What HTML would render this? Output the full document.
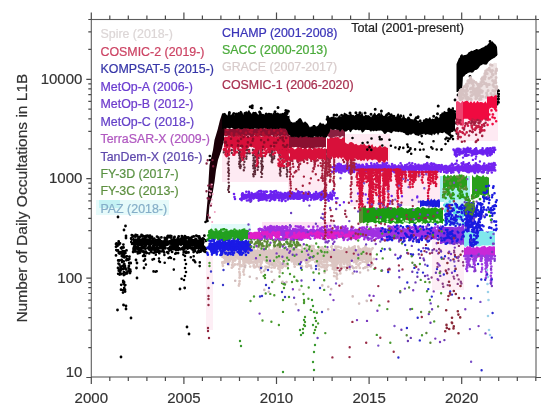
<!DOCTYPE html>
<html><head><meta charset="utf-8"><style>
html,body{margin:0;padding:0;background:#fff;width:550px;height:415px;overflow:hidden}
svg{position:absolute;left:0;top:0;filter:blur(0.35px)}
text{font-family:"Liberation Sans",sans-serif}
.tk{font-size:15px;fill:#333}
.lg{font-size:12.4px;stroke-width:0.22px}
.tk,.yl{stroke:#333;stroke-width:0.2px}
.yl{font-size:15.5px;fill:#333}
</style></head><body>
<svg width="550" height="415" viewBox="0 0 550 415">
<rect x="222" y="146" width="68" height="36" fill="#feeaf3"/>
<rect x="288" y="152" width="40" height="40" fill="#feeaf3"/>
<rect x="328" y="134" width="62" height="30" fill="#feeaf3"/>
<rect x="350" y="170" width="90" height="36" fill="#feeaf3"/>
<rect x="456" y="95" width="42" height="46" fill="#feeaf3"/>
<rect x="211" y="224" width="40" height="8" fill="#e2fafa"/>
<rect x="262" y="222" width="72" height="6" fill="#fde3f3"/>
<rect x="432" y="240" width="32" height="50" fill="#fdeef5"/>
<rect x="96" y="200" width="73" height="15" fill="#e6fafa"/>
<rect x="206" y="255" width="7" height="75" fill="#fdeef5"/>
<rect x="99" y="200" width="21" height="8" fill="#c4f2f4"/>
<path d="M224.0 248.9 225.6 247.9 227.2 250.8 228.8 247.3 230.4 250.0 232.0 249.0 233.6 247.1 235.2 249.7 236.8 246.9 238.4 249.2 240.0 247.0 241.6 247.1 243.2 249.0 244.8 251.4 246.4 247.2 248.0 247.7 249.6 250.1 251.2 252.0 252.8 249.7 254.4 248.6 256.0 252.0 257.6 246.4 259.2 251.2 260.8 247.8 262.4 246.9 264.0 246.7 265.6 247.8 267.2 250.8 268.8 246.9 270.4 249.3 272.0 249.6 273.6 247.9 275.2 248.9 276.8 246.0 278.4 245.9 280.0 246.8 281.6 249.6 283.2 248.0 284.8 247.3 286.4 248.9 288.0 248.0 289.6 247.1 291.2 250.0 292.8 249.4 294.4 246.6 296.0 248.6 297.6 248.2 299.2 250.3 300.8 249.4 302.4 246.7 304.0 250.9 305.6 245.7 307.2 247.5 308.8 249.5 310.4 245.9 312.0 247.9 313.6 245.2 315.2 249.0 316.8 249.6 318.4 248.4 320.0 250.3 321.6 246.9 323.2 249.2 324.8 248.6 326.4 248.5 328.0 247.7 329.6 250.0 331.2 250.7 332.8 247.8 334.4 249.0 336.0 245.4 337.6 249.2 339.2 248.9 340.8 251.0 342.4 249.9 344.0 246.7 345.6 247.3 347.2 249.0 348.8 245.1 350.4 247.8 352.0 246.2 353.6 246.0 355.2 245.8 356.8 250.2 358.4 246.5 360.0 247.4 361.6 248.4 363.2 251.4 364.8 246.8 366.4 249.2 368.0 249.9 369.6 252.1 371.2 251.8 372.0 252.2 372.0 260.7 371.2 261.5 369.6 261.2 368.0 264.4 366.4 264.8 364.8 260.0 363.2 260.2 361.6 260.5 360.0 260.6 358.4 262.1 356.8 262.7 355.2 260.8 353.6 259.3 352.0 261.8 350.4 261.5 348.8 262.7 347.2 265.1 345.6 263.5 344.0 262.5 342.4 263.1 340.8 263.5 339.2 259.8 337.6 264.9 336.0 264.2 334.4 264.8 332.8 264.3 331.2 261.9 329.6 262.0 328.0 260.2 326.4 263.4 324.8 260.0 323.2 260.1 321.6 261.0 320.0 260.7 318.4 261.8 316.8 260.1 315.2 259.8 313.6 260.7 312.0 260.4 310.4 262.0 308.8 260.0 307.2 265.1 305.6 263.6 304.0 260.8 302.4 261.5 300.8 262.1 299.2 262.2 297.6 260.7 296.0 265.0 294.4 265.8 292.8 262.6 291.2 262.7 289.6 260.2 288.0 260.3 286.4 261.7 284.8 261.2 283.2 264.5 281.6 260.5 280.0 259.6 278.4 265.1 276.8 262.6 275.2 260.2 273.6 262.6 272.0 259.4 270.4 262.4 268.8 265.0 267.2 264.3 265.6 263.3 264.0 260.6 262.4 261.2 260.8 260.0 259.2 263.6 257.6 262.1 256.0 263.5 254.4 260.8 252.8 260.1 251.2 263.6 249.6 264.6 248.0 263.7 246.4 263.4 244.8 263.5 243.2 262.9 241.6 259.8 240.0 261.5 238.4 260.5 236.8 258.5 235.2 258.5 233.6 259.9 232.0 259.8 230.4 262.3 228.8 263.9 227.2 260.8 225.6 263.7 224.0 263.9Z" fill="#dcc6c2"/>
<path d="M367.2 254.0h0M255.5 251.0h0M251.9 250.5h0M316.9 265.8h0M349.7 256.5h0M321.3 263.6h0M234.9 260.5h0M360.3 263.2h0M336.0 256.5h0M249.1 263.4h0M272.5 263.6h0M369.7 254.7h0M283.0 266.8h0M332.2 249.7h0M241.3 249.3h0M359.5 263.7h0M244.2 264.2h0M371.0 260.5h0M275.3 258.1h0M241.9 246.3h0M369.6 260.3h0M302.0 266.5h0M287.9 265.2h0M347.6 250.6h0M260.3 252.4h0M258.6 258.9h0M261.4 255.2h0M241.9 266.0h0M275.8 256.1h0M310.7 265.9h0M285.9 266.2h0M298.3 257.7h0M301.6 246.4h0M288.9 250.0h0M222.6 263.6h0M248.2 256.4h0M332.2 258.2h0M271.5 257.4h0M306.4 263.3h0M238.1 258.3h0M259.8 252.1h0M339.4 257.2h0M307.4 262.7h0M360.7 255.8h0M315.1 257.1h0M299.8 261.2h0M290.8 257.7h0M294.7 266.7h0M328.3 265.3h0M365.2 251.7h0M307.0 266.8h0M349.7 249.0h0M240.5 255.7h0M233.0 251.3h0M233.1 260.7h0M341.2 265.7h0M245.5 261.8h0M322.4 249.1h0M356.2 267.3h0M255.4 267.0h0M282.5 256.7h0M372.5 264.3h0M246.5 255.5h0M300.4 253.5h0M251.8 253.0h0M331.8 246.4h0M306.2 255.7h0M224.7 253.3h0M316.8 257.3h0M231.8 267.7h0M341.8 267.4h0M237.9 251.8h0M228.0 263.1h0M263.1 248.9h0M286.2 266.1h0M346.5 251.7h0M244.7 266.2h0M308.7 261.4h0M235.6 247.3h0M326.6 255.4h0M233.0 266.6h0M318.4 263.6h0M234.7 264.8h0M232.1 265.0h0M291.0 253.5h0M306.1 266.4h0M262.7 248.8h0M302.1 251.2h0M238.6 249.6h0M229.7 250.4h0M269.4 252.7h0M337.4 252.4h0M298.0 249.9h0M274.7 246.4h0M260.1 246.3h0M333.4 258.1h0M250.8 256.4h0M364.1 248.3h0M346.5 255.5h0M297.2 264.4h0M281.7 257.1h0M326.5 267.6h0M274.1 264.3h0M329.4 260.0h0M283.5 253.6h0M230.3 248.9h0M232.7 262.3h0M260.9 249.6h0M234.8 264.5h0M354.3 260.8h0M264.9 251.3h0M266.5 256.1h0M245.9 255.8h0M262.0 267.2h0M369.8 258.0h0M259.2 267.2h0M269.1 253.8h0M222.2 254.4h0M294.1 257.1h0M252.5 257.1h0M222.8 251.8h0M235.6 254.8h0M228.3 246.5h0M268.2 251.1h0M311.0 257.6h0M336.1 260.5h0M330.8 265.3h0M281.2 253.2h0M371.7 249.3h0M332.1 260.2h0M228.7 264.4h0M357.6 259.8h0M333.5 263.9h0M243.2 257.5h0M298.7 264.4h0M344.3 264.2h0M310.8 265.6h0M325.8 261.3h0M257.0 246.7h0M242.2 253.9h0M237.9 264.4h0M306.9 259.8h0M317.2 261.0h0M296.4 246.1h0M343.3 262.5h0M298.5 257.8h0M322.2 247.5h0M334.0 251.5h0M233.3 251.8h0M332.9 250.5h0M334.5 267.5h0M297.1 254.4h0M294.8 261.0h0M338.6 259.6h0M319.7 247.7h0M244.4 251.6h0M335.0 252.7h0M308.3 246.3h0M231.2 251.9h0M324.1 261.2h0M324.7 252.4h0M300.5 256.2h0M292.9 248.6h0M357.8 250.4h0M370.7 266.6h0M224.7 256.1h0M346.6 267.3h0M290.3 251.9h0M253.9 266.8h0M254.0 258.8h0M243.5 257.5h0M366.8 248.9h0M346.7 257.2h0M356.8 261.5h0M257.2 265.7h0M295.9 246.5h0M222.5 256.8h0M290.5 252.6h0M243.4 253.6h0M270.0 264.5h0M222.3 262.5h0M349.5 248.6h0M362.8 261.7h0M359.0 252.4h0M278.6 254.6h0M373.8 259.0h0M276.8 255.4h0M263.8 247.1h0M237.5 264.4h0M265.4 266.6h0M259.9 251.8h0M299.7 250.2h0M278.7 267.0h0M356.4 263.9h0M317.9 266.1h0M365.0 258.1h0M331.4 247.1h0M333.3 255.9h0M336.4 260.2h0M265.5 247.1h0M362.9 248.8h0M293.8 253.6h0M267.3 262.3h0M370.4 251.7h0M321.7 252.6h0M306.7 254.7h0M247.4 249.6h0M253.6 265.9h0M297.6 250.8h0M359.8 267.9h0M290.4 249.1h0M251.2 248.0h0M274.0 248.0h0M258.3 251.7h0M308.6 265.5h0M335.9 255.1h0M284.9 257.5h0M279.3 253.4h0M231.4 252.1h0M369.1 248.8h0M298.5 259.9h0M353.2 250.8h0M263.2 251.5h0M282.8 255.8h0M367.0 264.7h0M354.7 246.5h0M226.9 261.6h0M358.1 256.4h0M311.3 246.0h0M281.5 266.4h0M347.5 264.8h0M369.8 251.5h0M238.6 249.4h0M301.4 261.0h0M365.1 261.9h0M320.4 262.8h0M291.5 258.1h0M228.0 263.2h0M257.4 266.2h0M320.1 252.7h0M241.5 251.5h0M318.7 261.4h0M239.0 247.5h0M301.7 258.8h0M281.0 250.9h0M313.4 246.2h0M267.8 256.1h0M367.8 260.2h0M356.3 256.5h0M257.7 251.4h0M368.0 261.5h0M268.7 246.5h0M297.7 260.8h0M285.8 251.7h0M323.4 266.4h0M256.5 246.8h0M273.4 255.3h0M325.8 250.4h0M343.2 262.3h0M298.7 250.5h0M369.4 252.9h0M346.6 251.1h0M255.7 262.7h0M266.8 266.9h0M297.4 250.1h0M255.9 255.2h0M323.1 266.9h0M244.3 254.7h0M254.4 267.4h0M243.6 247.1h0M231.1 254.7h0M358.5 265.4h0M333.4 267.9h0M363.6 253.2h0M250.2 266.6h0M335.4 246.7h0M323.0 254.3h0M278.8 253.3h0M247.7 246.1h0M264.5 253.7h0M367.2 248.7h0M368.6 250.6h0M276.2 264.1h0M346.9 255.5h0M229.5 256.4h0M278.7 266.2h0M251.3 254.0h0M358.3 246.7h0M284.4 263.9h0M338.5 246.9h0M227.3 247.4h0M361.9 251.7h0M335.6 265.8h0M273.5 252.0h0M367.6 259.6h0M261.9 261.8h0M270.1 252.1h0M222.6 262.6h0M361.3 259.9h0M365.4 246.5h0M257.5 256.5h0M367.4 267.0h0M280.8 251.5h0M287.4 256.9h0M363.1 250.0h0M344.0 262.2h0M347.1 263.0h0M314.3 253.2h0M270.6 254.0h0M340.9 247.7h0M252.0 262.6h0M259.6 247.4h0M227.1 258.2h0M271.5 267.6h0M356.3 267.7h0M262.3 247.8h0M236.7 257.0h0M329.9 255.8h0M257.6 255.2h0M316.3 260.8h0M335.7 264.6h0M323.0 248.7h0M349.8 252.5h0M308.2 254.2h0M334.2 250.4h0M259.6 251.4h0M245.3 265.5h0M309.9 253.2h0M282.2 267.8h0M299.1 251.1h0M344.9 260.4h0M372.6 248.3h0M294.2 264.0h0M349.8 266.1h0M228.1 252.5h0M240.1 250.2h0M369.9 258.8h0M363.4 254.2h0M353.7 255.9h0M261.5 263.1h0M365.7 248.3h0M312.6 259.6h0M255.1 254.1h0M243.5 250.5h0M260.7 259.2h0M321.0 250.5h0M223.7 253.2h0M325.1 250.1h0M269.5 250.5h0M342.9 258.1h0M231.6 248.2h0M282.1 258.1h0M319.2 248.0h0M246.9 261.3h0M284.3 252.2h0M268.8 267.0h0M269.5 258.5h0M276.3 255.2h0M353.4 267.9h0M277.3 250.3h0M332.7 250.5h0M222.9 265.8h0M286.4 264.0h0M283.7 265.4h0M292.1 249.6h0M224.3 258.1h0M319.4 266.0h0M235.5 259.7h0M278.4 257.1h0M244.2 252.2h0M301.2 266.4h0M238.5 256.8h0M344.3 267.3h0M252.0 248.8h0M365.3 267.5h0M295.4 247.2h0M362.8 254.5h0M359.4 259.6h0M347.3 249.5h0M341.4 250.9h0M283.5 264.6h0M348.0 250.0h0M255.2 254.8h0M300.7 254.4h0M240.7 251.4h0M332.2 265.7h0M228.2 258.4h0M337.1 246.8h0M349.4 248.6h0M313.1 258.1h0M317.3 252.7h0M285.9 258.8h0M286.7 260.5h0M289.9 255.6h0M225.6 259.6h0M296.4 251.2h0M338.1 263.2h0M291.7 250.0h0M293.9 248.4h0M241.5 255.5h0M235.9 255.7h0M299.7 262.0h0M332.6 262.0h0M332.6 263.6h0M333.1 265.9h0M333.0 267.7h0M332.0 262.0h0M332.3 265.5h0M332.8 268.9h0M340.2 262.0h0M341.0 264.2h0M341.2 266.1h0M341.1 268.2h0M340.7 270.0h0M340.3 273.4h0M298.3 262.0h0M298.5 263.9h0M324.2 262.0h0M324.1 265.1h0M324.8 267.7h0M325.0 269.9h0M324.7 272.6h0M239.6 262.0h0M239.8 264.3h0M240.1 266.4h0M239.3 269.1h0M239.4 272.1h0M239.8 274.0h0M239.9 275.6h0M239.6 277.7h0M239.6 281.2h0M239.3 284.0h0M238.9 285.6h0M315.2 262.0h0M243.7 262.0h0M223.9 262.0h0M257.3 262.0h0M257.3 263.9h0M243.6 262.0h0M243.5 263.8h0M244.4 266.6h0M243.8 269.7h0M243.4 271.8h0M244.0 274.6h0M320.1 262.0h0M260.2 262.0h0M260.7 264.6h0M260.2 266.6h0M260.2 269.7h0M261.3 272.3h0M253.5 262.0h0M253.9 264.8h0M269.2 262.0h0M339.3 262.0h0M340.2 265.2h0M340.2 267.7h0M257.1 262.0h0M273.9 262.0h0M273.9 265.2h0M273.7 267.3h0M340.4 262.0h0M341.2 264.8h0M354.0 262.0h0M334.4 262.0h0M334.6 264.2h0M333.8 266.4h0M334.3 269.7h0M334.3 272.6h0M334.1 276.1h0M327.2 262.0h0M327.3 265.0h0M326.9 267.1h0M326.7 269.9h0M244.9 262.0h0M274.5 262.0h0M326.7 262.0h0M326.0 265.0h0M278.2 262.0h0M277.3 265.3h0M278.3 268.6h0M239.4 262.0h0M349.6 262.0h0M349.6 265.2h0M349.0 267.3h0M349.8 269.0h0M270.7 262.0h0M271.0 264.0h0M279.0 262.0h0M349.4 262.0h0M349.9 264.4h0M275.4 262.0h0M275.8 264.0h0M275.7 265.7h0M274.7 267.6h0M336.2 262.0h0M336.8 264.5h0M336.4 267.6h0M336.6 270.1h0M336.5 273.3h0M336.5 276.7h0M337.0 278.7h0M239.8 262.0h0M240.5 265.1h0M316.8 262.0h0M356.2 262.0h0M255.0 262.0h0M279.8 262.0h0M280.2 264.5h0M280.4 267.5h0M280.0 270.3h0M279.7 272.5h0M321.6 262.0h0M322.3 264.4h0M321.5 267.1h0" stroke="#dcc6c2" stroke-width="2.8" stroke-linecap="round" fill="none"/>
<path d="M123.4 244.6h0M116.8 245.5h0M121.7 253.7h0M116.5 243.3h0M117.4 245.9h0M120.0 243.4h0M118.1 243.8h0M124.3 251.9h0M116.0 255.4h0M116.0 246.8h0M124.3 252.9h0M122.0 247.5h0M116.9 250.6h0M116.0 244.1h0M118.7 241.5h0M118.8 252.9h0M121.6 248.5h0M121.0 247.9h0M116.3 250.1h0M118.8 252.1h0M123.6 247.5h0M120.5 252.2h0M119.0 244.4h0M121.9 254.2h0M122.4 251.5h0M123.1 251.2h0M121.1 247.8h0M118.0 250.4h0M119.3 260.5h0M128.6 267.8h0M126.5 256.3h0M123.7 261.4h0M126.4 260.2h0M127.1 273.3h0M120.5 266.4h0M128.5 259.7h0M124.6 274.4h0M118.5 263.6h0M120.2 269.5h0M130.7 263.0h0M119.4 264.4h0M125.3 267.9h0M124.9 266.0h0M129.2 263.0h0M123.5 273.7h0M120.8 267.1h0M123.3 269.1h0M119.7 274.6h0M122.8 251.4h0M121.7 260.0h0M118.2 260.5h0M123.7 267.5h0M122.8 256.6h0M121.0 268.5h0M130.7 263.2h0M121.0 270.0h0M123.3 255.3h0M119.7 269.4h0M128.9 265.9h0M124.3 264.1h0M121.1 274.1h0M122.8 266.0h0M129.1 270.4h0M124.3 257.4h0M125.4 253.1h0M129.3 258.9h0M129.5 256.7h0M123.1 256.3h0M123.8 254.6h0M118.0 268.0h0M121.8 256.1h0M122.1 262.0h0M123.8 265.9h0M126.9 259.1h0M130.5 271.4h0M118.8 270.7h0M130.2 269.6h0M119.9 270.8h0M126.5 250.4h0M118.2 273.8h0M126.9 256.3h0M119.4 253.6h0M121.2 269.4h0M122.7 253.8h0M130.2 269.8h0M120.3 272.3h0M126.2 269.5h0M127.0 272.3h0M128.6 271.0h0M120.7 267.3h0M125.2 268.5h0M123.9 272.1h0M125.5 256.6h0M121.2 253.5h0M124.7 251.5h0M123.8 275.0h0M123.9 282.5h0M124.2 290.1h0M121.0 289.7h0M123.8 283.8h0M125.0 289.7h0M123.2 280.8h0M126.8 273.6h0M124.8 285.4h0M121.2 284.8h0M125.1 291.6h0M123.0 292.6h0M124.1 282.2h0M126.4 272.7h0M125.3 285.1h0M123.0 290.1h0M123.2 282.0h0M124.2 288.2h0M118.0 217.0h0M125.5 226.0h0M124.0 230.0h0M126.0 236.0h0M126.0 238.0h0M121.0 357.0h0M117.5 310.0h0M123.5 305.0h0M126.0 306.0h0M126.0 309.0h0M137.0 278.0h0M136.0 260.0h0M137.0 263.0h0M136.5 268.0h0M144.0 255.0h0M145.0 256.0h0M144.0 268.0h0M130.0 273.0h0M131.0 318.0h0M180.0 289.0h0M184.7 288.0h0M187.0 327.0h0M189.0 334.0h0" stroke="#000" stroke-width="2.8" stroke-linecap="round" fill="none"/>
<path d="M133.0 237.6 134.6 238.4 136.2 238.4 137.8 238.8 139.4 239.7 141.0 238.2 142.6 239.8 144.2 238.6 145.8 239.0 147.4 238.3 149.0 239.1 150.6 240.6 152.2 239.7 153.8 240.1 155.4 238.8 157.0 238.8 158.6 238.8 160.2 239.8 161.8 239.9 163.4 240.4 165.0 238.2 166.6 240.3 168.2 240.9 169.8 239.9 171.4 238.4 173.0 239.2 174.6 238.4 176.2 239.0 177.8 241.2 179.4 240.3 181.0 240.5 182.6 240.8 184.2 241.1 185.8 240.2 187.4 240.2 189.0 240.2 190.6 240.4 192.2 240.0 193.8 240.3 195.4 238.8 197.0 240.1 198.6 239.5 200.2 240.4 201.8 238.3 203.4 238.6 204.0 238.1 204.0 247.8 203.4 248.2 201.8 247.4 200.2 246.5 198.6 247.8 197.0 247.7 195.4 246.9 193.8 246.0 192.2 246.1 190.6 246.4 189.0 246.0 187.4 246.3 185.8 246.9 184.2 247.7 182.6 245.0 181.0 246.5 179.4 244.9 177.8 245.1 176.2 247.1 174.6 246.4 173.0 247.3 171.4 245.9 169.8 244.5 168.2 245.7 166.6 246.3 165.0 247.3 163.4 247.4 161.8 245.9 160.2 245.7 158.6 244.8 157.0 246.4 155.4 245.1 153.8 245.0 152.2 244.5 150.6 244.5 149.0 246.6 147.4 244.9 145.8 247.4 144.2 244.8 142.6 247.1 141.0 244.9 139.4 244.6 137.8 246.7 136.2 245.2 134.6 246.7 133.0 245.1Z" fill="#000"/>
<path d="M134.8 245.8h0M184.5 247.5h0M185.7 237.0h0M178.1 245.4h0M165.5 248.1h0M150.1 248.5h0M184.8 236.1h0M132.1 243.9h0M192.3 236.9h0M154.3 245.3h0M143.4 247.0h0M167.5 236.5h0M158.6 243.2h0M163.9 244.7h0M141.9 246.1h0M158.2 244.2h0M178.2 241.5h0M159.9 246.1h0M201.9 246.8h0M173.5 239.7h0M135.5 248.6h0M183.7 247.1h0M155.9 243.6h0M204.3 247.5h0M176.1 240.0h0M163.1 247.5h0M159.3 244.7h0M176.1 247.8h0M191.6 239.7h0M131.1 238.3h0M162.7 243.4h0M192.2 248.1h0M134.2 246.6h0M191.9 247.8h0M173.9 239.5h0M194.8 247.0h0M182.3 248.2h0M157.0 236.6h0M172.5 246.4h0M146.0 245.5h0M200.9 238.9h0M176.5 244.9h0M165.9 238.4h0M150.1 245.6h0M190.4 242.1h0M137.6 246.2h0M188.9 239.0h0M174.5 247.8h0M197.4 243.0h0M166.7 243.5h0M145.2 237.7h0M144.6 244.8h0M158.2 243.1h0M161.2 242.5h0M142.2 235.5h0M205.8 240.9h0M139.0 243.8h0M190.1 237.9h0M175.8 240.5h0M170.0 236.0h0M133.5 248.9h0M196.0 242.5h0M173.5 239.3h0M189.4 241.7h0M202.0 246.6h0M192.4 249.1h0M150.0 235.7h0M146.1 237.5h0M137.3 235.4h0M172.8 247.4h0M165.4 248.3h0M199.2 236.5h0M175.9 241.2h0M140.0 248.4h0M150.3 243.0h0M179.0 248.7h0M181.2 241.2h0M164.6 237.8h0M203.4 249.8h0M147.6 235.6h0M150.2 240.0h0M198.7 248.5h0M193.8 236.4h0M190.0 245.6h0M179.5 249.1h0M135.2 236.7h0M187.6 248.7h0M181.8 240.0h0M175.4 245.9h0M138.9 239.4h0M150.3 236.9h0M167.1 237.9h0M148.9 237.1h0M181.8 236.1h0M184.8 238.5h0M133.7 248.0h0M147.5 248.1h0M196.0 248.2h0M141.5 241.2h0M138.3 248.0h0M194.2 244.5h0M164.9 240.2h0M192.7 242.4h0M178.1 237.8h0M147.6 235.9h0M184.5 243.4h0M141.9 247.2h0M151.0 240.9h0M142.7 238.7h0M194.0 240.4h0M143.6 241.8h0M154.9 247.7h0M139.6 248.7h0M135.3 247.5h0M181.1 238.8h0M166.8 239.5h0M150.3 238.0h0M158.3 248.9h0M205.9 248.9h0M138.3 238.9h0M198.2 236.5h0M185.5 239.9h0M204.4 235.7h0M191.5 240.5h0M141.5 234.9h0M193.4 243.1h0M144.9 241.1h0M199.4 238.7h0M173.9 237.7h0M144.5 245.8h0M184.4 238.6h0M136.9 236.0h0M176.6 242.5h0M151.5 238.0h0M176.9 245.3h0M191.9 243.8h0M146.2 235.9h0M186.0 241.4h0M185.1 236.6h0M191.8 240.4h0M194.1 247.8h0M168.0 235.9h0M199.3 242.4h0M196.4 239.4h0M145.0 246.6h0M158.5 237.7h0M158.8 243.5h0M131.3 242.0h0M164.4 242.5h0M140.1 245.0h0M192.2 247.8h0M155.1 245.1h0M159.6 245.6h0M135.6 247.2h0M202.6 242.7h0M169.5 242.8h0M171.3 236.1h0M203.6 238.8h0M144.7 236.4h0M149.8 246.5h0M133.3 236.0h0M183.4 238.6h0M132.3 243.2h0M174.2 242.8h0M183.7 237.3h0M196.2 245.8h0M134.4 236.4h0M168.0 242.4h0M152.0 236.9h0M161.4 237.4h0M175.4 247.3h0M142.0 243.0h0M187.0 238.1h0M193.0 248.8h0M160.2 241.2h0M194.0 243.1h0M160.7 248.2h0M189.3 240.5h0M149.0 239.8h0M163.7 248.7h0M191.3 248.4h0M192.1 247.5h0M135.0 242.1h0M202.8 249.0h0M149.7 241.0h0M178.5 240.8h0M170.8 236.7h0M163.5 242.4h0M132.6 236.6h0M203.7 246.7h0M201.3 244.6h0M191.7 248.0h0M197.3 236.1h0M179.1 239.5h0M181.9 239.6h0M171.7 248.0h0M177.6 239.3h0M170.0 241.5h0M202.3 239.7h0M153.9 244.2h0M140.0 243.2h0M202.7 242.9h0M151.1 241.6h0M171.0 237.7h0M140.3 236.7h0M153.0 240.8h0M152.6 238.6h0M137.6 242.5h0M194.0 244.2h0M173.8 244.5h0M146.1 245.0h0M165.6 243.0h0M177.0 242.1h0M154.3 238.6h0M147.6 242.2h0M159.7 243.4h0M131.9 239.6h0M195.6 239.0h0M172.7 242.3h0M152.4 248.8h0M153.2 245.9h0M142.9 235.9h0M196.3 241.9h0M135.7 240.2h0M164.0 245.5h0M139.2 238.0h0M202.9 246.2h0M142.6 239.7h0M157.4 244.6h0M177.2 247.2h0M192.6 242.9h0M186.4 246.0h0M188.0 242.3h0M189.9 245.6h0M199.6 237.4h0M196.3 235.7h0M188.4 243.9h0M168.3 248.5h0M173.9 241.4h0M189.8 247.8h0M176.6 241.0h0M164.9 241.7h0M185.2 239.9h0M160.3 243.0h0M159.8 239.8h0M190.0 247.5h0M168.5 241.6h0M144.8 239.2h0M141.9 243.0h0M174.6 237.0h0M200.0 240.2h0M194.3 247.4h0M202.9 238.5h0M163.0 247.8h0M131.8 235.2h0M173.4 242.4h0M200.0 246.6h0M171.4 249.0h0M169.8 242.6h0M182.4 241.2h0M157.8 243.5h0M157.3 248.3h0M181.7 243.0h0M138.4 240.1h0M161.1 243.1h0M174.1 247.5h0M203.3 242.6h0M164.0 244.0h0M205.7 240.5h0M170.8 246.6h0M143.8 239.4h0M204.4 247.5h0M169.4 237.2h0M198.1 245.4h0M192.5 249.5h0M197.6 241.6h0M142.7 239.0h0M169.4 242.4h0M145.1 237.5h0M178.3 244.0h0M157.5 248.9h0M178.7 236.5h0M161.9 246.1h0M154.0 244.8h0M131.3 238.9h0M194.2 243.9h0M181.1 238.6h0M168.3 243.1h0M151.0 244.1h0M170.9 249.0h0M174.1 241.3h0M140.1 237.0h0M188.0 237.3h0M138.5 237.2h0M170.2 246.7h0M177.0 246.6h0M135.7 234.8h0M188.8 240.3h0M184.7 240.7h0M143.7 238.7h0M138.5 247.6h0M174.7 240.5h0M164.7 240.8h0M135.1 247.4h0M174.7 248.6h0M164.0 243.9h0M149.7 235.8h0M200.8 247.8h0M154.6 247.6h0M192.2 240.0h0M176.2 253.2h0M168.2 253.2h0M149.2 249.5h0M184.9 248.4h0M154.2 252.7h0M167.3 252.2h0M149.3 248.1h0M157.9 248.2h0M203.9 248.9h0M173.1 247.7h0M171.0 249.5h0M161.2 247.4h0M140.2 252.4h0M157.3 248.6h0M145.3 248.8h0M148.8 247.2h0M180.8 249.2h0M142.7 251.6h0M137.9 248.8h0M193.6 247.8h0M164.2 252.4h0M191.4 248.0h0M157.5 251.7h0M159.3 253.2h0M146.6 253.2h0M168.9 248.5h0M165.0 247.9h0M184.0 248.7h0M198.5 250.8h0M158.6 248.6h0M176.6 248.4h0M196.4 247.8h0M169.5 250.5h0M151.3 252.0h0M159.9 251.3h0M173.6 249.0h0M160.2 247.6h0M144.3 252.5h0M155.1 251.3h0M139.2 250.7h0M158.1 250.3h0M153.3 247.4h0M154.3 248.5h0M140.5 251.7h0M152.2 249.6h0M199.2 252.0h0M197.2 252.6h0M140.9 248.8h0M133.2 251.4h0M180.8 249.3h0M161.9 251.3h0M183.4 248.6h0M194.5 249.3h0M178.2 248.2h0M139.6 252.9h0M186.1 251.6h0M134.0 247.3h0M143.2 248.3h0M153.7 249.5h0M133.9 249.0h0M178.9 248.2h0M194.0 250.7h0M184.7 248.7h0M163.6 251.4h0M157.2 247.0h0M193.6 252.0h0M152.5 247.3h0M195.1 250.9h0M134.6 248.6h0M139.3 252.1h0M146.8 252.9h0M187.2 247.6h0M183.1 249.6h0M187.1 252.4h0M152.1 247.6h0M202.0 249.8h0M200.8 251.5h0M186.4 252.4h0M178.1 249.9h0M135.1 251.5h0M163.1 250.3h0M200.6 247.8h0M188.1 247.3h0M183.7 252.2h0M150.6 250.6h0M203.7 251.1h0M171.8 248.6h0M135.5 249.3h0M161.9 248.3h0M154.3 247.9h0M184.0 251.4h0M148.8 248.6h0M169.7 249.9h0M201.2 249.3h0M153.5 252.8h0M141.6 250.7h0M156.0 252.3h0M172.1 251.9h0M143.7 251.3h0M175.9 250.0h0M188.5 252.4h0M139.6 248.9h0M158.0 248.3h0M135.5 248.8h0M145.8 251.6h0M164.6 247.7h0M155.3 250.0h0M158.2 248.1h0M136.4 247.1h0M205.4 251.9h0M137.3 251.7h0M204.5 250.7h0M139.2 250.2h0M163.6 248.2h0M171.7 247.1h0M200.0 251.2h0M178.1 253.1h0M179.9 248.6h0M149.4 247.9h0M133.1 252.0h0M194.0 248.9h0" stroke="#000" stroke-width="2.8" stroke-linecap="round" fill="none"/>
<path d="M145.1 259.4h0M195.3 262.3h0M143.8 260.8h0M194.1 260.4h0M155.8 254.8h0M193.7 256.2h0M159.0 258.5h0M159.1 261.3h0M149.2 253.4h0M174.1 259.3h0M193.3 260.1h0M199.8 262.4h0M168.6 258.0h0M143.0 256.0h0M175.2 253.8h0M183.3 254.6h0M164.7 262.7h0M137.8 253.4h0M164.4 254.9h0M185.9 253.0h0M194.9 261.6h0M190.8 257.3h0M152.5 259.6h0M170.1 257.2h0M156.7 271.3h0M181.6 278.7h0M199.7 266.1h0M153.5 271.4h0M173.8 269.6h0M145.9 264.6h0M155.6 271.7h0M185.0 256.0h0M185.0 260.0h0M186.0 264.0h0M185.0 268.0h0M186.0 272.0h0M185.0 276.0h0M184.0 280.0h0M154.0 259.0h0M160.0 262.0h0M171.0 258.0h0" stroke="#000" stroke-width="2.6" stroke-linecap="round" fill="none"/>
<path d="M209.0 242.9 210.6 242.7 212.2 242.5 213.8 243.0 215.4 243.0 217.0 241.7 218.6 242.5 220.2 239.5 221.8 242.0 223.4 241.8 225.0 240.6 226.6 241.7 228.2 243.3 229.8 241.4 231.4 242.1 233.0 240.8 234.6 241.0 236.2 243.2 237.8 239.8 239.4 240.5 241.0 242.5 242.6 241.6 244.2 240.2 245.8 242.5 247.4 241.4 249.0 242.3 250.6 241.7 251.0 242.1 251.0 252.3 250.6 251.6 249.0 250.4 247.4 250.6 245.8 253.4 244.2 252.0 242.6 250.2 241.0 253.2 239.4 250.7 237.8 250.1 236.2 251.8 234.6 250.6 233.0 251.5 231.4 251.7 229.8 250.4 228.2 251.7 226.6 249.9 225.0 251.4 223.4 251.7 221.8 249.6 220.2 250.9 218.6 249.5 217.0 250.9 215.4 252.6 213.8 251.3 212.2 251.9 210.6 252.1 209.0 249.5Z" fill="#1a1ae6"/>
<path d="M251.6 250.3h0M211.6 252.1h0M224.6 240.9h0M250.2 247.6h0M241.9 240.3h0M241.9 239.0h0M217.7 244.3h0M207.7 248.1h0M216.6 243.1h0M238.8 245.2h0M247.0 248.6h0M246.2 247.6h0M248.3 252.8h0M214.6 250.7h0M222.4 251.0h0M237.6 252.0h0M212.5 244.3h0M240.2 254.1h0M239.5 238.7h0M234.2 239.7h0M231.7 251.7h0M212.1 253.7h0M237.4 242.3h0M215.7 245.6h0M244.7 247.9h0M212.1 238.4h0M212.0 251.6h0M215.3 247.4h0M220.1 249.7h0M224.1 240.5h0M246.4 247.2h0M238.0 251.7h0M249.7 238.2h0M222.4 240.6h0M229.6 252.8h0M243.0 238.6h0M215.2 251.9h0M237.6 244.7h0M228.4 240.7h0M245.0 244.7h0M246.3 248.4h0M210.4 243.6h0M216.7 253.2h0M233.5 238.7h0M214.6 244.1h0M228.0 247.8h0M224.5 244.0h0M207.3 247.8h0M222.0 238.3h0M227.7 254.8h0M209.0 240.5h0M237.2 242.6h0M219.3 246.5h0M218.8 247.7h0M230.8 254.3h0M251.6 238.6h0M232.2 251.1h0M246.3 251.2h0M235.5 248.8h0M223.3 242.8h0M242.8 252.8h0M249.2 249.6h0M220.7 251.0h0M240.3 246.7h0M235.6 244.0h0M231.8 244.9h0M209.7 243.7h0M221.5 254.8h0M228.7 244.2h0M218.0 242.0h0M222.7 240.3h0M207.3 252.8h0M227.4 245.6h0M232.6 243.1h0M214.6 239.1h0M220.6 243.2h0M239.7 247.4h0M249.2 243.8h0M248.5 247.9h0M210.6 241.0h0M233.1 254.8h0M223.1 251.2h0M226.3 252.8h0M210.0 246.2h0M247.5 242.7h0M218.6 238.4h0M214.4 242.6h0M238.7 241.7h0M225.0 241.4h0M234.1 252.7h0M236.2 241.3h0M240.0 254.4h0M234.0 239.3h0M243.4 252.9h0M222.4 240.3h0M215.5 247.1h0M246.4 248.9h0M248.5 241.6h0M221.7 250.7h0M236.2 244.9h0M237.6 243.7h0M209.6 245.0h0M209.0 248.6h0M222.1 246.4h0M233.9 242.4h0M227.9 238.2h0M248.6 247.6h0M251.4 239.0h0M234.6 250.3h0M221.8 239.6h0M214.0 240.4h0M241.5 239.5h0M243.6 245.2h0M231.2 248.0h0M232.0 249.2h0M234.1 243.6h0M240.3 242.4h0M239.0 251.0h0M241.9 243.3h0M241.8 254.6h0M227.4 242.7h0M230.5 254.0h0M212.9 238.2h0M228.4 249.1h0M241.8 244.2h0M251.5 241.9h0M241.0 239.5h0M208.3 240.3h0M209.7 246.5h0M232.0 241.1h0M249.3 244.2h0M213.7 241.0h0M240.2 253.7h0M214.3 238.5h0M242.0 242.1h0M251.2 246.5h0M235.6 243.9h0M243.0 245.8h0M221.6 253.4h0M211.9 250.5h0M209.9 249.0h0M225.1 252.7h0M209.7 247.6h0M225.4 253.6h0M249.5 248.7h0M217.1 242.3h0M218.8 245.4h0M217.4 241.5h0M241.2 248.9h0M220.4 254.9h0M216.7 247.7h0M214.1 252.7h0M246.1 242.5h0M240.8 252.0h0M219.7 243.6h0M228.8 253.1h0M214.3 249.6h0M233.9 245.7h0M233.1 253.0h0M216.4 253.0h0M223.2 251.3h0M245.9 241.1h0M245.9 254.9h0M220.4 238.4h0M212.0 254.6h0M207.4 253.5h0M213.8 250.5h0M211.4 240.9h0M237.7 239.5h0M222.3 253.6h0M239.2 253.0h0M251.1 238.6h0M217.6 251.5h0M238.0 238.6h0M229.7 241.9h0M226.4 239.8h0M207.9 254.8h0M221.2 252.9h0M212.4 246.3h0M213.1 245.3h0M215.1 249.7h0M213.7 250.5h0M229.5 239.9h0M222.9 246.4h0M248.3 243.9h0M216.7 254.4h0M246.7 250.4h0M219.3 241.0h0M218.9 239.2h0M208.9 246.6h0M225.4 247.5h0" stroke="#1a1ae6" stroke-width="2.6" stroke-linecap="round" fill="none"/>
<path d="M209.0 230.6 210.6 229.5 212.2 231.6 213.8 231.5 215.4 231.1 217.0 231.1 218.6 231.6 220.2 232.4 221.8 232.1 223.4 231.7 225.0 230.7 226.6 230.5 228.2 230.8 229.8 232.4 231.4 230.7 233.0 230.7 234.6 230.7 236.2 229.9 237.8 232.5 239.4 229.5 241.0 231.3 242.6 232.3 244.2 230.3 245.8 231.3 247.4 230.6 249.0 230.2 249.0 230.1 249.0 237.3 249.0 239.5 247.4 239.4 245.8 239.7 244.2 237.1 242.6 239.1 241.0 238.0 239.4 238.9 237.8 238.6 236.2 237.9 234.6 239.9 233.0 237.0 231.4 239.2 229.8 239.6 228.2 238.5 226.6 238.8 225.0 240.0 223.4 237.7 221.8 238.9 220.2 239.2 218.6 238.1 217.0 239.1 215.4 238.2 213.8 238.6 212.2 238.8 210.6 239.0 209.0 238.0Z" fill="#22a020"/>
<path d="M234.0 235.0h0M216.6 235.7h0M218.4 239.0h0M227.4 236.9h0M229.4 234.2h0M216.5 230.6h0M246.9 234.8h0M229.5 234.8h0M242.0 231.6h0M214.4 238.0h0M226.8 236.0h0M242.6 238.8h0M244.3 229.5h0M223.4 238.2h0M242.2 230.4h0M213.6 231.8h0M211.4 232.9h0M241.5 234.7h0M226.5 230.0h0M224.0 240.0h0M236.9 233.9h0M227.6 237.8h0M239.6 230.6h0M236.2 233.0h0M229.4 231.6h0M222.9 232.7h0M223.4 229.2h0M215.6 235.3h0M209.5 231.0h0M237.9 232.0h0M220.9 231.7h0M242.9 230.0h0M234.4 238.4h0M215.7 233.7h0M241.1 235.8h0M223.0 229.5h0M226.0 233.0h0M237.6 232.2h0M224.5 236.1h0M241.9 232.9h0M223.6 235.4h0M246.8 231.1h0M248.8 236.8h0M223.0 236.3h0M221.2 229.8h0M239.5 233.2h0M229.6 234.5h0M245.8 237.3h0M208.1 235.5h0M226.9 234.1h0M243.1 233.6h0M227.4 238.8h0M225.9 234.4h0M229.0 238.1h0M235.8 237.1h0M224.3 229.4h0M236.2 235.1h0M240.1 237.5h0M212.1 231.4h0M210.3 238.0h0M211.4 230.0h0M239.4 235.2h0M209.4 236.5h0M237.6 234.3h0M209.4 236.6h0M225.0 235.4h0M249.9 238.0h0M244.5 230.6h0M221.4 234.7h0M207.3 239.9h0M218.8 231.9h0M220.5 231.8h0M243.9 235.1h0M229.0 233.6h0M209.2 232.3h0M244.3 237.8h0M243.8 231.8h0M215.7 229.6h0M230.1 233.1h0M227.0 234.4h0M232.1 233.0h0M241.5 231.2h0M246.5 235.1h0M209.2 232.5h0M229.9 233.5h0M231.3 232.6h0M218.8 237.8h0M219.5 236.8h0M241.5 235.5h0M226.5 239.3h0M226.1 238.7h0M209.5 233.8h0M234.5 229.5h0M244.1 229.8h0M232.6 231.0h0M246.7 235.2h0M241.4 234.5h0M236.0 236.4h0M219.7 231.3h0M243.0 230.6h0M246.5 231.3h0M211.3 230.0h0M240.7 239.5h0M224.8 236.2h0M218.1 239.0h0M236.5 230.7h0M209.4 236.7h0M208.8 238.2h0M219.6 231.6h0M232.0 232.5h0M231.1 230.7h0M246.2 232.6h0M243.2 230.7h0M241.4 239.8h0M223.8 229.4h0M223.3 236.0h0M216.6 235.0h0M211.0 234.1h0" stroke="#22a020" stroke-width="2.6" stroke-linecap="round" fill="none"/>
<path d="M286.4 241.9h0M283.9 239.0h0M291.4 239.1h0M296.2 247.0h0M297.0 242.7h0M264.5 241.1h0M287.5 242.5h0M296.5 238.8h0M274.2 245.8h0M279.9 242.9h0M254.4 239.3h0M263.6 246.0h0M292.3 240.0h0M296.2 238.3h0M279.9 246.7h0M267.2 246.5h0M282.8 238.5h0M266.7 242.0h0M262.4 244.7h0M258.9 245.1h0M264.9 238.6h0M278.0 238.9h0M277.6 245.1h0M279.8 242.2h0M251.7 242.6h0M254.9 243.8h0M256.6 243.2h0M267.6 241.4h0M283.2 239.5h0M258.5 246.5h0M266.6 245.6h0M293.7 242.3h0M257.5 238.8h0M294.0 239.1h0M274.8 242.8h0M255.9 242.2h0M258.2 242.8h0M275.3 241.3h0M259.9 241.6h0M260.2 239.1h0M262.0 245.8h0M275.1 246.0h0M250.8 246.5h0M274.4 245.1h0M278.5 244.2h0M261.5 244.8h0M257.7 240.4h0M251.5 241.5h0M275.9 240.6h0M294.5 238.8h0M278.9 240.1h0M279.8 245.1h0M285.5 238.6h0M262.3 243.4h0M299.1 238.4h0M280.9 244.2h0M290.7 241.1h0M290.5 242.2h0M296.0 238.1h0M297.0 241.7h0M270.4 238.8h0M262.2 244.6h0M283.9 239.4h0M267.2 239.3h0M259.9 240.0h0M266.6 246.8h0M299.9 245.1h0M274.0 242.5h0M289.0 246.2h0M287.6 243.7h0M260.0 243.6h0M292.3 245.1h0M254.6 244.5h0M267.5 239.5h0M298.3 244.1h0M287.3 239.2h0M291.4 246.4h0M295.2 244.7h0M291.6 245.2h0M279.5 241.9h0M291.3 245.1h0M293.5 240.7h0M298.0 242.8h0M297.3 239.0h0M298.4 245.1h0M262.6 245.5h0M261.6 239.8h0M272.9 240.1h0M274.6 246.2h0M284.3 244.4h0M269.6 245.1h0M289.7 244.1h0M297.1 245.4h0M270.3 238.8h0M282.6 245.5h0M267.0 243.4h0M291.8 245.1h0M250.2 242.4h0M250.8 239.0h0" stroke="#5f8a36" stroke-width="2.6" stroke-linecap="round" fill="none"/>
<path d="M312.0 300.0h0M313.0 306.0h0M314.0 312.0h0M315.0 318.0h0M313.0 325.0h0M314.0 333.0h0M315.0 345.0h0M314.0 352.0h0M313.0 362.0h0M314.0 370.0h0M304.0 320.0h0M305.0 326.0h0M303.0 333.0h0M240.0 341.0h0M241.0 346.0h0M283.0 372.0h0M300.0 330.0h0M301.0 335.0h0" stroke="#3a9a30" stroke-width="2.4" stroke-linecap="round" fill="none"/>
<path d="M261.0 229.9 262.6 228.8 264.2 229.3 265.8 228.9 267.4 228.5 269.0 228.1 270.6 228.6 272.2 230.0 273.8 229.4 275.4 228.4 277.0 227.8 278.6 228.3 280.2 229.6 281.8 228.8 283.4 229.5 285.0 229.9 286.6 227.9 288.2 229.5 289.8 227.6 291.4 230.0 293.0 228.1 294.6 228.3 296.2 230.4 297.8 228.6 299.4 228.2 301.0 230.2 302.6 229.3 304.2 230.2 305.8 228.7 307.4 229.0 309.0 230.4 310.6 229.0 312.2 230.5 313.8 228.1 315.4 230.0 317.0 228.0 318.6 229.1 320.2 227.5 321.8 228.0 323.4 230.3 325.0 228.9 326.6 229.9 328.2 228.3 329.8 228.6 331.4 227.8 333.0 229.2 334.6 230.1 336.2 229.0 337.8 228.6 339.4 230.3 341.0 230.2 342.6 229.5 344.2 227.7 345.8 229.4 347.4 228.8 349.0 230.4 350.6 228.6 352.2 229.5 353.8 229.4 355.4 228.6 357.0 229.1 358.6 229.5 360.2 230.2 361.8 229.0 363.4 228.6 365.0 230.4 366.6 227.7 368.2 230.0 369.8 229.6 371.4 229.2 373.0 228.8 374.6 229.8 376.2 230.2 377.8 229.7 379.4 229.7 381.0 227.6 382.6 228.5 384.2 227.9 385.8 230.4 387.4 230.2 389.0 227.9 390.6 229.3 392.2 229.2 393.8 227.6 395.4 228.7 397.0 229.7 398.6 229.4 400.2 228.3 401.8 229.8 403.4 228.4 405.0 229.1 406.6 228.8 408.2 230.4 409.8 229.4 411.4 229.9 413.0 229.5 414.6 228.6 416.2 230.4 417.8 229.6 419.4 229.6 421.0 228.3 422.6 228.0 424.2 229.2 425.8 230.0 427.4 229.9 429.0 228.5 430.6 227.9 432.2 229.0 433.8 230.1 435.4 228.0 437.0 229.7 438.6 228.0 440.0 228.4 440.0 235.7 438.6 236.4 437.0 236.6 435.4 238.4 433.8 238.4 432.2 236.1 430.6 236.4 429.0 238.3 427.4 236.1 425.8 236.5 424.2 236.8 422.6 235.8 421.0 236.3 419.4 236.7 417.8 236.7 416.2 238.4 414.6 236.3 413.0 236.1 411.4 238.2 409.8 236.9 408.2 238.0 406.6 237.4 405.0 237.8 403.4 236.4 401.8 236.0 400.2 237.8 398.6 236.9 397.0 237.2 395.4 237.5 393.8 237.8 392.2 236.3 390.6 236.6 389.0 238.3 387.4 237.1 385.8 236.4 384.2 237.4 382.6 236.3 381.0 237.8 379.4 235.6 377.8 238.0 376.2 237.2 374.6 236.6 373.0 238.3 371.4 236.3 369.8 236.2 368.2 235.7 366.6 237.1 365.0 237.8 363.4 237.5 361.8 236.7 360.2 237.9 358.6 235.8 357.0 236.4 355.4 237.4 353.8 238.4 352.2 237.4 350.6 237.6 349.0 237.8 347.4 236.7 345.8 238.3 344.2 237.7 342.6 236.5 341.0 236.7 339.4 237.9 337.8 236.5 336.2 236.1 334.6 238.1 333.0 237.1 331.4 237.1 329.8 237.5 328.2 238.2 326.6 235.9 325.0 236.5 323.4 235.7 321.8 236.7 320.2 237.0 318.6 238.1 317.0 237.5 315.4 237.2 313.8 236.7 312.2 237.2 310.6 236.3 309.0 238.0 307.4 237.9 305.8 238.0 304.2 236.0 302.6 237.5 301.0 237.8 299.4 237.0 297.8 238.2 296.2 238.2 294.6 237.7 293.0 238.0 291.4 237.4 289.8 238.1 288.2 235.9 286.6 237.6 285.0 237.6 283.4 237.3 281.8 236.3 280.2 235.7 278.6 237.3 277.0 238.0 275.4 236.3 273.8 236.1 272.2 236.2 270.6 235.8 269.0 237.5 267.4 238.4 265.8 237.9 264.2 236.6 262.6 237.6 261.0 235.7Z" fill="#a030e2"/>
<path d="M410.6 230.6h0M258.6 234.8h0M283.3 229.9h0M268.8 232.2h0M359.0 237.3h0M265.2 237.6h0M278.1 229.1h0M372.6 230.8h0M318.2 234.0h0M297.7 237.1h0M296.0 237.8h0M405.2 233.5h0M263.5 236.9h0M263.2 233.1h0M335.2 226.9h0M372.7 236.1h0M364.5 231.6h0M351.2 234.2h0M299.2 238.1h0M439.2 237.3h0M433.0 230.6h0M437.5 227.0h0M345.0 227.9h0M340.6 235.6h0M386.9 232.4h0M320.2 228.7h0M331.3 230.0h0M293.3 236.3h0M352.0 232.1h0M294.0 235.9h0M293.8 229.7h0M360.0 235.8h0M435.1 236.5h0M430.6 238.9h0M389.5 236.1h0M269.4 228.9h0M260.4 238.1h0M389.4 234.8h0M306.0 231.0h0M287.8 234.9h0M438.4 230.3h0M266.1 228.5h0M322.7 238.6h0M404.4 232.4h0M276.6 227.5h0M286.0 236.9h0M343.8 239.9h0M423.9 237.1h0M344.7 237.5h0M281.4 227.5h0M360.5 233.1h0M296.1 229.5h0M261.9 238.7h0M387.3 239.2h0M436.5 232.1h0M391.3 231.4h0M405.8 237.8h0M282.4 226.2h0M297.0 234.2h0M327.0 226.1h0M409.1 237.0h0M342.4 226.6h0M419.8 233.5h0M270.9 230.5h0M371.7 238.4h0M346.2 235.0h0M295.4 229.4h0M422.9 231.4h0M276.9 234.3h0M281.0 228.8h0M341.1 234.2h0M373.8 235.9h0M338.0 226.9h0M389.9 226.8h0M343.7 231.6h0M380.5 236.0h0M301.6 235.1h0M383.9 232.6h0M283.8 238.7h0M367.0 226.9h0M301.4 239.8h0M299.6 231.5h0M401.4 237.5h0M373.4 236.4h0M265.0 227.3h0M435.7 237.2h0M264.9 226.7h0M301.8 239.0h0M298.0 235.4h0M427.3 234.9h0M425.3 229.7h0M285.9 226.3h0M395.8 227.5h0M435.1 235.9h0M292.0 237.3h0M287.6 233.2h0M277.3 237.0h0M419.9 238.8h0M258.4 237.9h0M359.2 237.5h0M349.5 234.7h0M366.2 237.2h0M272.1 226.8h0M357.3 230.1h0M330.2 226.1h0M393.6 226.3h0M409.0 237.4h0M341.4 227.7h0M376.3 228.9h0M336.1 227.5h0M435.7 233.6h0M322.2 227.3h0M390.9 237.9h0M412.4 227.4h0M324.9 230.2h0M396.8 228.1h0M368.4 239.7h0M397.9 226.1h0M271.6 227.6h0M384.0 234.4h0M352.7 232.4h0M332.1 234.6h0M376.0 238.8h0M391.3 237.2h0M424.1 237.7h0M388.4 226.4h0M381.9 237.9h0M336.4 238.3h0M290.7 239.2h0M338.4 235.9h0M304.0 230.2h0M321.4 230.5h0M275.2 232.2h0M436.5 235.2h0M427.7 236.7h0M410.3 239.9h0M395.0 229.8h0M303.5 231.8h0M261.8 229.2h0M419.3 238.9h0M317.8 236.8h0M399.0 238.5h0M402.6 233.4h0M277.1 237.6h0M315.1 234.8h0M324.8 233.5h0M433.7 228.3h0M354.6 235.1h0M356.0 239.1h0M332.2 238.8h0M383.5 239.5h0M274.3 229.0h0M310.3 238.7h0M260.5 229.6h0M388.3 239.9h0M290.1 232.1h0M383.0 235.7h0M393.8 236.5h0M303.2 229.6h0M263.0 235.7h0M296.1 229.6h0M433.5 235.0h0M365.6 235.2h0M366.8 235.7h0M313.3 226.9h0M270.2 226.2h0M323.8 228.0h0M278.5 232.9h0M434.5 235.6h0M307.8 236.8h0M290.4 227.4h0M313.2 231.7h0M383.5 232.2h0M390.6 227.3h0M427.7 230.8h0M409.5 226.4h0M408.8 229.2h0M413.6 237.2h0M380.1 229.9h0M259.8 228.7h0M422.7 228.2h0M378.0 234.2h0M378.3 228.5h0M284.1 227.4h0M436.9 231.4h0M376.7 234.0h0M298.6 226.9h0M260.7 237.9h0M281.7 239.5h0M324.2 236.1h0M283.2 237.0h0M303.8 231.1h0M353.2 227.6h0M303.2 237.1h0M309.9 231.3h0M397.2 229.1h0M293.3 229.1h0M327.9 231.1h0M374.7 232.6h0M416.3 226.7h0M378.8 237.7h0M300.7 226.4h0M337.8 227.6h0M341.7 236.0h0M275.1 227.6h0M345.3 228.4h0M300.0 232.2h0M279.5 227.0h0M323.7 232.6h0M428.5 233.8h0M271.0 229.1h0M393.4 233.9h0M416.4 239.5h0M414.1 227.5h0M429.8 233.3h0M301.6 228.4h0M415.4 229.0h0M273.1 229.7h0M426.2 232.5h0M391.1 227.0h0M340.4 230.4h0M295.4 235.3h0M323.7 227.7h0M437.1 232.7h0M290.8 226.2h0M376.8 233.2h0M262.5 232.6h0M392.8 233.5h0M300.6 233.0h0M368.1 235.1h0M284.4 237.3h0M430.1 236.4h0M414.0 231.1h0M422.3 228.5h0M299.3 234.4h0M422.1 227.1h0M297.5 226.5h0M337.9 228.0h0M292.9 236.5h0M364.2 239.2h0M331.2 235.5h0M260.3 239.3h0M300.4 232.7h0M351.1 239.3h0M347.6 239.9h0M371.1 229.0h0M409.8 228.8h0M439.9 232.4h0M299.2 239.5h0M316.6 231.7h0M320.5 235.4h0M262.2 231.2h0M287.5 237.6h0M258.0 234.5h0M304.9 232.4h0M360.3 236.0h0M283.1 229.4h0M279.9 239.4h0M285.1 227.9h0M353.0 234.1h0M419.3 226.8h0M300.6 228.3h0M364.6 232.3h0M332.4 238.4h0M378.4 238.0h0M432.2 229.8h0M429.4 231.7h0M267.4 238.8h0M276.9 226.2h0M310.7 230.0h0M434.0 238.2h0M334.5 233.4h0M412.5 237.3h0M376.9 233.2h0M279.2 229.4h0M377.8 234.2h0M403.8 238.6h0M433.2 228.7h0M271.8 238.6h0M361.8 228.5h0M384.0 229.6h0M301.1 231.1h0M353.3 235.5h0M271.4 236.4h0M371.6 232.6h0M380.3 237.2h0M259.7 232.7h0M381.4 235.9h0M375.8 228.5h0M432.4 237.0h0M300.4 232.0h0M432.3 228.9h0M332.5 239.5h0M421.8 229.3h0M391.8 231.0h0M378.7 236.7h0M281.2 229.1h0M297.1 229.7h0M264.5 227.9h0M331.9 231.9h0M272.2 234.2h0M429.5 234.1h0M322.7 235.9h0M337.6 228.5h0M345.7 226.2h0M381.0 228.3h0M325.3 239.5h0M397.6 237.7h0M374.9 234.9h0M386.3 239.5h0M293.7 236.7h0M312.8 229.6h0M407.5 234.4h0M412.6 238.3h0M365.2 228.8h0M260.7 233.5h0M390.1 229.8h0M270.7 226.1h0M289.5 235.7h0M258.7 229.2h0M306.3 236.0h0M437.7 226.3h0M278.8 239.1h0M434.5 228.1h0M319.0 233.3h0M316.3 231.8h0M345.1 229.6h0M268.0 227.2h0M287.6 227.3h0M371.6 235.8h0M305.9 237.1h0M390.6 230.8h0M347.5 228.6h0M427.1 233.8h0M267.3 228.2h0M384.1 231.4h0M388.5 229.2h0M403.1 237.2h0M275.1 234.2h0M292.8 235.9h0M404.3 237.1h0M300.1 227.3h0M378.7 233.9h0M283.2 228.7h0M364.0 227.5h0M373.4 229.4h0M305.1 231.9h0M355.0 236.1h0M263.6 236.1h0M298.2 230.1h0M374.4 235.7h0M369.9 238.6h0M295.2 230.4h0M378.6 229.7h0M286.6 229.2h0M398.4 237.6h0M388.4 239.4h0M402.6 230.3h0M315.4 236.1h0M268.1 234.5h0M274.2 226.7h0M351.5 228.1h0M427.6 238.3h0M342.0 228.8h0M279.8 233.1h0M352.9 231.1h0M388.4 233.4h0M399.1 227.5h0M270.7 231.4h0M346.0 229.5h0M379.7 229.1h0M315.9 232.7h0M387.6 236.8h0M325.6 232.3h0M426.8 239.1h0M370.6 227.5h0M340.9 234.9h0M308.7 226.5h0M436.6 238.7h0M281.5 232.5h0M370.7 230.2h0M270.5 236.5h0M398.3 232.1h0M273.6 231.5h0M275.1 239.5h0M267.3 230.0h0M397.8 227.9h0M277.4 227.0h0M287.8 233.4h0M409.6 228.4h0M289.6 236.7h0M335.5 230.7h0M280.4 229.4h0M434.9 227.6h0M305.2 236.4h0M420.3 238.7h0M344.0 239.4h0M367.9 230.0h0M342.7 236.0h0M391.6 227.8h0M293.2 239.4h0M277.5 237.4h0M319.7 229.5h0M304.4 232.6h0M438.3 228.1h0M413.5 230.5h0M289.5 236.4h0M320.2 228.6h0M334.2 237.5h0M415.1 234.0h0M259.9 236.7h0M368.4 238.6h0M431.3 230.6h0M412.4 237.5h0M306.4 231.1h0M326.2 230.9h0M326.8 227.5h0M299.3 238.7h0M332.7 234.9h0M419.5 236.6h0M302.5 238.9h0M404.4 239.9h0M390.5 236.6h0M406.0 229.5h0M377.4 231.3h0M410.8 227.9h0M356.1 230.7h0M407.4 230.8h0M411.6 237.9h0M417.9 227.9h0M428.8 236.4h0M381.2 235.1h0M266.7 238.2h0M357.7 232.4h0M319.8 237.0h0M400.4 238.2h0M297.0 230.8h0M303.4 227.4h0M317.5 226.4h0M403.0 229.2h0M270.9 226.9h0M392.9 228.8h0M342.1 231.6h0M404.0 239.4h0M314.4 234.9h0M420.8 232.6h0M421.7 236.3h0M314.7 238.2h0M362.3 227.5h0M364.9 237.6h0M352.4 232.8h0M333.8 238.3h0M379.1 228.9h0M323.9 231.1h0M432.5 235.7h0M280.7 238.8h0M264.3 234.3h0M336.7 236.0h0M336.1 227.3h0M353.3 237.5h0M401.6 231.0h0M298.5 236.4h0M403.9 229.1h0M418.7 239.9h0M336.9 231.3h0M387.2 239.0h0M294.7 230.2h0M317.9 236.3h0M292.0 233.7h0M349.1 235.4h0M284.1 239.4h0M440.0 233.9h0M402.7 228.6h0M423.7 233.7h0M396.2 238.2h0M323.8 238.9h0M295.7 226.3h0M349.4 238.6h0M421.9 239.4h0M351.0 239.1h0M359.9 228.0h0M372.9 237.2h0M335.1 234.4h0M305.2 229.9h0M334.5 233.2h0M343.2 227.3h0M259.0 230.8h0M388.5 236.5h0M301.1 229.6h0M352.0 228.5h0M367.7 238.7h0M294.8 234.2h0M389.2 236.5h0M387.6 235.9h0M307.6 237.7h0M426.4 226.7h0M429.8 232.2h0M273.7 227.0h0M403.0 235.5h0M283.9 232.4h0M374.2 240.0h0M319.2 236.7h0M302.6 228.8h0M287.3 231.7h0M370.5 230.2h0M287.5 229.1h0M273.5 228.7h0M315.5 233.1h0M291.4 232.7h0" stroke="#a030e2" stroke-width="2.6" stroke-linecap="round" fill="none"/>
<path d="M304.5 237.8h0M309.1 237.7h0M307.7 233.2h0M319.6 232.9h0M277.7 232.4h0M330.4 237.8h0M300.9 234.1h0M303.1 234.1h0M329.4 234.4h0M276.1 237.2h0M317.7 232.0h0M345.1 236.4h0M296.1 235.8h0M352.1 234.4h0M303.8 233.8h0M315.9 236.0h0M333.8 237.7h0M275.4 234.2h0M345.3 236.7h0M319.4 236.1h0M294.7 237.7h0M315.4 234.4h0M279.1 232.7h0M349.9 236.8h0M263.6 233.9h0M308.5 235.0h0M297.0 237.4h0M295.6 235.2h0M353.0 235.8h0M308.2 234.0h0M299.3 235.7h0M338.8 233.6h0M297.7 234.3h0M296.9 237.5h0M314.4 233.7h0M293.9 236.9h0M276.9 236.1h0M263.2 233.2h0M266.9 236.8h0M275.5 233.4h0M266.7 233.6h0M333.6 236.3h0M351.1 237.7h0M315.5 237.5h0M269.9 237.6h0M304.0 233.2h0M335.1 237.2h0M299.2 232.6h0M347.4 236.5h0M320.1 237.9h0M264.8 232.3h0M273.3 232.1h0M331.1 235.8h0M272.1 233.0h0M278.9 235.7h0M327.6 237.8h0M296.7 237.9h0M304.0 234.3h0M286.1 233.4h0M357.5 238.0h0M330.9 233.1h0M278.8 232.9h0M295.8 236.4h0M266.8 235.2h0M328.4 232.2h0M304.5 236.7h0M318.0 234.7h0M348.3 235.6h0M294.4 234.4h0M354.4 237.2h0M351.6 235.4h0M275.1 233.1h0M298.9 236.1h0M261.5 236.8h0M338.8 235.1h0M261.6 236.8h0M302.0 236.0h0M317.4 236.4h0M301.5 237.8h0M355.6 237.6h0M321.9 233.9h0M298.3 233.6h0M350.5 236.8h0M339.0 236.9h0M359.1 236.1h0M292.5 236.5h0M287.0 235.7h0M276.7 237.1h0M309.4 233.7h0M352.4 232.5h0M353.1 236.5h0M275.8 236.6h0M317.8 237.4h0M319.1 234.6h0M353.4 232.5h0M337.9 232.6h0M288.4 232.7h0M347.3 234.7h0M332.9 233.5h0M333.3 235.9h0M270.7 235.0h0M332.5 233.3h0M325.8 233.7h0M297.7 237.5h0M354.4 238.0h0M303.2 235.4h0M341.0 236.6h0M306.2 237.2h0M300.7 237.7h0M307.8 232.7h0M335.2 232.9h0M328.3 232.3h0M358.8 235.2h0M334.3 232.8h0M324.0 234.3h0M285.7 236.9h0M264.3 234.9h0M269.6 237.1h0M349.4 232.2h0M307.0 234.8h0M332.2 236.4h0M295.0 237.6h0M279.3 232.8h0M341.7 232.7h0M279.4 235.0h0M294.3 233.0h0M353.1 234.8h0M338.8 233.5h0M351.3 233.3h0M350.7 235.7h0M357.1 236.6h0M323.5 235.2h0M345.6 234.7h0M270.7 237.5h0M340.8 236.1h0M334.7 233.4h0M306.9 236.9h0M356.2 237.5h0M276.9 236.1h0M315.9 234.4h0M277.6 232.8h0M307.6 235.0h0M287.5 234.2h0M315.8 236.6h0M319.3 233.0h0M348.7 234.2h0M356.0 237.9h0M274.9 235.5h0M356.7 234.3h0M315.2 233.9h0M263.8 233.2h0M273.3 233.7h0M323.3 235.4h0M354.9 236.1h0M296.9 237.7h0M323.8 235.3h0M346.4 236.0h0M296.7 235.6h0M290.7 237.8h0M285.2 237.8h0M267.4 232.1h0M315.8 233.2h0M311.2 232.7h0M343.8 236.0h0M328.7 237.6h0M359.2 236.1h0M331.6 232.0h0M265.9 234.6h0M356.9 233.9h0M317.3 232.1h0M302.2 237.4h0M319.4 236.9h0M262.3 233.2h0M278.7 237.0h0M271.1 237.6h0M287.5 237.3h0M312.0 233.9h0M356.7 234.4h0M330.0 232.4h0M343.2 237.9h0M271.9 236.5h0M287.8 232.9h0M297.1 236.0h0M355.4 238.0h0M359.4 235.7h0M325.7 233.0h0M332.9 235.3h0M296.5 237.4h0M286.3 232.8h0M276.7 232.9h0M319.3 236.8h0M276.8 235.0h0M317.9 235.4h0M301.9 235.3h0M262.5 232.3h0M302.8 233.4h0M335.9 233.5h0M342.6 233.4h0M270.2 234.9h0M299.4 234.0h0M336.7 233.3h0M327.3 237.0h0M305.8 235.0h0M352.4 235.6h0M278.9 232.4h0M269.1 234.0h0M269.8 235.9h0" stroke="#e01ec8" stroke-width="2.6" stroke-linecap="round" fill="none"/>
<path d="M248.0 231.9 249.6 231.8 251.2 232.0 252.8 232.4 254.4 231.7 256.0 231.7 257.6 231.8 259.2 231.8 260.8 232.4 261.0 232.2 261.0 238.9 260.8 238.7 259.2 238.5 257.6 238.6 256.0 239.3 254.4 239.1 252.8 238.7 251.2 239.1 249.6 238.6 248.0 239.0Z" fill="#e01ec8"/>
<path d="M241.0 193.1 242.6 192.5 244.2 194.1 245.8 194.0 247.4 193.5 249.0 192.7 250.6 193.9 252.2 193.3 253.8 193.9 255.4 192.5 257.0 194.5 258.6 192.3 260.2 192.8 261.8 193.3 263.4 192.8 265.0 192.5 266.6 193.9 268.2 194.7 269.8 193.1 271.4 192.9 273.0 193.9 274.6 192.8 276.2 193.3 277.8 194.0 279.4 193.3 281.0 192.7 282.6 192.5 284.2 193.6 285.8 194.7 287.4 194.5 289.0 192.5 290.6 193.5 292.2 193.5 293.8 192.8 295.4 193.9 297.0 193.5 298.6 194.2 300.2 193.0 301.8 194.5 303.4 194.3 305.0 193.4 306.6 192.6 308.2 193.5 309.8 192.6 311.4 193.9 313.0 194.0 314.6 193.7 316.2 194.6 317.8 192.4 319.4 194.0 321.0 194.2 322.6 192.6 324.2 193.1 325.8 192.4 327.4 193.7 329.0 194.0 330.6 193.1 332.2 194.0 333.0 193.2 333.0 199.5 332.2 198.5 330.6 200.1 329.0 198.9 327.4 197.8 325.8 198.0 324.2 199.5 322.6 199.9 321.0 199.3 319.4 198.2 317.8 199.9 316.2 199.5 314.6 198.1 313.0 198.7 311.4 199.4 309.8 197.8 308.2 197.9 306.6 198.6 305.0 199.9 303.4 200.2 301.8 198.6 300.2 200.0 298.6 199.7 297.0 199.9 295.4 199.2 293.8 200.1 292.2 199.3 290.6 200.1 289.0 199.2 287.4 198.3 285.8 199.0 284.2 199.0 282.6 198.6 281.0 198.7 279.4 199.0 277.8 199.2 276.2 198.3 274.6 198.5 273.0 199.0 271.4 199.0 269.8 198.8 268.2 199.4 266.6 198.2 265.0 199.1 263.4 198.5 261.8 199.6 260.2 199.5 258.6 199.7 257.0 199.0 255.4 198.4 253.8 200.0 252.2 199.0 250.6 198.7 249.0 198.5 247.4 198.8 245.8 199.5 244.2 199.8 242.6 199.0 241.0 199.6Z" fill="#6c22f0"/>
<path d="M260.2 195.5h0M274.0 194.1h0M274.1 198.5h0M309.7 193.1h0M262.2 198.8h0M302.2 197.8h0M300.3 197.9h0M265.9 191.6h0M274.3 191.3h0M331.4 196.2h0M303.7 200.7h0M316.4 193.3h0M272.0 192.1h0M315.6 198.4h0M286.3 194.7h0M265.6 195.9h0M307.6 200.0h0M320.6 199.7h0M281.7 195.2h0M269.8 200.7h0M257.4 192.6h0M266.7 200.2h0M321.0 194.3h0M320.9 199.9h0M280.6 192.9h0M313.4 194.7h0M251.3 200.0h0M281.8 195.0h0M296.6 193.6h0M241.9 194.9h0M276.0 191.1h0M275.3 198.6h0M271.6 197.8h0M299.3 192.9h0M241.9 197.7h0M298.0 193.9h0M259.0 199.6h0M326.4 193.3h0M295.7 196.7h0M270.6 191.4h0M270.9 197.4h0M297.2 196.1h0M251.6 193.1h0M269.6 195.2h0M274.5 200.0h0M251.0 200.9h0M262.8 199.6h0M263.1 196.9h0M275.8 191.4h0M315.7 199.1h0M265.6 198.8h0M285.5 200.9h0M245.2 194.8h0M261.6 197.2h0M313.9 199.4h0M292.1 194.9h0M316.0 192.0h0M264.7 198.5h0M281.8 200.9h0M248.6 195.6h0M260.2 191.0h0M248.9 191.9h0M275.0 195.3h0M288.2 193.9h0M306.7 196.2h0M333.3 192.7h0M288.5 195.9h0M275.3 199.6h0M259.9 199.8h0M274.0 194.4h0M298.4 196.6h0M267.0 191.8h0M330.7 194.7h0M250.9 197.6h0M290.5 194.3h0M271.2 199.5h0M272.2 195.2h0M330.9 194.6h0M278.2 192.6h0M302.9 197.6h0M282.4 195.1h0M262.1 198.9h0M283.4 199.3h0M275.6 198.3h0M242.7 193.2h0M331.3 197.8h0M304.2 196.0h0M284.9 193.0h0M256.4 197.5h0M305.9 193.6h0M301.2 192.4h0M298.2 192.7h0M288.4 194.1h0M292.3 192.3h0M285.9 197.2h0M252.8 194.1h0M304.5 196.5h0M298.6 198.8h0M294.3 193.2h0M282.0 199.3h0M293.8 198.5h0M274.6 195.5h0M332.1 199.2h0M302.0 192.1h0M298.1 191.3h0M328.7 200.7h0M309.2 193.7h0M320.4 192.8h0M318.6 196.2h0M241.5 199.9h0M281.8 199.3h0M305.4 196.3h0M321.9 193.0h0M325.4 194.4h0M242.5 194.4h0M246.3 191.7h0M299.3 192.2h0M255.2 193.9h0M266.5 200.2h0M326.0 199.7h0M334.0 195.4h0M315.6 193.8h0M328.0 199.1h0M309.6 193.3h0M248.7 200.3h0M292.5 197.1h0M321.9 192.4h0M306.4 195.6h0M314.7 195.6h0M258.7 200.6h0M266.7 198.4h0M319.0 193.5h0M306.0 195.0h0M261.3 193.2h0M330.6 194.7h0M288.4 196.0h0M242.5 198.5h0M310.8 199.8h0M273.9 193.1h0M273.0 198.3h0M302.5 195.1h0M289.8 192.5h0M327.3 195.7h0M288.1 198.9h0M258.8 198.2h0M273.6 199.1h0M249.0 193.8h0M300.4 195.8h0M275.8 196.8h0M260.7 195.4h0M240.2 199.0h0M264.1 199.3h0M292.5 197.0h0M299.5 192.3h0M313.8 193.9h0M322.0 198.9h0M304.4 199.2h0M281.5 197.7h0M330.5 192.9h0M249.6 195.1h0M288.4 192.5h0M261.0 199.7h0M276.9 192.5h0M257.4 196.8h0M258.0 195.8h0M291.1 195.4h0M287.9 199.4h0M241.6 200.3h0M258.9 191.4h0M312.9 196.7h0M291.1 193.2h0M314.2 194.1h0M309.1 193.3h0M294.4 197.5h0M275.3 195.8h0M246.2 197.4h0M305.7 192.5h0M292.3 198.3h0M249.6 199.4h0M322.7 191.5h0M263.6 191.8h0M264.0 191.9h0M286.5 193.5h0M268.5 195.6h0M275.3 198.9h0M308.7 192.1h0M261.2 191.1h0M271.3 192.1h0M306.2 198.8h0M334.6 193.1h0M243.5 198.6h0M279.1 200.3h0M277.3 194.1h0M246.9 200.5h0M288.7 195.4h0M281.5 198.7h0M318.9 195.8h0M256.9 195.1h0M324.7 195.1h0M302.8 196.6h0M283.8 196.7h0M263.3 196.6h0M322.2 191.8h0M275.0 199.8h0M332.9 191.1h0M299.6 197.3h0M320.1 195.7h0M252.4 194.0h0M307.7 198.3h0M234.0 194.0h0M234.5 197.0h0M235.0 199.0h0" stroke="#6c22f0" stroke-width="2.6" stroke-linecap="round" fill="none"/>
<path d="M351.6 201.0h0M390.5 201.2h0M335.9 198.2h0M361.9 200.4h0M363.0 193.8h0M391.7 196.0h0M402.0 196.3h0M380.9 203.3h0M343.9 202.2h0M339.9 205.1h0M336.2 202.1h0M365.7 194.5h0M368.0 199.0h0M369.7 193.7h0M379.0 196.2h0M417.2 197.4h0M371.4 195.2h0M417.3 196.5h0M389.6 203.7h0M367.8 202.6h0M358.0 193.5h0M337.6 198.3h0" stroke="#6c22f0" stroke-width="2.4" stroke-linecap="round" fill="none"/>
<path d="M333.0 165.9 334.6 164.3 336.2 164.9 337.8 165.6 339.4 164.5 341.0 164.2 342.6 165.0 344.2 164.8 345.8 166.1 347.4 166.0 349.0 164.4 350.6 165.1 352.2 164.8 353.8 163.9 355.4 164.9 357.0 166.0 358.6 164.5 360.2 165.2 361.8 165.5 363.4 164.0 365.0 166.0 366.6 164.1 368.2 164.5 369.8 165.5 371.4 163.8 373.0 164.7 374.6 164.1 376.2 164.9 377.8 163.8 379.4 164.2 381.0 164.3 382.6 164.0 384.2 164.0 385.8 164.3 387.4 165.0 389.0 164.1 390.6 165.8 392.2 164.8 393.8 164.4 395.4 164.4 397.0 165.8 398.6 163.9 400.2 165.6 401.8 164.0 403.4 166.1 405.0 164.8 406.6 165.2 408.2 165.9 409.8 164.0 411.4 164.0 413.0 165.5 414.6 165.2 416.2 165.5 417.8 164.5 419.4 165.0 421.0 164.2 422.6 164.8 424.2 164.5 425.8 165.2 427.4 164.5 429.0 164.5 430.6 165.3 432.2 164.0 433.8 165.7 435.4 165.0 437.0 164.3 438.6 164.1 440.2 165.0 441.8 165.0 443.4 165.5 445.0 164.7 446.6 164.8 448.2 165.9 449.8 164.5 451.4 166.2 453.0 165.9 454.6 166.2 456.2 166.1 457.8 164.4 459.4 165.8 461.0 165.3 462.6 164.3 464.2 166.2 465.8 165.4 467.4 165.7 469.0 165.1 470.6 164.0 472.2 165.9 473.8 164.2 475.4 164.4 477.0 165.3 478.6 164.3 480.2 164.9 481.8 165.5 483.4 164.0 485.0 165.4 486.6 164.1 488.2 164.9 489.8 165.4 491.4 165.4 493.0 163.9 494.6 164.3 495.0 166.1 495.0 170.7 494.6 170.8 493.0 170.7 491.4 171.5 489.8 171.6 488.2 171.4 486.6 170.8 485.0 171.2 483.4 171.0 481.8 170.3 480.2 172.1 478.6 172.1 477.0 171.7 475.4 172.2 473.8 170.9 472.2 171.8 470.6 170.4 469.0 171.6 467.4 171.5 465.8 172.1 464.2 171.8 462.6 171.9 461.0 170.4 459.4 171.7 457.8 170.9 456.2 170.5 454.6 170.7 453.0 171.7 451.4 171.8 449.8 171.8 448.2 171.4 446.6 170.2 445.0 170.2 443.4 171.2 441.8 170.3 440.2 170.6 438.6 170.0 437.0 170.2 435.4 171.5 433.8 170.3 432.2 171.8 430.6 170.6 429.0 171.8 427.4 170.5 425.8 170.4 424.2 170.7 422.6 169.8 421.0 170.8 419.4 170.7 417.8 169.8 416.2 171.9 414.6 170.7 413.0 169.8 411.4 172.1 409.8 170.3 408.2 170.4 406.6 169.9 405.0 170.0 403.4 171.5 401.8 171.2 400.2 171.0 398.6 170.4 397.0 170.5 395.4 172.1 393.8 170.7 392.2 172.2 390.6 171.9 389.0 170.1 387.4 171.8 385.8 169.9 384.2 171.5 382.6 171.7 381.0 171.5 379.4 171.1 377.8 171.8 376.2 170.2 374.6 171.1 373.0 170.4 371.4 170.8 369.8 170.3 368.2 171.5 366.6 171.2 365.0 171.7 363.4 171.3 361.8 171.2 360.2 172.0 358.6 171.7 357.0 171.2 355.4 170.6 353.8 172.0 352.2 170.7 350.6 170.0 349.0 170.6 347.4 171.5 345.8 172.0 344.2 171.3 342.6 171.4 341.0 172.0 339.4 171.7 337.8 170.9 336.2 170.9 334.6 171.6 333.0 170.6Z" fill="#7424f0"/>
<path d="M350.0 169.2h0M464.7 165.5h0M444.1 171.9h0M352.9 164.4h0M412.9 166.3h0M487.7 173.0h0M405.1 170.9h0M435.6 164.7h0M491.4 164.7h0M344.5 167.5h0M334.9 167.8h0M399.6 172.5h0M399.8 171.5h0M459.9 168.9h0M371.0 166.0h0M412.6 167.0h0M437.9 168.1h0M385.0 169.1h0M495.4 165.0h0M387.0 163.1h0M347.4 163.6h0M401.4 171.4h0M446.4 172.7h0M469.3 168.9h0M427.2 163.1h0M394.9 165.6h0M433.8 163.7h0M420.9 166.8h0M412.7 167.0h0M348.8 170.3h0M463.3 169.0h0M351.0 169.0h0M474.8 172.9h0M456.4 163.5h0M476.1 169.7h0M377.4 172.2h0M467.5 172.0h0M372.6 168.8h0M394.1 166.0h0M456.8 169.2h0M386.4 168.4h0M484.2 168.7h0M481.8 168.7h0M494.7 163.3h0M407.4 168.5h0M451.2 172.7h0M434.2 167.8h0M436.0 168.3h0M447.6 172.5h0M334.3 166.2h0M475.7 163.6h0M461.6 163.3h0M438.3 171.0h0M371.0 166.8h0M369.1 170.0h0M418.7 169.1h0M385.4 168.9h0M488.5 170.8h0M488.1 165.5h0M416.6 166.9h0M388.8 171.0h0M360.7 168.6h0M458.9 172.4h0M335.1 165.7h0M412.9 172.4h0M358.8 171.4h0M397.1 168.5h0M484.2 163.6h0M386.0 164.6h0M353.9 166.0h0M446.9 168.8h0M352.0 171.0h0M415.2 164.4h0M466.6 171.2h0M367.5 172.4h0M464.9 165.3h0M332.2 171.7h0M467.5 164.0h0M457.7 170.7h0M435.9 171.3h0M493.5 166.3h0M468.8 172.2h0M383.4 169.8h0M444.2 171.5h0M425.0 165.8h0M373.3 168.4h0M354.2 171.6h0M477.8 165.4h0M446.3 169.7h0M352.0 170.8h0M457.7 166.1h0M348.1 165.8h0M458.5 167.7h0M465.7 164.6h0M349.5 166.5h0M476.3 164.6h0M344.0 170.5h0M347.0 169.7h0M345.7 165.5h0M440.8 171.7h0M399.1 167.5h0M337.1 166.4h0M371.7 170.9h0M449.1 170.8h0M419.2 170.0h0M352.9 166.9h0M380.0 165.8h0M453.2 165.1h0M385.4 165.8h0M473.7 169.4h0M410.8 166.8h0M483.1 172.4h0M405.7 168.7h0M473.5 165.6h0M374.4 164.0h0M414.3 170.7h0M357.7 167.3h0M494.5 167.8h0M394.7 171.4h0M478.3 166.8h0M352.3 169.4h0M453.4 172.2h0M440.3 166.1h0M416.5 165.9h0M405.1 167.7h0M481.6 172.1h0M483.9 167.8h0M490.2 164.4h0M483.1 169.4h0M475.1 167.1h0M494.5 163.3h0M471.0 171.2h0M393.4 171.3h0M367.0 170.5h0M408.8 167.1h0M364.2 171.0h0M451.9 163.9h0M492.4 165.2h0M393.5 167.1h0M426.5 171.9h0M487.0 169.3h0M392.0 164.1h0M343.3 168.2h0M427.6 167.5h0M493.1 167.1h0M389.6 167.2h0M360.2 172.4h0M428.9 168.4h0M401.8 165.5h0M383.7 167.9h0M405.2 172.8h0M424.3 165.1h0M340.8 164.6h0M388.7 170.8h0M477.8 165.4h0M460.0 167.4h0M420.2 168.3h0M339.0 163.7h0M441.5 169.9h0M394.4 172.2h0M466.5 166.0h0M343.0 168.5h0M439.3 165.2h0M339.2 167.9h0M337.6 170.4h0M434.6 165.8h0M405.1 165.3h0M362.5 164.8h0M465.8 167.5h0M449.3 166.5h0M464.3 169.0h0M439.3 166.9h0M424.1 164.9h0M491.7 169.7h0M419.3 169.4h0M348.4 166.3h0M369.8 171.4h0M334.1 167.4h0M474.4 170.8h0M449.9 166.0h0M370.1 170.0h0M381.0 170.2h0M389.4 170.6h0M426.0 171.2h0M493.6 166.8h0M493.8 163.1h0M475.9 163.3h0M421.4 166.9h0M458.3 166.2h0M366.2 170.8h0M422.3 170.6h0M412.3 163.4h0M458.5 165.2h0M409.4 163.0h0M374.5 169.7h0M457.3 169.4h0M404.7 170.3h0M441.7 165.1h0M419.8 169.0h0M451.5 165.0h0M383.0 166.4h0M347.7 166.5h0M451.6 168.8h0M360.4 170.3h0M351.1 170.5h0M356.2 164.0h0M373.3 168.1h0M376.3 171.8h0M485.9 165.8h0M455.0 170.0h0M424.0 165.5h0M487.7 172.6h0M334.2 166.3h0M384.6 165.0h0M402.6 172.0h0M335.9 171.4h0M382.7 163.1h0M479.5 165.7h0M366.8 164.2h0M392.2 164.2h0M361.5 165.5h0M426.8 167.5h0M382.0 168.3h0M459.0 170.2h0M388.3 172.2h0M461.8 168.6h0M410.0 166.3h0M354.0 171.9h0M431.8 164.0h0M483.8 171.9h0M337.5 170.0h0M371.1 168.4h0M468.8 166.5h0M413.7 169.7h0M363.5 169.3h0M401.7 172.8h0M362.8 170.1h0M338.8 165.7h0M351.3 164.5h0M418.6 164.7h0M462.3 164.0h0M434.2 171.6h0M352.8 165.2h0M457.4 167.7h0M484.9 166.4h0M397.3 172.6h0M388.4 172.7h0M478.1 165.0h0M421.5 172.4h0M351.2 171.5h0M459.0 170.5h0M430.5 164.0h0M489.2 164.0h0M460.5 170.2h0M384.1 169.8h0M399.3 170.5h0M339.1 172.3h0M395.0 171.0h0M409.3 171.1h0M381.4 168.5h0M336.1 167.9h0M345.0 171.6h0M443.1 167.3h0M491.8 172.5h0M488.9 163.8h0M447.5 170.3h0M431.4 163.2h0M483.5 167.4h0M429.6 171.1h0M377.1 163.3h0M483.4 165.7h0M338.7 164.4h0M495.2 170.4h0M366.4 164.5h0M479.2 169.6h0M427.6 164.3h0M399.8 172.5h0M332.5 167.2h0M341.4 173.0h0M349.1 172.5h0M470.0 170.3h0M338.9 170.0h0M412.8 167.9h0M355.8 168.1h0M463.5 164.3h0M475.7 167.2h0M375.6 165.4h0M407.4 169.5h0M425.5 171.9h0M415.9 168.1h0M494.2 165.2h0M334.7 166.3h0M383.4 164.2h0M400.6 163.3h0M483.0 167.8h0M476.1 170.0h0M451.7 170.6h0M381.5 170.3h0M365.8 168.5h0M429.6 170.8h0M359.5 166.4h0M467.2 171.0h0M492.4 164.2h0M366.5 164.1h0M450.7 170.5h0M438.3 170.8h0M416.6 168.6h0M483.0 169.5h0M439.6 168.9h0M413.0 170.6h0M425.9 164.3h0M401.8 167.2h0M402.9 168.6h0M391.3 166.9h0M402.0 166.7h0M491.4 163.9h0M334.8 170.2h0M396.8 167.5h0M429.1 166.7h0M371.2 163.2h0M475.3 172.4h0M378.9 167.7h0M385.1 163.6h0M478.4 171.4h0M371.5 165.5h0M446.5 171.0h0M409.0 166.9h0M370.3 171.0h0M473.6 171.6h0M350.8 168.9h0M493.6 170.2h0M407.3 164.5h0M341.9 170.3h0M343.3 171.1h0M441.2 167.7h0M478.2 172.3h0M433.1 164.0h0M428.5 167.2h0M372.9 172.3h0M451.8 164.2h0M369.5 166.4h0M426.0 166.2h0M404.1 171.1h0M361.8 170.2h0M386.2 172.4h0M488.1 166.3h0M431.4 164.1h0M399.3 169.2h0M436.7 166.4h0M337.6 164.2h0M423.9 164.7h0M382.2 169.2h0M479.7 168.2h0M373.8 168.9h0M377.2 170.8h0M357.6 165.6h0M403.9 172.1h0M359.1 164.9h0M353.6 165.1h0M386.5 167.0h0" stroke="#7424f0" stroke-width="2.6" stroke-linecap="round" fill="none"/>
<path d="M454.0 150.1 455.6 149.3 457.2 149.4 458.8 149.3 460.4 150.2 462.0 150.5 463.6 149.3 465.2 150.5 466.8 148.9 468.4 150.6 470.0 149.6 471.6 149.9 473.2 149.2 474.8 149.0 476.4 148.6 478.0 150.4 479.6 149.2 481.2 150.0 482.8 149.4 484.4 149.6 486.0 148.8 487.6 148.7 489.2 149.1 490.8 149.9 492.4 149.6 494.0 148.3 495.0 150.0 495.0 153.8 494.0 153.0 492.4 153.4 490.8 153.3 489.2 154.8 487.6 154.1 486.0 153.6 484.4 153.4 482.8 153.5 481.2 153.5 479.6 153.6 478.0 154.7 476.4 154.7 474.8 154.5 473.2 154.9 471.6 154.4 470.0 153.1 468.4 152.9 466.8 153.2 465.2 153.4 463.6 154.1 462.0 154.8 460.4 154.2 458.8 153.8 457.2 153.4 455.6 155.2 454.0 154.6Z" fill="#6a20f0"/>
<path d="M467.7 147.9h0M495.2 149.7h0M489.5 148.5h0M481.1 150.5h0M491.2 150.0h0M457.3 149.2h0M487.6 155.8h0M480.6 153.3h0M465.1 149.8h0M456.7 155.9h0M454.9 152.7h0M468.0 149.1h0M471.7 155.4h0M463.7 148.9h0M480.1 153.1h0M475.0 149.0h0M490.6 148.4h0M460.5 149.6h0M475.1 151.5h0M476.8 153.7h0M491.4 151.5h0M454.8 154.6h0M453.8 150.2h0M459.2 152.6h0M486.6 148.6h0M465.7 154.7h0M482.6 148.4h0M482.5 154.2h0M470.6 148.8h0M481.3 150.2h0M458.8 148.9h0M470.3 148.6h0M469.6 152.2h0M476.7 150.9h0M487.4 148.2h0M467.2 155.4h0M490.2 155.3h0M485.9 152.1h0M486.9 152.4h0M458.1 149.7h0M457.2 154.9h0M466.8 151.0h0M476.1 148.4h0M483.3 154.3h0M487.2 155.0h0M466.6 148.7h0M485.7 153.4h0M469.0 150.4h0M459.6 154.6h0M472.8 154.4h0M467.6 150.2h0M475.1 153.8h0M491.0 150.5h0M482.8 150.9h0M490.0 154.0h0M476.9 150.6h0M464.8 155.0h0M487.4 150.1h0M456.6 149.2h0M494.5 147.8h0M487.8 152.0h0M476.8 152.1h0M470.6 152.2h0M456.9 155.3h0M457.4 148.7h0M481.9 152.9h0M487.7 153.4h0M493.0 147.9h0M453.5 149.5h0M486.5 148.8h0M475.8 154.0h0M459.7 152.0h0M491.7 153.9h0M470.1 151.6h0M464.9 155.7h0M486.7 153.3h0M466.1 153.7h0M473.9 154.3h0M468.6 155.0h0M482.4 151.3h0" stroke="#6a20f0" stroke-width="2.6" stroke-linecap="round" fill="none"/>
<path d="M469.1 163.0h0M468.2 164.6h0M455.2 164.0h0M472.9 159.9h0M476.2 156.5h0M463.4 162.1h0M475.6 158.7h0M479.9 161.5h0M456.1 156.2h0M456.9 160.7h0M463.0 157.6h0M466.2 155.8h0" stroke="#6a20f0" stroke-width="2.4" stroke-linecap="round" fill="none"/>
<path d="M283.1 150.0h0M282.8 152.4h0M282.9 155.2h0M283.6 158.6h0M283.5 161.6h0M282.6 163.3h0M282.6 165.5h0M283.7 167.9h0M286.0 150.0h0M286.0 151.6h0M258.5 150.0h0M258.4 152.7h0M272.0 150.0h0M271.7 152.5h0M271.2 154.6h0M271.9 157.0h0M272.2 159.0h0M272.2 162.2h0M255.5 150.0h0M287.4 150.0h0M246.2 150.0h0M246.5 153.2h0M246.5 156.5h0M246.3 158.7h0M261.8 150.0h0M262.6 152.6h0M262.8 156.1h0M262.2 157.8h0M262.4 161.4h0M262.0 164.8h0M262.9 166.4h0M262.4 168.5h0M262.1 150.0h0M261.2 153.3h0M261.0 156.4h0M262.1 158.8h0M261.4 160.9h0M261.2 163.5h0M261.7 166.5h0M262.0 168.2h0M261.8 169.9h0M261.1 172.1h0M262.1 173.8h0M261.5 176.9h0M287.1 150.0h0M287.1 152.1h0M287.3 155.6h0M287.4 158.4h0M287.1 160.8h0M286.7 164.0h0M286.5 167.2h0M287.1 169.8h0M287.5 171.7h0M286.7 174.1h0M287.1 176.4h0M224.4 150.0h0M241.0 150.0h0M240.2 153.3h0M240.9 154.8h0M240.4 157.6h0M240.5 159.1h0M240.7 161.1h0M240.3 164.6h0M240.8 166.3h0M240.3 168.1h0M287.9 150.0h0M287.7 152.5h0M269.9 150.0h0M269.0 151.9h0M253.0 150.0h0M253.6 153.0h0M253.0 155.3h0M253.7 158.0h0M253.4 160.5h0M253.6 163.4h0M253.1 165.8h0M253.5 168.3h0M254.0 171.6h0M253.2 174.2h0M253.6 176.2h0M240.7 150.0h0M240.6 152.3h0M240.3 154.7h0M239.8 158.0h0M240.7 160.2h0M239.9 161.9h0M272.9 150.0h0M271.8 152.9h0M271.9 154.5h0M271.8 156.9h0M272.6 159.5h0M280.2 150.0h0M279.8 152.2h0M279.4 154.9h0M224.0 150.0h0M256.3 150.0h0M276.9 150.0h0M258.0 150.0h0M258.6 153.5h0M271.4 150.0h0M272.2 151.6h0M272.0 154.5h0M271.5 156.6h0M271.9 160.0h0M271.6 161.6h0M228.9 150.0h0M227.8 153.2h0M227.9 155.5h0M228.8 158.5h0M228.7 161.6h0M227.8 163.4h0M228.8 165.1h0M228.4 168.3h0M228.8 170.3h0M228.2 172.1h0M229.0 173.6h0M228.7 176.0h0M228.5 179.1h0M228.7 182.6h0M229.0 186.0h0M228.7 187.7h0M228.2 189.7h0M229.0 191.9h0M252.9 150.0h0M269.9 150.0h0M269.5 152.2h0M269.9 155.2h0M244.4 150.0h0M244.0 152.7h0M243.6 155.3h0M243.9 157.1h0M243.6 158.9h0M244.4 161.8h0M243.7 164.6h0M244.5 167.5h0M243.8 170.3h0M249.2 150.0h0M249.8 153.3h0M235.2 150.0h0M234.9 151.7h0M255.4 150.0h0M255.4 152.8h0M255.2 155.9h0M255.9 157.4h0M254.9 160.5h0M255.0 162.3h0M254.9 165.2h0M255.3 166.7h0M255.0 168.3h0M255.0 170.6h0M255.0 172.1h0M255.1 174.1h0M246.8 150.0h0M247.7 153.2h0M224.7 150.0h0M223.8 152.4h0M281.9 150.0h0M231.8 150.0h0M231.8 152.9h0M248.0 150.0h0M279.7 150.0h0M279.8 153.1h0M279.9 155.3h0M280.6 158.5h0M280.1 161.7h0M279.9 165.1h0M280.4 167.8h0M280.1 169.8h0M280.6 171.5h0M279.8 173.4h0M280.4 175.5h0M258.4 150.0h0M258.1 152.0h0M257.8 153.8h0M257.6 155.7h0M258.6 157.9h0M257.6 160.7h0M258.2 162.7h0M257.5 165.3h0M258.2 167.0h0M257.6 169.8h0M239.7 150.0h0M240.2 152.2h0M239.5 154.5h0M240.0 157.1h0M274.3 150.0h0M274.6 152.8h0M274.3 156.3h0M274.1 158.2h0M238.7 150.0h0M239.0 152.9h0M239.3 155.3h0M239.6 158.3h0M239.4 161.8h0M239.2 163.9h0M239.6 166.4h0" stroke="#5e2a38" stroke-width="2.4" stroke-linecap="round" fill="none"/>
<path d="M247.2 146.0h0M244.0 146.0h0M235.0 146.0h0M235.2 148.5h0M232.8 146.0h0M242.1 146.0h0M255.5 146.0h0M255.7 147.8h0M255.9 150.1h0M256.6 152.4h0M256.1 154.8h0M266.1 146.0h0M265.2 148.2h0M258.2 146.0h0M258.6 149.0h0M242.3 146.0h0M242.9 148.1h0M242.2 150.1h0M243.0 152.6h0M242.1 154.3h0M241.9 157.5h0M242.8 159.8h0M276.0 146.0h0M277.4 146.0h0M276.6 148.5h0M255.9 146.0h0M260.9 146.0h0M261.3 148.5h0M261.0 150.2h0M261.6 153.6h0M261.4 156.2h0M285.5 146.0h0M285.6 149.3h0M285.6 151.3h0M261.8 146.0h0M262.1 147.8h0M244.6 146.0h0M244.7 149.4h0M243.9 151.0h0M243.8 153.5h0M244.6 156.5h0M257.4 146.0h0M256.4 148.4h0M256.9 150.9h0M256.5 154.0h0M257.5 156.1h0M257.0 157.6h0M257.2 159.4h0M257.4 161.7h0M257.4 163.7h0M256.4 165.7h0M229.5 146.0h0M229.2 148.2h0M257.0 146.0h0M257.5 148.7h0M277.5 146.0h0M277.4 147.8h0M278.1 149.8h0M286.5 146.0h0M287.3 149.1h0M287.6 151.6h0M286.5 154.3h0M286.5 156.3h0M264.0 146.0h0M265.1 147.6h0M264.3 149.6h0M264.1 152.9h0M265.0 156.0h0M263.7 146.0h0M273.7 146.0h0M274.3 148.0h0M273.6 149.7h0M275.6 146.0h0M275.9 149.4h0M260.6 146.0h0M260.8 148.4h0M260.9 151.9h0M260.9 153.8h0M260.7 156.0h0M225.1 146.0h0M225.7 148.7h0M264.6 146.0h0M258.9 146.0h0M247.5 146.0h0M412.5 172.0h0M430.5 172.0h0M430.2 175.5h0M429.7 177.1h0M429.7 180.0h0M402.8 172.0h0M421.7 172.0h0M422.0 174.2h0M422.5 177.2h0M421.8 180.1h0M422.7 182.6h0M414.6 172.0h0M414.2 173.6h0M414.0 176.0h0M413.5 179.2h0M413.7 182.0h0M428.2 172.0h0M428.8 175.1h0M428.9 177.7h0M410.1 172.0h0M410.3 174.1h0M410.3 176.2h0M410.3 178.9h0M410.1 182.2h0M409.7 184.5h0M410.1 187.2h0M436.0 172.0h0M435.6 173.8h0M402.0 172.0h0M402.3 174.3h0M402.1 176.9h0M401.7 178.7h0M401.5 180.2h0M405.3 172.0h0M405.9 174.9h0M406.0 178.1h0M405.3 181.5h0M430.3 172.0h0M430.9 174.6h0M435.8 172.0h0M435.5 174.3h0M435.9 176.7h0M435.9 179.1h0M435.2 182.4h0M436.2 184.0h0M436.0 185.9h0M408.9 172.0h0M401.9 172.0h0M429.9 172.0h0M430.3 174.4h0M413.9 172.0h0M414.5 174.4h0M413.7 176.9h0M414.3 179.2h0M415.3 172.0h0M416.0 173.9h0M416.0 175.6h0M415.6 177.3h0M415.4 179.9h0M434.8 172.0h0M435.8 173.9h0M435.6 176.7h0M413.0 172.0h0M412.5 175.3h0M413.2 177.6h0M412.9 180.9h0M412.5 184.0h0M412.7 186.8h0M411.6 172.0h0M428.4 172.0h0M428.9 173.7h0M428.8 175.7h0M428.4 178.2h0M428.2 179.8h0M428.4 182.8h0M428.9 186.1h0M429.1 188.7h0M428.4 190.3h0M428.0 192.9h0M428.1 196.1h0M428.2 198.8h0M428.5 201.1h0M428.1 203.2h0M425.6 172.0h0M408.8 172.0h0M409.4 174.5h0M409.0 176.3h0M410.2 172.0h0M410.6 175.3h0M403.1 172.0h0M402.6 174.4h0M402.2 177.2h0M427.3 172.0h0M410.3 172.0h0M410.4 174.6h0M411.0 176.9h0M411.1 179.8h0M419.1 172.0h0M418.9 174.3h0M418.7 176.2h0M437.1 172.0h0M436.4 174.7h0M437.1 177.3h0M433.1 172.0h0M433.4 173.8h0M433.1 176.6h0M433.3 178.8h0M432.8 181.4h0M431.3 172.0h0M430.8 174.9h0M431.4 178.3h0M430.8 181.2h0M430.4 183.8h0M433.2 172.0h0M432.7 175.1h0M432.9 177.5h0M433.1 180.2h0M433.7 182.9h0M405.0 172.0h0M417.2 172.0h0M435.6 172.0h0M423.1 172.0h0M423.5 174.8h0M411.6 172.0h0M400.9 172.0h0M401.6 175.0h0M400.6 178.1h0M401.6 180.8h0M401.3 183.6h0M401.6 186.0h0M401.0 188.6h0M401.2 191.1h0M401.4 193.0h0M426.0 172.0h0M405.5 172.0h0M405.0 174.6h0M405.5 176.2h0M405.4 178.0h0M405.5 180.6h0" stroke="#d8103a" stroke-width="2.6" stroke-linecap="round" fill="none"/>
<path d="M285.0 148.5h0M228.6 152.3h0M225.6 154.6h0M268.1 149.4h0M252.7 152.8h0M234.4 149.6h0M275.1 152.8h0M262.0 147.0h0M238.1 148.6h0M226.0 152.4h0M261.2 155.2h0M260.0 155.2h0M254.5 151.2h0M242.3 150.6h0M284.9 150.9h0M224.1 149.5h0M236.9 152.2h0M257.1 150.8h0M284.3 153.6h0M229.7 146.3h0M269.5 152.0h0M266.4 151.0h0M226.3 150.5h0M278.3 152.0h0M226.9 147.2h0M282.8 151.4h0M234.7 153.1h0M284.1 154.7h0M265.9 154.1h0M229.7 150.6h0M276.7 149.4h0M233.4 154.7h0M269.8 146.1h0M228.1 151.6h0M286.0 152.2h0M280.9 147.1h0M261.4 147.8h0M245.6 147.5h0M254.1 146.5h0M266.7 152.5h0M282.8 153.7h0M228.9 154.7h0M259.3 155.4h0M256.0 146.8h0M269.8 147.7h0M288.0 151.4h0M282.6 150.9h0M245.2 152.6h0M270.1 150.6h0M241.9 150.2h0M270.5 148.3h0M234.3 150.8h0M266.8 146.7h0M241.6 155.7h0M241.4 153.7h0M243.9 146.9h0M255.6 154.7h0M274.5 146.5h0M269.7 152.2h0M255.4 152.6h0M257.9 147.8h0M269.2 147.3h0M244.1 154.5h0M260.9 151.1h0M270.1 150.9h0M249.0 151.5h0M225.4 149.5h0M226.6 156.0h0M283.0 152.5h0M234.3 154.6h0M242.4 154.0h0M266.3 152.0h0M272.2 148.7h0M278.2 151.4h0M273.2 154.4h0M240.5 150.1h0M247.5 146.8h0M280.9 152.9h0M283.9 157.5h0M288.6 147.5h0M282.3 160.4h0M284.4 156.4h0M281.1 150.7h0M286.0 153.2h0M289.2 164.9h0M289.6 151.8h0M284.2 148.2h0M282.3 147.6h0M284.0 166.1h0M287.1 153.6h0M281.3 165.6h0M278.6 163.7h0M288.3 147.4h0M289.4 159.6h0M282.7 154.9h0M285.3 157.1h0M288.4 164.8h0M281.9 146.2h0M287.3 159.6h0M285.9 147.6h0M278.9 164.9h0M282.4 155.9h0M289.7 150.1h0M285.6 147.3h0M284.7 161.5h0M279.9 162.0h0M289.6 163.3h0M287.5 165.9h0M286.6 157.5h0M287.9 162.9h0M285.5 160.0h0M280.1 153.1h0M281.9 164.0h0M287.4 152.1h0M289.9 147.2h0M278.7 152.9h0M278.9 165.9h0M282.3 154.2h0M288.3 157.2h0M285.6 155.2h0M283.5 166.1h0M281.3 157.0h0M283.7 149.0h0M279.8 156.6h0M287.6 155.1h0M278.7 165.6h0M279.7 164.6h0M278.5 159.6h0M279.8 151.5h0M283.1 161.9h0M283.2 154.8h0M282.8 156.9h0M281.4 166.0h0M280.3 148.8h0M284.6 153.4h0M286.7 146.8h0M286.1 153.7h0M289.1 152.3h0M283.2 152.7h0M284.4 151.9h0M286.0 154.6h0M385.2 170.0h0M385.7 172.0h0M385.6 170.0h0M386.4 173.3h0M386.2 175.9h0M386.4 178.4h0M385.8 181.0h0M385.8 183.5h0M386.1 185.1h0M387.4 170.0h0M387.5 172.7h0M378.4 170.0h0M378.3 172.6h0M377.5 175.4h0M377.7 177.5h0M377.9 179.7h0M378.5 181.9h0M377.8 184.9h0M378.4 187.8h0M383.2 170.0h0M383.7 173.3h0M382.9 175.5h0M383.2 178.6h0M383.3 180.8h0M383.8 183.8h0M383.6 187.2h0M383.2 189.0h0M383.0 190.6h0M382.9 192.8h0M382.9 195.3h0M383.2 198.1h0M383.5 200.2h0M382.7 202.3h0M383.6 205.5h0M383.1 208.8h0M383.5 210.9h0M398.6 170.0h0M398.2 171.6h0M399.1 174.0h0M398.6 175.8h0M399.1 177.5h0M398.9 180.6h0M398.1 183.6h0M397.9 185.6h0M358.3 170.0h0M391.1 170.0h0M390.1 171.9h0M390.9 174.2h0M390.9 170.0h0M389.9 172.2h0M390.8 173.9h0M390.8 176.5h0M390.2 178.4h0M390.9 180.4h0M361.4 170.0h0M361.7 172.5h0M362.2 175.5h0M361.6 178.4h0M362.1 180.0h0M361.4 183.0h0M362.4 186.2h0M362.0 188.4h0M396.7 170.0h0M396.6 173.1h0M396.7 174.7h0M396.5 177.0h0M396.3 179.3h0M397.0 181.5h0M396.6 184.8h0M360.9 170.0h0M360.5 173.1h0M361.2 175.0h0M360.8 177.7h0M360.2 179.9h0M373.4 170.0h0M373.3 173.0h0M372.8 176.1h0M373.3 179.6h0M372.8 182.3h0M373.5 184.0h0M373.4 187.0h0M373.2 189.0h0M373.4 192.1h0M372.7 195.4h0M372.6 198.5h0M373.3 201.3h0M373.1 203.0h0M394.0 170.0h0M360.8 170.0h0M359.9 172.2h0M359.9 174.0h0M360.5 176.4h0M360.3 179.8h0M360.2 183.2h0M359.7 186.1h0M359.7 188.4h0M360.6 190.3h0M360.0 192.0h0M360.3 194.6h0M359.8 196.2h0M360.1 199.1h0M360.2 200.8h0M360.9 203.1h0M359.9 204.7h0M380.1 170.0h0M379.9 171.8h0M380.4 174.0h0M379.9 177.0h0M379.7 179.0h0M379.7 181.6h0M379.3 184.2h0M380.4 186.6h0M379.8 188.9h0M380.2 192.0h0M379.7 195.0h0M379.4 197.9h0M379.2 200.7h0M379.4 202.6h0M380.1 204.8h0M380.3 206.4h0M380.3 208.1h0M379.9 211.6h0M397.8 170.0h0M397.7 171.6h0M397.7 174.4h0M396.8 176.3h0M397.5 178.8h0M363.6 170.0h0M363.4 172.0h0M363.3 175.5h0M363.0 177.9h0M362.6 180.4h0M362.8 182.0h0M395.9 170.0h0M396.0 172.7h0M395.7 176.0h0M365.7 170.0h0M365.4 173.2h0M365.8 176.0h0M366.0 178.4h0M366.6 181.8h0M398.1 170.0h0M397.7 172.7h0M398.1 175.8h0M398.6 178.8h0M398.3 181.6h0M397.6 184.2h0M397.6 186.7h0M398.7 188.6h0M397.6 190.8h0M397.6 193.2h0M397.8 196.0h0M398.2 198.0h0M397.5 201.3h0M398.2 204.3h0M398.0 206.8h0M397.9 208.4h0M397.9 210.9h0M370.7 170.0h0M370.3 173.1h0M370.7 175.6h0M370.0 177.4h0M370.3 179.0h0M370.9 181.4h0M370.2 184.8h0M369.8 187.3h0M370.3 190.4h0M370.8 192.2h0M369.9 193.9h0M370.9 196.3h0M370.0 198.2h0M369.6 170.0h0M369.9 172.0h0M369.7 175.2h0M370.6 178.1h0M370.5 181.6h0M370.1 183.2h0M369.7 185.2h0M370.4 187.2h0M369.7 189.9h0M369.6 192.0h0M370.4 195.4h0M370.7 197.8h0M369.8 201.3h0M369.8 203.4h0M370.2 206.1h0M370.5 208.7h0M369.9 211.3h0M397.7 170.0h0M389.0 170.0h0M389.2 172.9h0M388.7 175.6h0M389.0 179.0h0M359.1 170.0h0M360.2 173.4h0M360.2 176.2h0M360.0 179.0h0M359.3 181.7h0M359.9 183.4h0M359.2 185.8h0M359.4 188.5h0M360.1 190.5h0M360.0 193.3h0M359.6 196.4h0M359.6 198.9h0M360.0 201.1h0M359.4 204.4h0M359.3 207.4h0M359.9 208.9h0M370.1 170.0h0M370.2 172.2h0M369.4 175.4h0M369.8 178.7h0M369.7 180.8h0M369.9 183.4h0M369.3 185.5h0M370.1 188.3h0M369.7 191.2h0M369.3 194.5h0M369.3 196.3h0M369.9 198.9h0M369.9 200.9h0M369.3 202.4h0M370.3 205.9h0M370.0 207.6h0M369.9 210.1h0M384.1 170.0h0M383.4 173.4h0M383.6 176.5h0M384.2 179.9h0M384.2 183.3h0M383.9 185.7h0M383.3 188.7h0M383.9 191.3h0M383.7 194.3h0M384.1 197.0h0M384.1 199.3h0M383.7 202.7h0M383.8 205.3h0M383.6 208.5h0M383.7 210.6h0M362.0 170.0h0M361.8 173.0h0M361.8 174.6h0M361.5 177.3h0M362.1 180.7h0M361.4 183.2h0M361.8 185.2h0M361.6 188.0h0M361.7 190.5h0M362.2 193.2h0M362.3 195.8h0M361.5 198.5h0M361.9 201.4h0M362.5 204.4h0M362.4 206.7h0M362.1 208.6h0M362.3 210.2h0M375.3 170.0h0M375.7 172.0h0M374.9 174.8h0M376.0 176.9h0M375.2 179.0h0M372.4 170.0h0M371.4 171.8h0M371.7 173.7h0M372.0 175.8h0M371.3 179.1h0M371.3 180.7h0M371.3 182.8h0M371.6 185.2h0M372.3 188.2h0M371.7 191.7h0M371.3 194.5h0M372.2 197.2h0M371.3 200.5h0M372.3 202.4h0M372.1 205.3h0M371.9 207.0h0M372.1 208.6h0M371.6 211.7h0M388.1 170.0h0M387.8 172.3h0M388.5 175.4h0M387.6 177.7h0M387.9 181.2h0M387.8 183.6h0M388.6 186.6h0M388.4 189.0h0M387.9 191.4h0M388.5 194.5h0M388.2 197.5h0M388.5 200.7h0M388.0 204.2h0M387.4 206.5h0M387.8 209.0h0M388.6 210.6h0M396.8 170.0h0M385.3 170.0h0M385.7 171.7h0M385.3 174.8h0M385.7 177.4h0M385.3 179.9h0M385.6 182.4h0M385.1 185.4h0M371.8 170.0h0M372.4 173.3h0M371.8 176.4h0M371.8 178.6h0M371.3 181.4h0M372.4 184.0h0M372.4 185.7h0M400.2 170.0h0M399.8 173.0h0M400.3 174.8h0M400.2 178.1h0M399.9 180.1h0M399.7 182.6h0M399.8 185.1h0M400.0 188.6h0M396.2 170.0h0M396.0 172.3h0M388.5 170.0h0M388.6 172.3h0M388.5 174.8h0M368.1 170.0h0M384.5 170.0h0M384.7 172.3h0M384.3 174.6h0M383.9 177.8h0M383.9 180.2h0M384.0 182.4h0M383.5 185.6h0M384.4 189.1h0M384.2 191.8h0M384.4 193.9h0M383.9 197.2h0M365.3 170.0h0M364.8 172.8h0M363.2 170.0h0M363.1 170.0h0M363.6 172.1h0M363.6 174.3h0M363.2 177.3h0M363.7 178.9h0M363.4 181.6h0M379.1 170.0h0M379.8 173.5h0M380.2 175.8h0M379.8 179.1h0M379.8 180.7h0M379.8 183.0h0M379.2 186.2h0M379.5 189.4h0M379.1 191.5h0M379.4 193.2h0M380.2 195.8h0M379.4 197.7h0M379.9 200.0h0M379.9 202.2h0M379.1 204.0h0M380.0 206.7h0M356.6 170.0h0M357.4 173.4h0M357.1 175.2h0M356.7 176.9h0M357.6 179.1h0M357.5 182.5h0M357.3 185.3h0M384.4 170.0h0M384.3 173.2h0M384.7 175.5h0M384.3 179.0h0M372.9 170.0h0M372.7 173.1h0M368.1 170.0h0M367.8 171.8h0M368.0 173.7h0M367.4 176.6h0M367.5 178.6h0M368.3 180.7h0M390.6 170.0h0M390.6 171.9h0M390.1 175.4h0M390.2 177.7h0M368.0 170.0h0M368.6 172.9h0M368.8 176.0h0M368.3 179.0h0M382.4 170.0h0M376.7 170.0h0M377.5 172.6h0M376.7 174.4h0M376.0 170.0h0M376.6 173.5h0M376.2 175.7h0M376.1 178.4h0M376.4 181.5h0M375.8 184.7h0M376.2 187.2h0M375.6 189.9h0M376.1 193.1h0M376.6 194.9h0M388.5 170.0h0M387.8 173.4h0M387.9 175.5h0M388.0 178.3h0M387.9 179.9h0M388.4 181.8h0M388.3 184.3h0M388.4 185.8h0M387.8 187.9h0M387.9 189.5h0M362.1 170.0h0M363.0 173.0h0M362.0 175.2h0M362.0 178.6h0" stroke="#d8103a" stroke-width="2.8" stroke-linecap="round" fill="none"/>
<path d="M316.1 158.0h0M316.5 160.6h0M305.4 158.0h0M297.0 158.0h0M297.3 160.2h0M298.7 158.0h0M311.8 158.0h0M311.3 160.9h0M313.8 158.0h0M314.8 160.3h0M314.5 162.5h0M314.6 164.3h0M303.8 158.0h0M303.5 160.0h0M304.0 161.8h0M325.8 158.0h0M325.8 161.4h0M324.9 163.0h0M325.8 166.5h0M325.5 169.2h0M325.3 171.6h0M325.4 173.5h0M324.9 175.5h0M325.5 178.8h0M325.1 182.1h0M325.1 184.8h0M325.0 188.0h0M325.4 190.8h0M324.9 193.0h0M325.4 195.5h0M297.3 158.0h0M298.0 158.0h0M298.8 159.7h0M298.1 162.2h0M299.1 164.7h0M298.7 167.0h0M298.6 169.4h0M322.5 158.0h0M322.3 160.1h0M323.1 163.5h0M322.8 165.8h0M297.7 158.0h0M310.3 158.0h0M314.8 158.0h0M314.2 160.8h0M314.7 162.4h0M314.6 164.9h0M314.6 166.5h0M313.8 169.0h0M292.4 158.0h0M292.4 160.9h0M292.9 163.8h0M293.3 166.8h0M315.7 158.0h0M315.6 161.2h0M315.0 163.9h0M325.7 158.0h0M326.1 161.2h0M326.2 164.4h0M325.7 166.8h0M326.0 169.9h0M326.3 172.5h0M325.3 174.1h0M325.4 176.6h0M325.4 179.8h0M325.5 183.1h0M326.2 184.9h0M325.7 187.8h0M325.9 190.5h0M325.9 193.9h0M307.3 158.0h0M307.3 159.8h0M307.4 163.1h0M302.6 158.0h0M322.2 158.0h0M322.9 161.0h0M323.0 163.5h0M322.4 165.4h0M322.8 168.0h0M322.3 170.4h0M322.4 173.7h0M322.2 176.0h0M322.8 178.5h0M322.8 180.8h0M290.2 158.0h0M291.0 160.6h0M289.9 162.6h0M290.0 164.5h0M290.5 167.7h0M290.2 169.4h0M290.0 171.9h0M290.9 174.1h0M290.1 176.5h0M290.0 179.2h0M290.6 181.8h0M290.5 183.5h0M290.7 185.6h0M290.9 188.4h0M290.1 191.1h0M290.7 193.1h0M289.9 196.2h0M300.9 158.0h0M300.8 160.6h0M300.2 163.7h0M303.9 176.6h0M309.6 183.3h0M296.2 189.3h0M296.0 171.0h0M321.4 194.5h0M303.6 193.3h0M291.4 193.4h0M297.4 161.2h0M318.2 165.6h0M317.8 160.2h0M294.6 172.5h0M293.1 176.5h0M302.8 185.8h0M308.2 193.8h0M321.2 166.0h0M323.9 191.3h0M310.9 178.4h0M296.3 171.2h0M298.1 166.9h0M312.7 171.4h0M318.4 180.1h0M320.6 163.1h0M321.3 177.8h0M313.4 168.3h0M315.8 174.2h0M346.8 160.0h0M347.5 162.1h0M347.4 163.7h0M347.5 166.3h0M347.2 168.5h0M348.0 160.0h0M343.1 160.0h0M344.0 162.0h0M351.4 160.0h0M351.1 162.6h0M351.8 166.0h0M351.7 167.8h0M351.8 170.3h0M352.1 172.4h0M329.5 160.0h0M329.3 162.1h0M329.5 165.4h0M329.4 167.1h0M329.4 169.1h0M329.0 172.0h0M329.4 175.3h0M354.1 160.0h0M353.7 162.9h0M353.9 165.4h0M353.6 167.4h0M350.9 160.0h0M350.8 162.5h0M350.1 165.4h0M351.3 167.8h0M350.7 169.8h0M350.4 171.5h0M328.3 160.0h0M327.6 163.3h0M327.8 166.6h0M328.5 169.1h0M328.1 171.7h0M327.3 173.5h0M327.4 175.5h0M334.2 160.0h0M334.2 161.9h0M334.0 164.1h0M334.4 165.8h0M334.1 168.9h0M333.8 171.8h0M333.8 173.6h0M334.1 176.6h0M333.7 178.4h0M333.4 180.9h0M333.9 182.5h0M334.5 184.3h0M334.3 186.1h0M333.8 189.2h0M354.6 160.0h0M354.5 163.5h0M354.6 166.9h0M354.6 169.3h0M351.3 160.0h0M352.0 163.5h0M352.1 166.0h0M351.8 167.8h0M352.0 170.9h0M328.5 160.0h0M328.6 162.7h0M328.8 165.2h0M351.7 160.0h0M351.5 161.9h0M352.6 160.0h0M351.8 160.0h0M350.7 162.1h0M351.2 164.2h0M350.9 165.7h0M351.4 168.2h0M350.7 170.1h0M350.7 172.3h0M350.7 174.0h0M351.6 177.2h0M351.6 178.8h0M351.4 182.0h0M351.6 184.1h0M350.6 185.8h0M350.9 189.3h0M351.5 192.6h0M350.7 194.3h0M350.8 197.1h0" stroke="#a41f3c" stroke-width="2.4" stroke-linecap="round" fill="none"/>
<path d="M329.5 150.0h0M329.3 151.8h0M329.6 155.2h0M329.0 158.4h0M329.5 160.9h0M328.8 163.2h0M328.7 164.8h0M331.0 150.0h0M331.4 153.5h0M330.7 155.9h0M330.9 158.1h0M324.8 150.0h0M325.5 151.6h0M325.4 153.3h0M324.8 156.0h0M325.0 159.2h0M325.1 162.7h0M325.6 166.1h0M325.3 168.4h0M325.2 171.4h0M325.3 173.0h0M324.7 176.0h0M324.5 177.8h0M324.6 180.4h0M324.9 183.6h0M325.3 187.1h0M324.7 189.5h0M325.2 191.9h0M325.5 195.1h0M324.5 197.3h0M325.3 200.2h0M325.4 203.0h0M325.2 206.1h0M324.6 209.3h0M325.2 212.7h0M324.7 214.4h0M324.8 217.2h0M324.8 220.6h0M325.1 223.1h0M324.8 226.5h0M325.3 229.9h0M325.6 232.5h0M325.3 235.8h0M324.5 238.4h0M328.0 150.0h0M327.7 152.2h0M330.0 150.0h0M330.7 152.6h0M330.2 156.0h0M330.6 157.7h0M329.6 159.3h0M329.7 162.1h0M330.3 165.2h0M330.6 167.0h0M330.3 170.6h0M330.5 174.0h0M330.5 176.5h0M330.3 179.9h0M329.9 181.6h0M324.3 150.0h0M324.4 151.8h0M324.7 153.6h0M331.4 150.0h0M330.9 152.8h0M326.2 150.0h0M327.0 152.5h0M326.3 155.2h0M327.0 157.4h0M326.6 159.1h0M326.5 161.7h0M326.1 163.2h0M326.5 166.4h0M326.5 168.5h0M326.1 170.2h0M326.9 173.3h0" stroke="#a41f3c" stroke-width="2.6" stroke-linecap="round" fill="none"/>
<path d="M224.0 137.4 225.6 136.5 227.2 137.0 228.8 134.2 230.4 136.4 232.0 135.0 233.6 136.3 235.2 136.3 236.8 135.1 238.4 137.3 240.0 135.3 241.6 135.4 243.2 136.4 244.8 134.1 246.4 137.1 248.0 134.8 249.6 137.0 251.2 134.1 252.8 134.0 254.4 135.9 256.0 134.5 257.6 135.3 259.2 134.3 260.8 136.4 262.4 136.4 264.0 136.2 265.6 134.0 267.2 133.7 268.8 135.8 270.4 133.8 272.0 136.4 273.6 135.7 275.2 137.2 276.8 136.8 278.4 136.1 280.0 136.8 281.6 135.5 283.2 134.7 284.8 133.7 286.4 136.3 288.0 136.2 289.0 136.0 289.0 148.0 288.0 147.8 286.4 149.6 284.8 147.4 283.2 146.5 281.6 149.7 280.0 148.9 278.4 149.4 276.8 149.8 275.2 147.5 273.6 146.4 272.0 147.7 270.4 147.7 268.8 147.2 267.2 148.8 265.6 146.6 264.0 149.5 262.4 146.4 260.8 146.7 259.2 148.9 257.6 146.5 256.0 148.4 254.4 146.6 252.8 147.1 251.2 147.3 249.6 146.4 248.0 148.7 246.4 149.1 244.8 149.0 243.2 145.9 241.6 145.4 240.0 147.0 238.4 148.2 236.8 147.4 235.2 149.0 233.6 149.1 232.0 147.9 230.4 146.1 228.8 146.7 227.2 145.3 225.6 146.6 224.0 148.0Z" fill="#d8103a"/>
<path d="M290.0 147.3 291.6 146.7 293.2 148.2 294.8 149.6 296.4 148.6 298.0 146.4 299.6 147.7 301.2 146.9 302.8 149.2 304.4 147.7 306.0 147.8 307.6 149.5 309.2 147.2 310.8 147.8 312.4 149.9 314.0 147.2 315.6 148.2 317.2 148.6 318.8 147.3 320.4 148.5 322.0 147.7 323.6 149.3 325.2 148.2 326.0 148.9 326.0 160.3 325.2 160.8 323.6 159.6 322.0 158.6 320.4 159.5 318.8 159.3 317.2 158.1 315.6 161.1 314.0 160.1 312.4 159.9 310.8 160.8 309.2 158.3 307.6 158.5 306.0 160.9 304.4 158.2 302.8 161.5 301.2 160.0 299.6 161.9 298.0 161.4 296.4 159.6 294.8 159.4 293.2 159.7 291.6 161.1 290.0 159.8Z" fill="#d8103a"/>
<path d="M327.0 137.9 328.6 139.0 330.2 138.0 331.8 137.1 333.4 138.0 335.0 137.0 336.6 137.3 338.2 136.7 339.8 138.7 341.4 138.9 343.0 137.3 344.6 137.2 345.0 135.4 345.0 158.3 344.6 159.7 343.0 157.0 341.4 159.1 339.8 157.0 338.2 158.9 336.6 157.1 335.0 158.4 333.4 159.1 331.8 156.1 330.2 159.4 328.6 158.1 327.0 157.0Z" fill="#d8103a"/>
<path d="M345.0 142.2 346.6 143.4 348.2 144.3 349.8 142.2 351.4 141.9 353.0 142.7 354.6 144.4 356.2 143.7 357.8 145.2 359.4 145.2 361.0 144.0 362.6 145.0 364.2 143.4 365.8 145.4 367.4 145.7 369.0 144.2 370.6 146.0 372.2 144.1 373.8 147.6 375.4 146.0 377.0 147.7 378.6 146.8 380.2 145.1 381.8 147.4 383.4 147.0 385.0 146.2 386.6 147.6 388.0 148.0 388.0 161.7 386.6 159.8 385.0 162.8 383.4 162.5 381.8 160.6 380.2 162.5 378.6 162.8 377.0 160.1 375.4 159.5 373.8 159.6 372.2 160.6 370.6 159.2 369.0 159.5 367.4 161.4 365.8 158.6 364.2 160.9 362.6 160.0 361.0 161.2 359.4 159.4 357.8 160.2 356.2 159.1 354.6 158.3 353.0 161.6 351.4 159.6 349.8 159.3 348.2 161.8 346.6 159.5 345.0 160.2Z" fill="#d8103a"/>
<path d="M224.0 127.1 225.6 127.8 227.2 128.9 228.8 128.8 230.4 128.8 232.0 129.0 233.6 127.4 235.2 126.9 236.8 127.1 238.4 128.4 240.0 128.1 241.6 127.7 243.2 128.5 244.8 127.3 246.4 128.3 248.0 127.8 249.6 127.1 251.2 128.7 252.8 127.2 254.4 128.7 256.0 128.6 257.6 127.8 259.2 127.9 260.8 127.3 262.4 127.1 264.0 128.5 265.6 127.7 267.2 128.2 268.8 127.7 270.4 127.4 272.0 127.2 273.6 128.6 275.2 127.8 276.8 127.2 278.4 128.9 280.0 127.2 281.6 127.4 283.2 127.2 284.8 128.1 286.4 128.7 288.0 126.9 289.0 129.0 289.0 136.5 288.0 136.8 286.4 135.8 284.8 135.8 283.2 135.0 281.6 135.4 280.0 136.9 278.4 135.5 276.8 137.0 275.2 136.8 273.6 137.0 272.0 135.1 270.4 135.8 268.8 136.8 267.2 135.5 265.6 135.4 264.0 134.8 262.4 136.1 260.8 136.1 259.2 135.3 257.6 135.4 256.0 136.3 254.4 135.2 252.8 136.7 251.2 136.9 249.6 135.8 248.0 135.1 246.4 136.2 244.8 135.5 243.2 135.1 241.6 136.5 240.0 136.1 238.4 135.5 236.8 135.4 235.2 136.5 233.6 137.0 232.0 135.6 230.4 136.2 228.8 135.3 227.2 135.9 225.6 136.2 224.0 135.5Z" fill="#8a1030"/>
<path d="M263.3 132.8h0M226.8 129.8h0M250.9 130.0h0M259.5 133.2h0M264.6 135.2h0M263.5 134.4h0M231.5 135.1h0M284.4 133.1h0M277.8 132.9h0M252.2 130.1h0M255.2 134.0h0M275.6 135.3h0M257.7 135.6h0M248.2 129.1h0M251.7 132.8h0M274.2 130.6h0M225.6 134.1h0M236.4 135.0h0M260.8 130.0h0M257.9 134.4h0M238.5 135.7h0M227.7 130.0h0M262.6 133.7h0M263.1 135.5h0M237.1 129.3h0M258.9 131.5h0M249.8 131.8h0M281.3 131.0h0M269.0 133.0h0M242.5 135.4h0M240.6 131.1h0M236.5 133.9h0M269.1 131.6h0M231.6 133.2h0M245.9 132.9h0M266.6 129.0h0" stroke="#b01030" stroke-width="2.6" stroke-linecap="round" fill="none"/>
<path d="M227.0 145.2h0M280.4 137.9h0M238.5 141.3h0M278.1 140.1h0M286.2 137.9h0M282.8 137.6h0M263.1 146.7h0M270.9 146.1h0M246.8 146.6h0M282.7 139.7h0M274.2 146.2h0M237.9 140.9h0M274.1 142.7h0M283.7 141.3h0M253.1 138.7h0M241.8 145.7h0M241.0 146.0h0M276.2 142.7h0M243.6 137.0h0M231.7 145.3h0M286.3 146.6h0M242.2 146.4h0M252.6 140.7h0M283.1 145.2h0M268.1 139.9h0M231.0 138.8h0M241.1 138.9h0M261.1 140.1h0M238.0 145.8h0M248.0 137.0h0M224.6 142.5h0M225.9 142.6h0M225.7 141.7h0M264.2 142.4h0M238.1 145.4h0M287.2 145.1h0M284.6 146.7h0M247.9 142.4h0M250.9 144.9h0" stroke="#8a0c28" stroke-width="2.6" stroke-linecap="round" fill="none"/>
<path d="M289.0 135.2 290.6 135.3 292.2 135.9 293.8 136.1 295.4 137.2 297.0 135.6 298.6 134.8 300.2 135.7 301.8 136.9 303.4 135.0 305.0 136.0 306.6 136.2 308.2 136.8 309.8 135.6 311.4 136.3 313.0 137.1 314.6 137.1 316.2 136.2 317.8 135.6 319.4 136.4 321.0 136.6 322.6 136.4 324.2 136.4 325.8 135.7 326.0 136.5 326.0 147.6 325.8 147.4 324.2 147.0 322.6 148.1 321.0 147.2 319.4 147.5 317.8 147.5 316.2 147.7 314.6 147.8 313.0 149.1 311.4 148.1 309.8 148.1 308.2 147.8 306.6 148.1 305.0 148.8 303.4 148.1 301.8 148.0 300.2 147.6 298.6 147.2 297.0 147.3 295.4 147.0 293.8 147.5 292.2 146.9 290.6 147.8 289.0 148.2Z" fill="#8a1030"/>
<path d="M327.0 128.1 328.6 129.6 330.2 128.9 331.8 129.3 333.4 128.8 335.0 129.7 336.6 129.4 338.2 128.1 339.8 129.1 341.4 128.4 343.0 129.6 344.6 128.7 345.0 128.3 345.0 135.9 344.6 138.2 343.0 136.1 341.4 136.4 339.8 138.0 338.2 135.9 336.6 136.8 335.0 136.8 333.4 137.4 331.8 137.7 330.2 138.1 328.6 136.6 327.0 136.0Z" fill="#8a2040"/>
<path d="M205.5 222.0 207.8 197.0 208.6 180.0 209.5 165.0 213.0 150.0 214.5 140.0 217.5 130.0 220.0 120.0 222.0 114.0 225.0 113.0 224.0 140.0 221.5 150.0 218.0 160.0 216.0 170.0 214.5 182.0 212.0 197.0 209.5 205.0 208.0 222.0Z" fill="#1a0008"/>
<path d="M207.7 160.3h0M208.2 198.5h0M213.2 166.2h0M208.1 215.1h0M210.7 184.8h0M206.6 163.5h0M207.7 198.2h0M206.5 191.2h0M212.5 160.1h0M208.3 185.6h0M210.9 205.6h0M211.4 186.9h0M208.7 198.8h0M209.7 217.6h0" stroke="#802040" stroke-width="2.4" stroke-linecap="round" fill="none"/>
<path d="M211.7 199.6h0M212.7 194.0h0M211.4 203.8h0M212.2 221.9h0M210.1 194.7h0M214.8 212.0h0M211.9 184.4h0M209.3 190.5h0M211.0 191.3h0M209.8 194.0h0" stroke="#f0a0c0" stroke-width="2.0" stroke-linecap="round" fill="none"/>
<path d="M209.8 156.0h0M210.0 160.0h0M205.5 222.0h0M207.5 221.0h0" stroke="#000" stroke-width="2.6" stroke-linecap="round" fill="none"/>
<path d="M222.0 113.4 223.0 113.5 224.0 113.2 225.0 112.7 226.0 114.0 227.0 115.2 228.0 115.4 229.0 114.5 230.0 114.9 231.0 115.3 232.0 115.0 233.0 114.7 234.0 114.4 235.0 115.6 236.0 115.2 237.0 114.3 238.0 113.8 239.0 113.4 240.0 110.7 241.0 111.1 242.0 111.6 243.0 114.1 244.0 114.8 245.0 115.3 246.0 114.3 247.0 113.7 248.0 111.2 249.0 109.7 250.0 111.7 251.0 112.9 252.0 114.4 253.0 115.0 254.0 114.6 255.0 114.9 256.0 115.3 257.0 114.5 258.0 115.1 259.0 114.3 260.0 112.8 261.0 112.7 262.0 113.9 263.0 113.8 264.0 114.3 265.0 114.4 266.0 114.3 267.0 115.5 268.0 115.3 269.0 114.0 270.0 112.8 271.0 114.2 272.0 115.0 273.0 112.8 274.0 112.6 275.0 113.9 276.0 114.7 277.0 114.9 278.0 115.0 279.0 115.5 280.0 114.9 281.0 114.8 282.0 115.4 283.0 113.9 284.0 112.3 285.0 112.3 286.0 113.3 287.0 115.1 288.0 116.0 289.0 116.0 289.5 115.1 289.5 128.5 289.0 128.6 288.0 127.7 287.0 128.1 286.0 128.9 285.0 128.8 284.0 128.4 283.0 128.6 282.0 128.5 281.0 128.3 280.0 127.8 279.0 128.9 278.0 128.9 277.0 128.4 276.0 128.9 275.0 129.0 274.0 128.8 273.0 129.0 272.0 129.2 271.0 127.8 270.0 129.2 269.0 128.4 268.0 128.9 267.0 128.9 266.0 127.9 265.0 128.6 264.0 127.8 263.0 128.9 262.0 128.2 261.0 128.3 260.0 128.1 259.0 129.0 258.0 128.7 257.0 128.2 256.0 128.9 255.0 128.0 254.0 129.0 253.0 128.7 252.0 128.9 251.0 128.7 250.0 129.3 249.0 128.8 248.0 128.4 247.0 128.6 246.0 128.6 245.0 128.2 244.0 128.2 243.0 129.0 242.0 129.0 241.0 129.2 240.0 128.8 239.0 128.5 238.0 128.3 237.0 128.8 236.0 128.7 235.0 129.2 234.0 128.9 233.0 128.3 232.0 128.1 231.0 127.8 230.0 128.9 229.0 128.4 228.0 128.3 227.0 127.8 226.0 128.5 225.0 129.1 224.0 128.1 223.0 128.9 222.0 128.9Z" fill="#000"/>
<path d="M266.2 113.9h0M238.7 113.4h0M261.2 108.3h0M256.5 114.7h0M282.7 114.2h0M244.9 113.4h0M232.2 115.7h0M281.2 114.9h0M275.7 115.6h0M253.5 115.0h0M275.7 114.2h0M248.4 114.5h0M236.2 115.5h0M268.3 115.1h0M229.0 115.2h0M252.3 105.8h0M247.8 114.4h0M287.1 113.6h0M252.7 114.5h0M237.1 115.6h0M253.6 113.3h0M229.1 114.8h0M233.6 114.1h0M245.1 113.3h0M274.4 115.0h0M247.6 115.4h0M236.2 113.9h0M276.1 115.8h0M287.4 111.1h0M246.5 113.9h0M267.1 115.1h0M246.5 112.8h0M254.5 114.4h0M259.7 115.5h0M253.5 114.8h0M233.2 114.5h0M269.1 114.3h0M255.4 113.2h0M250.2 106.7h0M236.3 116.0h0M260.1 113.1h0M247.6 114.5h0M245.0 115.1h0M275.0 111.8h0M240.7 114.0h0M252.8 115.3h0M271.1 114.4h0M288.4 111.2h0M282.5 115.7h0M229.4 112.6h0M229.3 113.7h0M233.8 113.4h0M225.6 116.2h0M280.1 114.7h0M252.2 107.7h0M274.5 115.6h0M269.3 114.9h0M253.1 114.8h0M237.2 115.2h0M240.3 115.4h0M280.5 115.2h0M259.6 112.1h0M267.4 115.6h0M285.8 110.5h0M278.2 115.3h0M277.6 113.9h0M224.1 115.4h0M268.8 114.3h0M285.5 113.0h0M278.0 107.6h0" stroke="#000" stroke-width="3.0" stroke-linecap="round" fill="none"/>
<path d="M286.0 114.8 287.0 115.9 288.0 116.9 289.0 118.7 290.0 119.6 291.0 121.9 292.0 121.8 293.0 123.0 294.0 121.8 295.0 122.8 296.0 121.0 297.0 120.8 298.0 119.6 299.0 118.4 300.0 118.1 301.0 118.6 302.0 120.2 303.0 122.6 304.0 122.4 305.0 121.2 306.0 122.2 307.0 123.1 308.0 124.3 309.0 125.9 310.0 127.6 311.0 126.2 312.0 126.8 313.0 125.1 314.0 124.9 315.0 125.1 316.0 126.6 317.0 126.3 318.0 125.5 319.0 124.0 320.0 122.2 321.0 122.9 322.0 124.1 323.0 123.2 324.0 123.9 325.0 125.3 326.0 123.4 327.0 123.4 328.0 120.7 329.0 120.3 330.0 117.9 330.0 131.1 329.0 133.2 328.0 134.3 327.0 137.0 326.0 137.4 325.0 137.5 324.0 137.4 323.0 137.3 322.0 136.4 321.0 136.9 320.0 137.0 319.0 136.3 318.0 137.4 317.0 136.4 316.0 137.1 315.0 136.6 314.0 136.5 313.0 137.7 312.0 137.2 311.0 137.4 310.0 137.2 309.0 137.1 308.0 137.6 307.0 136.3 306.0 136.8 305.0 136.6 304.0 137.2 303.0 136.8 302.0 137.7 301.0 136.6 300.0 136.6 299.0 137.7 298.0 137.4 297.0 136.9 296.0 136.8 295.0 137.4 294.0 136.4 293.0 137.4 292.0 136.6 291.0 137.5 290.0 134.9 289.0 134.9 288.0 133.4 287.0 130.6 286.0 129.5Z" fill="#000"/>
<path d="M327.0 119.1 328.0 118.8 329.0 119.0 330.0 118.5 331.0 118.5 332.0 118.8 333.0 118.6 334.0 118.3 335.0 117.3 336.0 117.2 337.0 117.8 338.0 116.9 339.0 115.3 340.0 115.4 341.0 116.9 342.0 116.9 343.0 115.4 344.0 112.8 345.0 112.7 346.0 114.0 347.0 116.4 348.0 115.9 349.0 115.6 350.0 113.8 351.0 113.4 352.0 114.8 353.0 115.4 354.0 117.0 355.0 115.7 356.0 116.2 357.0 115.6 358.0 114.1 359.0 113.3 360.0 114.0 361.0 114.4 362.0 111.6 363.0 114.8 364.0 117.0 365.0 117.2 366.0 117.1 367.0 116.8 368.0 116.8 369.0 117.1 370.0 116.9 371.0 117.4 372.0 115.5 373.0 115.1 374.0 113.2 375.0 112.6 376.0 114.8 377.0 115.6 378.0 116.4 379.0 115.7 380.0 115.4 381.0 111.7 382.0 114.0 383.0 115.6 384.0 117.5 385.0 115.1 386.0 113.5 387.0 114.8 388.0 117.3 389.0 116.5 390.0 116.7 391.0 116.9 392.0 117.4 393.0 117.2 394.0 117.9 395.0 118.6 396.0 117.7 397.0 114.4 398.0 113.2 399.0 114.1 400.0 117.4 401.0 117.9 402.0 118.2 403.0 115.1 404.0 114.5 405.0 117.7 406.0 118.4 407.0 119.6 408.0 118.5 409.0 118.3 410.0 118.0 411.0 120.2 412.0 119.7 413.0 120.6 414.0 119.1 415.0 118.3 416.0 118.9 417.0 121.1 418.0 121.4 419.0 122.3 420.0 122.4 421.0 121.2 422.0 122.1 423.0 121.4 424.0 121.0 425.0 122.0 426.0 121.5 427.0 120.7 428.0 119.2 429.0 118.0 430.0 116.8 431.0 119.0 432.0 119.5 433.0 119.7 434.0 120.0 435.0 117.2 436.0 116.2 437.0 116.2 438.0 118.3 439.0 117.8 440.0 116.5 441.0 114.5 442.0 112.0 443.0 113.1 444.0 110.9 445.0 111.2 446.0 112.6 447.0 112.7 448.0 112.2 449.0 112.2 450.0 109.7 451.0 108.9 452.0 110.7 453.0 106.7 454.0 110.6 455.0 112.3 455.0 130.7 454.0 130.4 453.0 131.9 452.0 132.1 451.0 132.6 450.0 132.9 449.0 135.2 448.0 134.9 447.0 133.1 446.0 133.7 445.0 132.8 444.0 132.0 443.0 133.2 442.0 132.9 441.0 133.1 440.0 132.4 439.0 133.5 438.0 135.4 437.0 133.3 436.0 133.2 435.0 134.4 434.0 135.0 433.0 133.4 432.0 136.0 431.0 134.7 430.0 135.0 429.0 134.6 428.0 134.4 427.0 134.0 426.0 134.9 425.0 134.8 424.0 133.5 423.0 134.4 422.0 134.0 421.0 135.5 420.0 134.4 419.0 135.9 418.0 135.7 417.0 135.5 416.0 135.3 415.0 134.9 414.0 133.4 413.0 133.6 412.0 134.1 411.0 135.0 410.0 134.3 409.0 134.7 408.0 135.7 407.0 134.7 406.0 135.2 405.0 133.5 404.0 132.9 403.0 132.7 402.0 131.9 401.0 132.6 400.0 131.5 399.0 131.9 398.0 132.2 397.0 131.4 396.0 132.1 395.0 131.6 394.0 131.2 393.0 131.6 392.0 132.9 391.0 133.2 390.0 132.4 389.0 132.2 388.0 131.8 387.0 132.3 386.0 133.5 385.0 134.1 384.0 133.7 383.0 131.9 382.0 131.0 381.0 130.4 380.0 130.4 379.0 130.8 378.0 130.6 377.0 131.0 376.0 131.3 375.0 130.4 374.0 131.3 373.0 131.2 372.0 130.6 371.0 131.9 370.0 130.8 369.0 129.9 368.0 130.0 367.0 129.9 366.0 129.7 365.0 129.9 364.0 131.5 363.0 132.3 362.0 132.8 361.0 130.5 360.0 129.7 359.0 130.7 358.0 129.8 357.0 129.7 356.0 130.2 355.0 129.9 354.0 129.6 353.0 129.6 352.0 130.2 351.0 131.9 350.0 132.2 349.0 130.0 348.0 129.9 347.0 131.2 346.0 131.4 345.0 131.7 344.0 130.9 343.0 129.7 342.0 129.2 341.0 130.5 340.0 131.9 339.0 130.1 338.0 129.8 337.0 129.8 336.0 129.4 335.0 129.0 334.0 129.9 333.0 129.6 332.0 129.9 331.0 128.8 330.0 129.3 329.0 130.4 328.0 131.5 327.0 130.0Z" fill="#000"/>
<path d="M397.4 117.7h0M441.0 116.4h0M343.8 118.1h0M358.2 117.3h0M452.0 111.8h0M429.1 120.5h0M393.7 118.4h0M441.0 116.2h0M378.9 115.0h0M438.2 105.9h0M388.6 117.4h0M432.7 120.1h0M352.9 116.3h0M366.2 117.1h0M425.9 121.3h0M407.0 119.8h0M341.6 115.3h0M426.2 119.5h0M405.1 119.9h0M391.2 114.8h0M427.4 120.0h0M407.8 120.3h0M334.1 115.0h0M329.3 118.7h0M378.2 115.3h0M416.2 117.8h0M446.0 114.1h0M358.9 117.3h0M369.2 117.5h0M450.0 112.1h0M389.9 118.5h0M443.7 115.1h0M425.5 121.8h0M361.6 117.3h0M395.5 118.3h0M400.2 116.9h0M355.9 117.2h0M393.0 117.7h0M384.2 117.3h0M348.1 117.9h0M420.1 120.8h0M415.0 119.8h0M392.7 118.4h0M444.0 113.9h0M385.6 117.7h0M375.2 109.2h0M379.0 114.4h0M342.9 116.6h0M361.8 117.0h0M365.9 116.6h0M409.4 119.8h0M437.2 119.3h0M436.5 118.8h0M428.4 120.8h0M359.9 112.7h0M408.5 118.0h0M393.9 116.2h0M449.4 111.1h0M451.0 112.8h0M365.1 113.0h0M433.7 116.3h0M382.7 117.0h0M448.3 113.9h0M348.3 117.8h0M365.7 116.5h0M376.0 116.6h0M331.5 118.3h0M392.0 118.7h0M388.6 113.4h0M410.6 114.7h0M437.1 118.3h0M329.7 119.2h0M400.8 115.7h0M369.5 117.5h0M424.2 120.7h0M386.9 118.2h0M397.9 117.5h0M417.9 117.5h0M336.7 115.0h0M368.1 116.6h0M371.0 114.2h0M383.5 118.1h0M387.7 118.2h0M329.0 119.3h0M375.7 116.6h0M327.1 119.2h0M442.4 114.8h0M452.5 111.8h0M449.1 111.6h0M376.6 117.8h0M345.9 115.0h0M411.8 120.6h0M347.9 116.0h0M446.0 114.2h0M454.6 111.4h0M353.6 117.2h0M418.1 116.8h0M353.0 117.1h0M345.3 118.0h0M355.9 116.3h0M357.4 115.2h0M357.7 116.9h0M380.6 117.6h0M333.5 118.9h0M327.6 117.0h0M333.3 117.7h0M440.8 115.4h0M366.2 116.6h0M381.7 117.3h0M333.9 118.7h0M345.3 118.0h0M369.4 117.5h0M405.8 120.0h0M392.3 116.2h0M390.6 115.7h0M426.9 120.8h0M354.2 117.5h0M415.7 121.1h0M364.2 117.5h0M350.0 113.1h0M387.4 114.4h0M435.1 120.3h0M355.9 112.7h0M357.3 115.5h0M446.9 113.2h0M381.4 111.1h0M437.5 113.8h0M417.5 121.9h0M333.2 119.1h0M445.2 113.2h0" stroke="#000" stroke-width="3.0" stroke-linecap="round" fill="none"/>
<path d="M441.6 149.4h0M367.3 149.6h0M371.5 138.5h0M371.3 149.9h0M448.1 140.9h0M395.4 147.5h0M432.5 148.6h0M381.7 139.3h0M399.0 149.1h0M410.5 148.2h0M362.6 143.1h0M445.5 144.0h0M431.3 147.3h0M390.9 145.7h0M419.6 142.2h0M399.8 147.3h0M441.4 149.8h0M382.3 145.5h0M403.3 147.9h0M367.6 142.5h0M369.5 147.2h0M421.7 136.1h0M352.5 138.0h0M408.0 146.9h0M379.6 137.1h0M407.3 144.6h0M389.5 139.8h0M379.9 139.3h0M433.5 141.3h0M422.1 143.7h0M409.2 150.8h0M426.8 156.6h0M436.7 149.5h0M410.4 149.0h0M407.6 151.9h0M428.7 157.2h0M423.6 149.5h0M415.1 149.4h0M411.2 153.7h0M420.1 149.7h0" stroke="#000" stroke-width="2.6" stroke-linecap="round" fill="none"/>
<path d="M456.5 92.0 456.5 64.0 459.0 58.0 462.0 56.0 470.0 53.5 480.0 49.0 488.0 45.0 491.0 42.5 494.0 45.0 497.0 47.0 497.5 55.0 490.0 60.0 480.0 64.5 470.0 71.0 463.0 76.0 462.0 92.0Z" fill="#000"/>
<path d="M460.0 55.7 461.0 55.0 462.0 53.7 463.0 55.7 464.0 55.4 465.0 55.1 466.0 55.4 467.0 55.1 468.0 53.0 469.0 52.0 470.0 51.7 471.0 50.8 472.0 50.8 473.0 51.1 474.0 50.1 475.0 50.0 476.0 49.1 477.0 49.0 478.0 49.4 479.0 49.9 480.0 49.2 481.0 48.5 482.0 47.8 483.0 47.7 484.0 47.7 485.0 45.9 486.0 45.4 487.0 45.7 488.0 43.8 489.0 43.2 490.0 42.3 491.0 43.0 492.0 41.1 493.0 42.0 494.0 43.2 495.0 44.1 496.0 45.1 497.0 47.5 497.0 56.1 496.0 56.3 495.0 57.6 494.0 58.1 493.0 58.4 492.0 59.0 491.0 59.7 490.0 60.5 489.0 61.2 488.0 62.5 487.0 64.3 486.0 64.7 485.0 64.5 484.0 64.4 483.0 64.0 482.0 65.1 481.0 65.3 480.0 66.1 479.0 67.6 478.0 68.8 477.0 69.4 476.0 70.0 475.0 70.1 474.0 71.2 473.0 72.6 472.0 72.4 471.0 72.7 470.0 72.1 469.0 73.1 468.0 72.5 467.0 74.0 466.0 74.0 465.0 75.3 464.0 76.6 463.0 76.7 462.0 77.1 461.0 77.5 460.0 77.2Z" fill="#000"/>
<path d="M490.0 41.5h0M491.0 43.0h0M470.0 76.5h0M480.5 84.5h0M495.0 65.0h0M461.0 94.5h0M455.0 100.0h0M458.0 95.0h0" stroke="#000" stroke-width="2.8" stroke-linecap="round" fill="none"/>
<path d="M496.2 91.0h0M496.3 96.3h0M495.4 100.8h0M495.9 99.6h0M497.8 90.3h0M497.0 101.5h0M498.6 102.4h0M498.4 101.9h0M495.9 104.6h0M498.0 98.8h0M498.7 90.9h0M498.6 96.4h0M497.2 104.3h0M495.7 98.9h0M495.1 90.7h0M498.8 94.0h0M496.7 92.2h0M498.7 99.1h0M498.4 94.9h0M496.9 94.4h0M497.4 102.7h0M451.9 126.7h0M448.7 138.5h0M445.2 113.3h0M453.0 139.1h0M455.2 115.9h0M456.3 122.6h0M451.9 128.7h0M452.4 136.1h0M455.8 118.1h0M455.7 118.1h0M453.2 113.1h0M452.7 117.6h0M456.9 129.3h0M449.6 138.8h0M446.4 131.9h0M452.8 108.5h0M450.5 111.7h0M457.0 111.2h0M452.6 125.4h0M446.5 137.9h0M451.9 127.8h0M448.2 112.9h0M448.9 109.1h0M447.4 123.9h0M449.7 132.3h0M446.7 114.6h0M451.3 130.0h0M448.8 114.6h0M446.5 119.6h0M449.6 133.5h0M447.9 118.9h0M453.9 114.6h0M445.5 139.1h0M456.0 118.1h0M448.4 122.7h0M447.5 133.2h0M455.6 130.8h0M449.8 134.9h0M456.2 113.9h0M453.0 113.5h0M456.8 133.5h0M449.9 131.7h0M448.5 110.0h0M451.2 110.4h0M450.5 135.3h0M451.9 116.5h0M447.5 125.9h0M451.1 136.9h0M447.1 122.9h0M450.4 120.1h0M447.2 120.3h0M451.5 114.2h0M448.8 124.9h0M456.3 123.4h0M449.2 109.1h0M451.2 119.0h0M446.4 123.2h0" stroke="#000" stroke-width="2.6" stroke-linecap="round" fill="none"/>
<path d="M459.0 90.3 460.6 88.2 462.2 88.0 463.8 86.3 465.4 83.2 467.0 80.6 468.6 78.9 470.2 76.5 471.8 78.0 473.4 78.6 475.0 80.5 476.6 83.3 478.2 83.3 479.8 80.5 481.4 76.4 483.0 74.9 484.6 72.0 486.2 68.2 487.8 68.1 489.4 65.8 491.0 65.0 492.6 64.0 494.2 62.7 495.8 63.1 497.0 63.3 497.0 99.6 495.8 98.8 494.2 98.5 492.6 98.0 491.0 99.5 489.4 99.8 487.8 100.1 486.2 98.2 484.6 98.4 483.0 99.8 481.4 98.3 479.8 100.6 478.2 100.8 476.6 99.9 475.0 98.9 473.4 99.8 471.8 100.5 470.2 99.2 468.6 100.2 467.0 100.1 465.4 101.1 463.8 100.7 462.2 100.4 460.6 100.1 459.0 101.2Z" fill="#efe4e4"/>
<path d="M481.9 92.2h0M470.8 79.3h0M480.2 84.0h0M495.8 71.2h0M493.0 74.7h0M466.3 92.9h0M471.2 99.5h0M482.5 77.7h0M470.8 79.3h0M477.8 92.1h0M471.0 92.3h0M475.9 96.4h0M484.8 78.9h0M490.5 64.8h0M467.9 80.7h0M495.2 82.2h0M491.0 98.8h0M462.5 98.6h0M459.8 96.8h0M489.1 78.3h0M492.8 90.6h0M477.9 88.3h0M465.1 86.0h0M479.6 90.6h0M466.1 92.3h0M462.0 91.2h0M484.4 76.4h0M478.9 84.6h0M492.5 70.4h0M494.4 96.1h0M495.7 73.2h0M484.9 73.6h0M495.9 88.0h0M460.4 90.3h0M463.0 91.2h0M494.6 91.3h0M471.4 95.4h0M459.4 95.3h0M473.8 81.3h0M493.9 86.4h0M496.8 86.4h0M482.6 78.2h0M477.1 97.8h0M480.2 92.2h0M476.5 88.6h0M459.4 91.9h0M466.1 85.3h0M461.1 97.1h0M496.8 88.4h0M490.6 71.1h0M491.3 77.0h0M491.5 71.8h0M470.4 88.7h0M467.5 85.9h0M486.6 92.9h0M496.4 86.8h0M472.3 88.3h0M481.3 90.5h0M493.9 83.1h0M495.5 80.2h0M476.0 82.5h0M471.3 88.1h0M459.4 94.2h0M463.4 89.9h0M492.6 96.0h0M463.3 94.3h0M477.5 84.3h0M470.3 88.8h0M475.2 91.7h0M461.5 95.3h0M482.2 80.2h0M480.5 98.1h0M492.9 85.1h0M478.8 95.2h0M476.2 94.5h0M473.2 90.5h0M486.9 86.6h0M481.9 85.1h0M472.3 92.3h0M475.9 89.7h0M473.4 85.3h0M482.8 96.4h0M466.4 94.0h0M479.2 93.0h0M484.2 83.4h0M459.4 93.4h0M478.8 93.1h0M494.2 86.4h0M483.8 82.4h0M489.2 69.6h0M492.6 80.5h0M476.2 94.2h0M479.6 99.4h0M463.6 87.0h0M481.6 81.9h0M467.6 99.7h0M479.1 87.0h0M472.9 83.5h0M468.6 81.7h0M496.1 89.6h0M472.7 80.9h0M496.1 95.1h0M462.6 98.2h0M480.0 99.2h0M475.7 89.5h0M459.3 95.6h0M468.1 97.4h0M467.5 97.6h0M471.7 95.4h0M486.1 97.3h0M480.9 85.9h0M469.0 83.1h0M462.9 90.6h0M471.0 95.7h0M459.3 94.9h0M478.3 86.0h0M485.3 76.8h0M487.2 73.4h0M492.4 74.1h0M462.6 88.9h0M466.8 84.8h0M470.9 99.0h0M473.2 87.3h0M487.6 69.9h0M462.3 98.3h0M471.4 81.3h0M466.0 95.8h0M496.1 77.6h0M486.0 83.5h0M466.7 88.0h0M471.9 83.3h0M489.2 68.3h0M473.7 94.3h0M460.3 99.6h0M482.4 91.1h0M466.3 86.7h0M491.0 98.3h0M459.6 98.1h0M466.6 84.1h0M481.7 78.8h0M491.0 93.6h0M469.9 79.7h0M478.5 95.4h0M460.4 96.7h0M463.7 91.2h0M465.3 85.9h0M479.3 86.8h0M493.6 95.5h0M486.6 84.5h0M483.6 82.2h0M476.8 92.0h0M475.0 89.3h0M491.4 98.8h0M487.0 94.9h0M470.6 78.3h0M467.5 90.4h0M488.1 90.6h0M493.8 90.9h0M470.4 77.6h0M477.3 88.7h0M492.1 95.7h0M479.5 95.3h0M486.6 84.8h0M475.8 98.7h0M489.3 84.6h0M496.5 68.9h0M488.2 84.6h0M471.2 80.1h0M481.1 96.6h0M465.7 98.2h0M496.5 70.5h0M480.0 89.4h0M471.8 80.4h0M469.2 98.4h0M490.9 97.4h0M477.9 91.7h0M461.3 93.1h0M481.1 99.3h0M461.4 95.8h0M460.8 99.6h0M466.7 94.5h0M483.1 79.5h0M476.5 89.7h0M465.8 90.4h0M461.4 96.4h0M495.9 82.6h0M474.2 90.2h0M464.5 96.1h0M485.3 74.0h0M473.4 81.8h0M485.6 71.0h0M492.1 65.3h0M490.7 70.4h0M479.1 94.4h0M494.7 94.5h0M464.8 95.6h0" stroke="#d6c2c2" stroke-width="3.0" stroke-linecap="round" fill="none"/>
<path d="M456.0 101.8 457.6 101.0 459.2 101.9 460.8 103.3 462.4 100.6 464.0 102.6 464.0 125.1 462.4 126.1 460.8 124.9 459.2 124.2 457.6 126.1 456.0 123.8Z" fill="#ee4470"/>
<path d="M463.0 102.6 464.6 101.4 466.2 100.7 467.8 101.0 469.4 103.1 471.0 101.0 472.6 103.3 474.2 100.9 475.8 103.3 477.4 100.7 479.0 102.5 480.6 102.1 482.2 102.3 483.8 103.3 485.4 101.2 487.0 103.5 488.6 102.2 489.0 102.9 489.0 119.3 488.6 121.5 487.0 120.7 485.4 119.9 483.8 119.2 482.2 121.1 480.6 120.2 479.0 121.5 477.4 121.2 475.8 120.7 474.2 120.7 472.6 119.0 471.0 121.0 469.4 120.6 467.8 118.8 466.2 118.7 464.6 118.8 463.0 119.2Z" fill="#f00a40"/>
<path d="M487.0 96.6 488.6 96.6 490.2 96.5 491.8 95.7 493.4 97.1 495.0 95.2 496.6 95.3 497.0 95.9 497.0 107.4 496.6 108.6 495.0 108.8 493.4 108.6 491.8 107.6 490.2 108.2 488.6 107.6 487.0 108.1Z" fill="#f00a40"/>
<path d="M471.9 121.4h0M481.4 129.2h0M479.3 120.2h0M463.0 133.0h0M480.2 127.0h0M484.0 124.0h0M462.8 127.9h0M465.0 125.8h0M479.5 123.3h0M477.4 127.2h0M456.7 129.6h0M482.0 127.0h0M481.5 127.0h0M485.8 119.4h0M468.8 122.3h0M478.7 123.0h0M475.9 128.4h0M456.5 131.8h0M465.9 123.5h0M475.4 128.2h0M462.4 132.4h0M458.3 120.1h0M482.6 130.3h0M484.4 130.5h0M478.2 126.7h0M471.9 127.4h0M484.3 130.2h0M469.1 122.4h0M472.1 125.6h0M480.3 130.9h0M474.6 120.2h0M472.0 121.0h0M472.1 131.8h0M476.2 125.7h0M460.7 137.1h0M482.1 125.0h0M457.6 132.9h0M468.0 125.8h0M467.3 123.7h0M460.2 131.7h0M471.5 125.8h0M478.5 125.8h0M460.9 124.2h0M472.8 129.3h0M475.0 129.9h0M466.7 132.4h0M473.5 122.9h0M459.8 131.4h0M481.4 130.9h0M480.5 129.6h0M473.7 122.7h0M464.9 134.5h0M464.2 127.8h0M472.5 119.3h0M459.3 123.0h0M479.9 129.2h0M458.6 122.3h0" stroke="#c81c44" stroke-width="2.6" stroke-linecap="round" fill="none"/>
<path d="M485.6 122.8h0M480.0 132.5h0M482.2 135.9h0M458.9 136.7h0M477.5 120.0h0M484.3 125.7h0M469.9 131.1h0M472.7 132.1h0M458.0 138.6h0M471.7 121.3h0M471.1 123.4h0M469.0 135.5h0M478.6 122.7h0M464.6 141.3h0M474.9 123.3h0M474.3 124.7h0M458.2 134.1h0M459.4 122.2h0M476.3 141.2h0M458.1 136.2h0M460.3 120.3h0M456.5 119.5h0M477.9 139.9h0M456.4 122.5h0M457.4 128.4h0M465.7 123.4h0M480.5 121.4h0M475.0 122.3h0M475.6 122.0h0M461.9 141.7h0M464.0 129.4h0M475.8 142.0h0M472.5 121.7h0M476.1 134.7h0" stroke="#a02040" stroke-width="2.6" stroke-linecap="round" fill="none"/>
<path d="M492.8 114.5h0M495.2 109.1h0M492.5 117.2h0M496.2 121.2h0M489.4 114.5h0M493.0 114.5h0M487.6 124.9h0M491.5 110.4h0M488.5 108.3h0M496.1 110.4h0M492.6 124.1h0M494.7 118.1h0M489.8 119.5h0" stroke="#f00a40" stroke-width="2.6" stroke-linecap="round" fill="none"/>
<path d="M359.0 208.6 360.6 207.4 362.2 207.5 363.8 207.8 364.0 208.2 364.0 223.8 363.8 223.2 362.2 222.5 360.6 223.5 359.0 222.3Z" fill="#5f8a36"/>
<path d="M363.0 207.1 364.6 206.8 366.2 208.2 367.8 208.2 369.4 207.9 371.0 208.1 372.6 207.3 374.2 207.3 375.8 208.2 377.4 207.8 379.0 208.0 380.6 209.0 382.2 207.9 383.8 208.6 385.4 206.9 387.0 208.0 388.6 206.9 390.2 207.3 391.8 207.3 393.4 207.7 395.0 207.2 396.6 209.0 398.2 207.5 399.8 207.5 401.4 207.0 403.0 207.7 404.6 208.7 406.2 208.1 407.8 208.9 409.4 208.3 411.0 208.3 412.6 207.8 414.2 208.8 415.8 207.9 417.4 207.1 419.0 207.3 420.6 208.7 422.2 206.9 423.8 207.2 425.4 208.3 427.0 208.4 428.6 207.9 430.2 208.4 431.8 207.8 433.4 208.2 435.0 206.9 436.6 207.8 438.2 209.1 439.8 208.2 441.4 207.6 443.0 208.3 443.0 224.1 441.4 222.9 439.8 222.8 438.2 223.8 436.6 223.8 435.0 222.3 433.4 223.4 431.8 222.5 430.2 222.6 428.6 223.7 427.0 222.7 425.4 224.0 423.8 223.0 422.2 223.9 420.6 222.1 419.0 222.8 417.4 221.9 415.8 223.9 414.2 223.9 412.6 223.0 411.0 222.9 409.4 224.1 407.8 222.7 406.2 222.5 404.6 222.1 403.0 224.0 401.4 223.7 399.8 223.1 398.2 223.6 396.6 223.8 395.0 223.4 393.4 222.1 391.8 223.4 390.2 223.9 388.6 222.9 387.0 222.8 385.4 223.3 383.8 222.3 382.2 222.3 380.6 223.4 379.0 224.2 377.4 222.1 375.8 223.4 374.2 223.0 372.6 221.9 371.0 222.2 369.4 222.5 367.8 223.5 366.2 222.1 364.6 222.7 363.0 223.3Z" fill="#1a9c12"/>
<path d="M421.6 222.0h0M427.8 219.6h0M406.9 220.8h0M406.4 220.8h0M393.7 219.7h0M415.0 221.6h0M416.2 221.0h0M436.8 219.8h0M408.1 221.5h0M413.9 219.0h0M403.3 221.5h0M380.2 220.2h0M438.7 220.4h0M405.8 220.8h0M428.7 220.4h0M432.4 221.1h0M395.1 220.8h0M387.5 219.2h0M401.4 219.1h0M387.4 221.5h0M437.8 219.6h0M377.4 220.1h0" stroke="#c8f0c0" stroke-width="2.0" stroke-linecap="round" fill="none"/>
<rect x="440" y="176" width="30" height="26" fill="#a6f0f0"/>
<path d="M443.0 175.8 444.6 174.6 446.2 177.2 447.8 174.6 449.4 176.2 451.0 175.1 452.6 176.6 454.2 174.5 455.8 176.0 457.4 177.4 459.0 174.1 460.6 174.8 462.2 174.3 463.8 177.3 465.4 176.7 467.0 175.0 467.0 189.6 465.4 186.7 463.8 188.0 462.2 188.9 460.6 188.4 459.0 186.3 457.4 186.2 455.8 186.7 454.2 189.8 452.6 189.6 451.0 187.2 449.4 186.2 447.8 188.5 446.2 186.8 444.6 189.6 443.0 189.7Z" fill="#2a9e1a"/>
<path d="M461.8 196.1h0M461.7 196.8h0M452.1 195.4h0M443.3 195.0h0M453.7 198.8h0M461.9 191.9h0M460.0 193.6h0M457.8 186.1h0M448.4 189.3h0M459.9 197.9h0M458.1 195.9h0M458.3 187.9h0M449.1 193.6h0M461.1 191.5h0M459.7 190.3h0M450.6 188.2h0M452.9 193.5h0M445.6 198.1h0M443.2 195.5h0M451.3 198.2h0M449.9 186.3h0M459.6 190.9h0M462.6 194.7h0M453.6 194.6h0M459.4 190.3h0M447.7 194.5h0M456.7 186.6h0M446.9 191.6h0M445.2 192.8h0M452.5 189.8h0M461.0 195.6h0M444.6 193.8h0M466.8 193.9h0M466.6 189.0h0M448.3 190.3h0M448.6 188.1h0M449.1 192.5h0M462.5 196.0h0M444.0 196.0h0M458.3 189.5h0M443.2 197.2h0M446.2 189.3h0M450.3 196.4h0M465.7 197.9h0M463.4 197.0h0M454.3 186.7h0" stroke="#2a9e1a" stroke-width="2.8" stroke-linecap="round" fill="none"/>
<path d="M448.6 179.2h0M445.8 179.1h0M450.7 177.2h0M450.1 195.7h0M448.8 187.7h0M463.4 176.4h0M460.5 188.5h0M443.7 196.5h0M462.1 178.3h0M466.1 189.3h0M458.2 180.9h0M443.7 192.2h0M460.1 180.2h0M443.8 189.2h0M450.4 183.9h0M463.8 189.0h0M445.8 192.1h0M460.3 189.1h0M465.9 186.9h0M458.6 177.3h0M450.2 182.9h0M453.3 187.8h0M445.8 191.9h0M444.3 181.8h0M457.0 176.6h0M450.9 194.6h0M460.6 184.6h0" stroke="#5f8a36" stroke-width="2.8" stroke-linecap="round" fill="none"/>
<path d="M472.0 174.7 473.6 177.0 475.2 177.5 476.8 174.3 478.4 175.7 480.0 176.2 481.6 176.8 483.2 174.8 484.8 177.3 486.4 176.4 488.0 177.2 489.0 177.8 489.0 194.7 488.0 194.7 486.4 193.2 484.8 193.1 483.2 193.5 481.6 195.2 480.0 194.4 478.4 193.1 476.8 195.6 475.2 194.1 473.6 195.9 472.0 194.6Z" fill="#2a9e1a"/>
<path d="M484.5 194.8h0M488.9 195.8h0M483.5 195.2h0M480.9 193.4h0M478.3 195.3h0M484.6 193.3h0M475.4 197.1h0M480.0 199.1h0M472.3 195.5h0M486.1 198.0h0M478.0 196.1h0M478.7 192.0h0M473.4 193.8h0M486.8 193.5h0M476.9 196.5h0M483.9 197.2h0M477.3 194.7h0M472.2 198.4h0M478.4 194.3h0M475.5 195.9h0" stroke="#2a9e1a" stroke-width="2.8" stroke-linecap="round" fill="none"/>
<rect x="444" y="200" width="20" height="26" fill="#c8f4f4"/>
<path d="M447.0 208.5h0M446.1 205.0h0M454.5 208.5h0M446.1 222.7h0M445.2 210.7h0M449.9 201.5h0M449.9 211.5h0M457.8 206.7h0M451.6 223.4h0M456.7 211.6h0M448.2 220.4h0M462.6 206.2h0M461.0 209.7h0M453.6 200.7h0M448.9 206.3h0M448.1 221.5h0M463.0 208.3h0M460.0 207.8h0M455.6 205.1h0M462.2 213.4h0M455.8 220.6h0M454.5 212.7h0M458.2 212.3h0M455.5 207.8h0M447.1 205.8h0M463.4 215.4h0M444.4 204.9h0M455.7 213.3h0M463.8 223.5h0M445.4 221.0h0M463.7 219.4h0M463.1 209.9h0M456.6 217.8h0M459.9 218.6h0M460.4 208.8h0M459.9 215.5h0M463.2 208.4h0M456.4 222.4h0M459.2 218.1h0M446.9 204.0h0M450.4 217.0h0" stroke="#50d8e0" stroke-width="3.0" stroke-linecap="round" fill="none"/>
<path d="M445.8 218.2h0M448.0 207.4h0M451.9 215.6h0M463.0 224.8h0M450.7 205.0h0M466.4 216.6h0M468.0 219.5h0M448.3 211.3h0M450.5 213.4h0M452.1 222.8h0M467.4 207.4h0M470.0 225.1h0M454.6 223.1h0M468.6 219.9h0M454.1 217.5h0M464.2 210.8h0M456.9 205.0h0M448.9 221.3h0M452.7 219.2h0M455.7 219.4h0M452.1 205.0h0M461.7 208.9h0M450.1 213.7h0M457.4 223.5h0M462.4 213.0h0M456.0 216.8h0M448.2 209.9h0M460.1 224.6h0M460.0 207.8h0M469.2 221.3h0M450.6 211.5h0M445.8 220.5h0M450.5 222.0h0M462.9 220.9h0M459.1 208.6h0M445.9 216.7h0M445.3 214.9h0M464.4 206.2h0M455.9 215.4h0M448.8 207.6h0M460.3 207.0h0M448.8 208.1h0M468.4 223.6h0M447.8 216.2h0M455.3 203.7h0M451.3 218.0h0M445.5 225.0h0M452.1 211.0h0M468.7 206.2h0M448.3 213.9h0M452.8 210.3h0M459.6 224.9h0M455.4 204.0h0M454.3 222.6h0M455.8 204.4h0M451.2 208.2h0M453.8 210.3h0M461.8 219.5h0M446.1 206.3h0M465.6 223.1h0M464.7 207.1h0M462.3 204.7h0M461.9 208.1h0M466.0 222.4h0M456.7 219.7h0M468.6 223.5h0M461.2 217.2h0M453.9 218.7h0M448.5 213.5h0M447.1 205.1h0M461.7 212.8h0M450.2 224.8h0M452.3 215.4h0M457.3 207.2h0M469.8 220.4h0M467.3 209.9h0M467.8 223.9h0M468.5 207.1h0M448.9 204.9h0M447.2 219.1h0M446.3 213.7h0M453.9 219.8h0M446.2 219.6h0M469.0 209.8h0M455.1 220.0h0M452.6 222.5h0M469.9 208.1h0M456.8 206.4h0M458.9 212.0h0M469.3 219.7h0M469.8 221.6h0M465.6 211.8h0M461.6 205.6h0M453.7 224.2h0M469.5 207.0h0M457.4 212.3h0M460.5 216.7h0M451.5 223.2h0M456.3 220.8h0M463.1 225.5h0M457.9 216.5h0M464.3 208.3h0M446.1 221.7h0M462.4 220.2h0M465.0 207.6h0M466.9 217.7h0M468.6 215.8h0M466.6 204.3h0M449.1 215.7h0M461.7 211.9h0M446.8 223.4h0M446.8 223.4h0M450.8 219.2h0M459.8 208.4h0M453.2 208.5h0M474.1 211.3h0M474.2 211.5h0M467.0 223.9h0M469.4 231.5h0M471.9 210.9h0M477.2 230.0h0M471.3 225.0h0M470.6 232.8h0M470.1 204.1h0M465.1 219.3h0M475.6 211.6h0M472.0 215.3h0M471.2 208.7h0M474.3 223.0h0M465.5 229.4h0M469.4 217.3h0M468.7 223.2h0M471.9 220.4h0M471.9 218.2h0M466.5 232.4h0M472.2 212.9h0M479.4 211.8h0M478.4 215.7h0M467.0 220.2h0M469.8 209.0h0M481.8 231.1h0M473.0 227.2h0M476.4 212.1h0M467.2 220.4h0M468.2 225.6h0M475.1 209.6h0M478.2 232.0h0M473.2 232.1h0M472.6 203.5h0M472.9 213.6h0M480.6 218.7h0M481.3 207.9h0M471.5 203.4h0M465.9 224.3h0M465.6 209.7h0M472.4 230.6h0M469.0 203.1h0M476.9 223.9h0M467.4 230.8h0M479.7 231.1h0M479.0 219.4h0M476.9 206.7h0M475.9 213.6h0M470.7 212.4h0M466.4 227.3h0M478.0 203.3h0M473.7 203.7h0M474.3 208.0h0M481.3 212.6h0M473.9 210.9h0M480.4 203.2h0M470.1 209.8h0M477.7 214.2h0M479.6 212.8h0M467.1 216.7h0M466.5 207.6h0M473.9 220.2h0M468.6 208.4h0M473.9 216.4h0M473.2 223.1h0M467.4 203.4h0M466.1 226.8h0M476.9 207.6h0M470.6 212.2h0M480.7 215.4h0M477.1 205.6h0M465.7 209.8h0M475.9 216.4h0M479.8 227.7h0M476.3 232.9h0M481.3 229.5h0M466.5 215.0h0M467.5 221.4h0M473.6 205.8h0M466.4 216.9h0M475.6 215.2h0M473.0 222.0h0M476.9 224.2h0M472.1 208.2h0M479.8 204.2h0M468.5 208.7h0M475.1 221.7h0M466.7 218.4h0M474.8 223.6h0M466.3 224.8h0M469.6 214.5h0M467.1 228.3h0M475.5 227.4h0M473.8 206.3h0M471.8 205.4h0M466.7 227.2h0M465.0 214.7h0M465.7 225.9h0M481.8 204.0h0M471.2 232.3h0M469.3 212.3h0M481.8 230.6h0M471.6 223.1h0M478.5 213.6h0M465.0 214.2h0M476.8 231.9h0M472.5 215.3h0M471.5 221.2h0M465.4 230.4h0M481.2 203.9h0M465.1 212.4h0M467.5 226.1h0M479.8 219.4h0M481.0 209.8h0M468.3 214.5h0M472.7 208.9h0M480.7 225.5h0M469.9 209.8h0M469.8 214.9h0M476.1 226.3h0M481.1 205.4h0M468.3 214.4h0M481.2 216.7h0M477.2 227.9h0M472.8 214.3h0M478.2 222.2h0M481.9 211.1h0M481.2 217.6h0M479.8 222.2h0M474.6 228.7h0M466.4 211.4h0M473.3 227.6h0M468.2 226.4h0M466.5 213.5h0M472.9 224.5h0M473.9 228.5h0M476.8 214.5h0M473.9 214.7h0M479.8 212.1h0M468.1 210.3h0M469.3 227.3h0M476.7 210.4h0M472.1 229.8h0M481.3 209.7h0M481.0 204.7h0M482.0 212.6h0M481.2 203.9h0M476.7 230.7h0M478.9 220.2h0M467.6 210.1h0M481.0 229.0h0M468.8 213.3h0M475.4 212.1h0M468.6 229.1h0M466.9 222.0h0M471.9 217.1h0M479.8 225.4h0M478.2 203.5h0M478.8 226.8h0M465.0 209.8h0M477.4 229.1h0M474.2 229.7h0M466.5 210.8h0M478.9 226.8h0M468.8 220.1h0M472.5 225.2h0M471.8 212.6h0M478.0 223.9h0M471.1 224.4h0M469.5 218.0h0M468.2 213.3h0M472.1 205.7h0M470.3 213.5h0M470.6 218.2h0M480.3 228.5h0M470.0 207.0h0M466.5 229.6h0M477.9 225.2h0M480.4 215.0h0M467.9 205.7h0M471.8 226.0h0M466.4 216.1h0M466.4 209.4h0M474.4 222.5h0M481.0 212.6h0M468.9 204.8h0M468.2 204.0h0M465.0 206.5h0M474.1 216.7h0M480.4 217.6h0M466.5 207.4h0M476.9 232.4h0M477.7 210.0h0M470.9 216.1h0M472.4 211.5h0M467.6 203.8h0M480.0 232.3h0M481.6 214.4h0M476.7 209.2h0M466.9 203.1h0M470.7 226.9h0M474.0 210.0h0M473.2 219.2h0M468.3 216.4h0M486.3 186.4h0M489.5 227.4h0M492.8 210.1h0M496.7 200.2h0M486.8 198.3h0M491.0 208.3h0M483.9 209.6h0M496.5 228.9h0M491.4 228.1h0M489.3 209.8h0M492.4 195.1h0M490.9 210.1h0M486.5 209.9h0M484.7 217.1h0M483.7 207.3h0M482.8 212.0h0M483.5 226.2h0M482.3 225.3h0M486.5 232.7h0M486.9 192.2h0M492.0 197.2h0M494.2 208.9h0M486.0 214.6h0M485.3 198.2h0M483.2 196.9h0M485.3 193.0h0M488.2 207.5h0M490.9 212.6h0M492.2 215.7h0M489.1 227.7h0M484.1 198.7h0M482.2 230.5h0M495.2 205.4h0M494.6 213.1h0M496.0 230.1h0M487.0 198.9h0M488.2 232.8h0M489.0 203.1h0M482.4 204.2h0M495.9 206.0h0M493.9 229.8h0M496.1 221.6h0M489.5 200.0h0M496.1 225.3h0M493.1 187.8h0M491.7 219.5h0M484.0 201.3h0M488.8 197.7h0M483.6 192.6h0M488.9 185.7h0M493.9 205.9h0M486.2 197.6h0M486.7 214.9h0M492.7 206.5h0M492.7 213.6h0M494.2 221.4h0M493.5 186.2h0M487.3 190.8h0M494.5 193.2h0M495.9 202.1h0M389.1 236.6h0M391.1 230.5h0M406.3 235.4h0M411.1 235.9h0M427.6 241.4h0M417.3 231.7h0M409.8 230.3h0M430.0 233.8h0M421.8 238.7h0M421.8 240.0h0M407.2 236.5h0M433.1 232.8h0M429.3 229.0h0M389.6 239.3h0M413.1 241.3h0M415.9 228.6h0M387.3 240.2h0M395.2 227.0h0M411.7 236.9h0M414.4 224.9h0M426.9 236.2h0M399.5 240.6h0M409.7 237.8h0M385.5 229.5h0M425.4 236.3h0M422.1 236.5h0M381.7 239.4h0M382.5 228.4h0M398.2 233.0h0M385.7 231.7h0M388.4 230.0h0M400.7 226.0h0M428.2 224.6h0M392.1 240.1h0M404.3 241.0h0M398.4 233.3h0M411.6 231.3h0M439.4 231.2h0M427.8 233.1h0M401.0 239.2h0M435.4 224.3h0M415.9 237.6h0M410.4 231.3h0M423.1 226.8h0M408.5 227.6h0M431.9 238.1h0M403.8 238.1h0M412.5 235.8h0M394.3 237.9h0M418.9 241.9h0M395.7 231.2h0M426.8 228.7h0M425.9 239.3h0M390.0 237.1h0M397.4 228.9h0M401.1 238.0h0M418.3 230.9h0M421.0 238.6h0M391.8 239.6h0M411.3 235.4h0M431.6 227.8h0M408.1 236.8h0M381.0 231.0h0M412.5 232.1h0M410.3 239.1h0M386.8 237.0h0M396.9 225.5h0M407.7 226.3h0M407.5 227.0h0M406.7 226.5h0M439.8 227.8h0M406.6 234.9h0M420.4 226.3h0M430.9 230.7h0M385.0 231.7h0M417.3 230.5h0M423.7 229.6h0M429.0 240.8h0M429.0 225.1h0M405.2 233.6h0M403.0 227.3h0M415.3 226.1h0M390.0 231.5h0M439.8 230.9h0M437.9 236.1h0M418.8 240.4h0" stroke="#1a1ae0" stroke-width="2.6" stroke-linecap="round" fill="none"/>
<path d="M473.4 204.5h0M473.9 209.7h0M466.2 213.5h0M471.2 204.4h0M466.7 208.5h0M466.7 204.8h0M466.4 203.9h0M473.7 207.4h0M469.6 207.7h0M470.9 207.4h0M467.6 200.0h0M470.5 213.7h0M472.8 205.3h0M467.7 207.2h0M465.4 205.4h0M472.1 214.4h0M465.8 199.8h0M469.3 207.6h0M473.7 198.0h0M466.2 205.2h0M472.1 196.5h0M468.4 209.5h0M468.8 199.4h0M465.6 210.5h0M469.6 206.2h0M471.2 210.5h0M468.6 202.9h0M473.3 197.4h0M472.0 204.8h0M469.8 200.8h0M473.5 201.8h0M467.9 197.1h0M473.0 211.8h0M465.5 198.8h0" stroke="#4a8a2a" stroke-width="2.6" stroke-linecap="round" fill="none"/>
<path d="M420.0 200.2 421.6 200.7 423.2 199.9 424.8 200.9 426.4 201.1 428.0 198.5 429.6 201.3 431.2 198.6 432.8 200.4 434.4 198.7 436.0 200.8 437.6 199.8 439.2 198.9 440.0 201.0 440.0 206.2 439.2 208.2 437.6 206.7 436.0 207.2 434.4 206.8 432.8 207.8 431.2 206.6 429.6 207.0 428.0 206.2 426.4 206.5 424.8 205.8 423.2 206.3 421.6 206.3 420.0 207.6Z" fill="#1a1ae0"/>
<path d="M464.0 231.1 465.6 231.2 467.2 233.1 468.8 232.3 470.4 231.0 472.0 232.9 473.6 232.6 475.2 232.3 476.8 233.1 478.4 232.1 480.0 231.1 481.6 230.8 483.2 231.0 484.8 231.9 486.4 232.1 488.0 232.8 489.6 231.0 491.2 231.0 492.8 231.0 494.4 231.7 495.0 233.0 495.0 246.7 494.4 244.9 492.8 246.2 491.2 245.2 489.6 245.3 488.0 245.6 486.4 245.4 484.8 245.5 483.2 245.3 481.6 245.6 480.0 246.2 478.4 246.2 476.8 246.5 475.2 245.5 473.6 244.9 472.0 246.2 470.4 245.6 468.8 245.3 467.2 245.8 465.6 247.1 464.0 246.2Z" fill="#80e8ec"/>
<path d="M475.7 232.6h0M474.3 241.8h0M476.9 242.6h0M470.4 245.8h0M470.1 242.8h0M473.8 245.0h0M477.6 242.5h0M470.7 241.1h0M470.9 237.9h0M471.0 236.2h0M470.4 239.6h0M470.7 235.4h0M476.2 236.1h0M474.6 244.1h0M475.1 243.5h0M477.5 235.4h0M471.5 245.9h0M477.3 236.5h0M477.4 233.2h0M471.8 244.1h0M470.8 244.1h0M471.8 242.8h0M471.0 239.0h0M474.6 239.8h0M476.9 232.5h0M475.7 243.9h0M474.2 235.3h0M476.4 238.0h0M472.1 242.8h0M476.1 243.5h0M474.0 232.2h0M470.2 239.7h0M470.3 240.7h0M471.1 242.9h0M470.2 241.7h0M471.8 246.0h0M473.8 239.2h0M476.8 236.0h0M477.8 236.1h0M470.3 235.9h0M472.9 240.4h0M470.5 244.7h0M476.2 242.4h0M477.9 232.7h0" stroke="#1a1ae0" stroke-width="2.6" stroke-linecap="round" fill="none"/>
<path d="M464.0 247.6 465.6 248.1 467.2 246.0 468.8 246.7 470.4 246.1 472.0 248.3 473.6 246.9 475.2 248.0 476.8 246.3 478.4 247.3 480.0 247.7 481.6 246.5 483.2 246.3 484.8 245.8 486.4 247.4 488.0 246.7 489.6 246.1 491.2 246.5 492.8 246.5 494.4 245.9 495.0 247.3 495.0 256.0 494.4 256.1 492.8 256.6 491.2 258.5 489.6 257.6 488.0 256.1 486.4 258.0 484.8 258.3 483.2 256.5 481.6 257.9 480.0 257.4 478.4 257.2 476.8 258.2 475.2 257.5 473.6 257.4 472.0 258.3 470.4 256.9 468.8 255.8 467.2 255.5 465.6 257.7 464.0 256.9Z" fill="#c828d8"/>
<path d="M490.7 256.0h0M491.1 257.9h0M490.6 259.5h0M490.8 261.2h0M490.7 263.6h0M491.4 266.5h0M491.1 269.7h0M491.4 272.7h0M490.8 275.7h0M491.4 278.4h0M490.9 280.4h0M491.2 282.0h0M491.0 283.8h0M466.5 256.0h0M467.0 259.4h0M466.7 262.1h0M467.1 265.0h0M466.8 266.9h0M466.3 269.0h0M467.1 270.9h0M476.5 256.0h0M474.9 256.0h0M475.0 258.5h0M474.7 260.4h0M474.4 262.8h0M475.0 265.0h0M474.6 267.7h0M475.0 269.4h0M474.3 271.2h0M486.2 256.0h0M486.8 259.1h0M485.8 261.8h0M486.3 263.9h0M486.5 266.3h0M486.1 268.2h0M486.3 269.8h0M486.1 271.6h0M486.8 273.2h0M486.4 275.2h0M485.9 277.9h0M488.8 256.0h0M481.0 256.0h0M480.9 258.9h0M486.9 256.0h0M486.6 257.8h0M487.1 260.0h0M486.7 261.6h0M487.0 263.4h0M487.4 265.4h0M486.8 267.0h0M490.2 256.0h0M489.8 259.3h0M468.6 256.0h0M468.8 258.8h0M469.3 260.7h0M468.6 263.0h0M469.5 264.9h0M487.4 256.0h0M488.1 258.2h0M487.5 260.2h0M473.3 256.0h0M473.1 259.5h0M473.6 261.1h0M473.8 264.0h0M468.4 256.0h0M468.2 257.8h0M468.6 259.4h0M464.2 256.0h0M473.5 256.0h0M474.6 258.4h0M473.6 260.0h0M473.9 262.5h0M474.4 264.2h0M474.1 267.3h0M480.9 256.0h0M481.2 258.2h0M480.5 260.7h0M487.7 256.0h0M488.1 258.6h0M488.4 260.5h0M476.7 256.0h0M476.0 257.9h0M475.8 260.4h0M466.9 256.0h0M482.7 256.0h0M482.0 258.5h0M486.0 256.0h0M485.5 257.6h0M485.4 259.9h0M485.4 263.0h0M485.8 265.6h0M485.6 268.9h0M465.9 256.0h0M466.4 259.1h0M482.0 256.0h0M481.4 258.3h0M481.4 260.9h0M482.0 264.3h0M482.1 267.7h0M482.1 269.4h0M481.3 271.7h0M476.3 256.0h0M466.1 256.0h0M465.6 259.1h0M467.8 256.0h0M467.7 258.0h0M467.3 261.3h0M467.8 263.3h0M467.3 266.1h0M467.3 267.6h0M469.3 256.0h0M468.5 258.2h0M469.2 261.1h0M492.0 256.0h0M492.5 258.4h0M471.1 256.0h0M470.3 259.0h0M494.9 256.0h0M494.7 258.9h0" stroke="#9a3ae0" stroke-width="2.6" stroke-linecap="round" fill="none"/>
<path d="M440.0 224.5 441.6 227.1 443.2 225.5 444.8 227.0 446.4 227.1 448.0 227.1 449.6 226.7 451.2 226.7 452.8 227.0 454.4 227.3 456.0 227.3 457.6 227.1 459.2 225.5 460.8 227.3 462.4 224.8 464.0 225.1 464.0 245.1 462.4 244.1 460.8 245.4 459.2 243.5 457.6 242.7 456.0 242.9 454.4 245.1 452.8 244.9 451.2 243.8 449.6 244.5 448.0 242.6 446.4 245.3 444.8 243.3 443.2 243.1 441.6 244.0 440.0 243.9Z" fill="#8a30e0"/>
<path d="M451.7 238.9h0M444.4 240.3h0M447.8 233.2h0M461.5 239.3h0M457.5 240.3h0M450.2 232.2h0M452.5 241.3h0M444.2 238.6h0M451.4 243.0h0M457.0 242.6h0M449.9 234.3h0M446.0 229.7h0M447.5 229.8h0M455.0 236.2h0M457.7 239.5h0M463.3 235.5h0M454.8 235.5h0M451.5 232.1h0M447.4 232.0h0M452.2 234.0h0M453.1 238.0h0M463.7 236.5h0M463.8 231.7h0M454.6 236.5h0M450.8 234.3h0M445.7 243.7h0M441.8 240.5h0M451.5 232.2h0M447.4 243.0h0M448.0 236.4h0M450.0 237.9h0M453.4 235.6h0M442.5 226.5h0M455.6 226.0h0M452.4 231.0h0M457.8 231.8h0M441.2 228.9h0M447.9 237.6h0M456.9 241.0h0M462.9 236.0h0M441.1 238.0h0M448.5 236.9h0M444.2 233.2h0M445.9 238.2h0M462.7 232.6h0M452.1 237.5h0M458.3 232.4h0M446.4 237.8h0M447.4 234.9h0M455.1 236.0h0M463.4 232.3h0" stroke="#1a1ae0" stroke-width="2.6" stroke-linecap="round" fill="none"/>
<path d="M467.0 196.0h0M468.0 200.0h0M469.0 205.0h0M470.0 210.0h0M489.0 212.0h0M490.0 216.0h0M491.0 220.0h0M441.0 210.0h0M442.0 215.0h0M443.0 220.0h0" stroke="#2a9e1a" stroke-width="2.6" stroke-linecap="round" fill="none"/>
<path d="M437.5 263.3h0M461.4 283.5h0M432.1 252.8h0M438.3 280.1h0M454.2 252.4h0M457.7 283.9h0M458.5 260.7h0M458.7 256.7h0M462.6 251.3h0M443.8 258.7h0M458.7 279.4h0M448.6 269.2h0M440.2 271.4h0M431.6 277.5h0M463.4 265.6h0M446.2 271.3h0M443.3 286.8h0M437.5 266.9h0M454.2 278.6h0M440.7 250.5h0M454.1 250.7h0M458.9 245.9h0M460.8 281.7h0M447.7 285.1h0M457.3 275.3h0M439.1 249.0h0M434.1 249.3h0M453.6 276.6h0M463.1 262.2h0M442.7 283.7h0" stroke="#8a3a80" stroke-width="2.4" stroke-linecap="round" fill="none"/>
<path d="M487.0 270.0h0M488.0 277.0h0M487.5 284.0h0M488.0 292.0h0M488.5 300.0h0M488.0 316.0h0M489.0 330.0h0M490.0 335.0h0" stroke="#9ad0e8" stroke-width="2.6" stroke-linecap="round" fill="none"/>
<path d="M458.5 333.3h0M445.2 331.2h0M452.0 317.8h0M448.5 296.0h0M457.8 311.2h0M456.8 257.5h0M460.6 254.7h0M458.9 298.0h0M455.6 268.9h0M458.4 314.6h0M449.2 329.0h0M452.1 323.1h0M449.0 281.8h0M448.6 252.9h0M447.4 263.0h0M453.8 291.0h0M446.8 327.9h0M455.8 294.0h0M449.7 285.5h0M460.5 286.0h0M453.5 328.4h0M451.8 322.5h0M446.2 310.2h0M447.1 273.2h0M446.5 324.9h0M460.2 317.4h0M453.5 259.5h0M453.8 326.4h0" stroke="#8a2838" stroke-width="2.6" stroke-linecap="round" fill="none"/>
<path d="M432.5 250.2h0M444.4 340.1h0M426.5 252.1h0M432.1 309.3h0M400.2 292.2h0M400.8 255.9h0M430.5 322.7h0M414.6 264.9h0M412.3 271.7h0M425.0 276.0h0M441.1 251.5h0M410.3 309.3h0M420.1 257.9h0M417.4 276.7h0M435.9 272.8h0M428.8 314.1h0M418.8 254.3h0M424.1 260.3h0M410.8 337.9h0M407.9 341.0h0M407.2 253.0h0M401.4 329.7h0M440.3 275.9h0M415.5 282.4h0M428.5 278.9h0" stroke="#6a3ab0" stroke-width="2.4" stroke-linecap="round" fill="none"/>
<path d="M421.1 312.0h0M412.4 262.8h0M429.4 311.9h0M400.2 291.1h0M438.1 306.4h0M430.4 342.7h0M409.1 287.5h0M406.7 335.3h0M426.4 333.0h0M429.6 282.3h0" stroke="#5a8a3a" stroke-width="2.4" stroke-linecap="round" fill="none"/>
<path d="M420.0 214.2h0M366.1 244.4h0M437.4 212.7h0M431.6 235.3h0M398.4 204.5h0M371.8 204.4h0M399.1 270.7h0M334.5 225.6h0M397.5 236.8h0M490.7 283.1h0M413.6 219.3h0M248.4 250.9h0M292.7 254.8h0M404.9 288.6h0M249.6 229.6h0M323.1 218.8h0M301.5 280.5h0M353.3 235.9h0M264.8 236.5h0M399.9 206.0h0M322.7 213.9h0M378.8 203.7h0M491.5 222.2h0M476.6 201.6h0M430.7 303.4h0M349.3 221.1h0M397.1 216.4h0M298.5 310.3h0M402.6 231.1h0M354.4 271.4h0M427.8 214.9h0M315.9 223.7h0M248.5 224.5h0M264.1 249.3h0M321.2 217.7h0M291.1 213.0h0M294.1 297.7h0M353.2 235.6h0M317.6 338.0h0M390.8 208.4h0M412.3 200.0h0M494.7 260.7h0M290.0 225.2h0M472.3 266.9h0M439.8 239.0h0M285.6 247.4h0M385.6 207.4h0M248.9 233.6h0M474.3 217.9h0M401.1 205.0h0M464.1 298.3h0M312.8 257.1h0M427.8 225.4h0M464.7 202.2h0M309.4 205.6h0M450.6 260.3h0M294.0 248.5h0M368.0 237.7h0M343.1 237.6h0M380.7 217.3h0M330.1 208.0h0M399.3 277.3h0M293.9 240.0h0M336.2 209.0h0M250.4 201.7h0M428.9 206.5h0M307.8 232.1h0M285.8 239.1h0M358.2 211.4h0M411.8 245.9h0" stroke="#6a40c0" stroke-width="2.4" stroke-linecap="round" fill="none"/>
<path d="M488.0 196.5h0M459.5 230.6h0M426.2 174.2h0M383.2 205.6h0M340.5 178.3h0M467.3 179.1h0M424.3 188.3h0M418.8 201.8h0M376.4 208.6h0M378.3 345.6h0M408.0 180.1h0M454.0 182.8h0M454.3 261.5h0M483.4 215.9h0M454.8 266.1h0M465.8 227.8h0M478.8 254.0h0M395.3 199.6h0M469.9 329.1h0M394.5 326.0h0M462.4 243.4h0M388.2 191.3h0M380.3 241.5h0M408.5 187.1h0M356.9 271.6h0M364.1 183.2h0M419.6 175.4h0M399.0 185.6h0M473.0 220.5h0M413.5 209.9h0M336.0 283.4h0M487.0 172.5h0M425.1 264.6h0M471.1 361.7h0M480.4 301.9h0M493.5 234.0h0M476.1 190.1h0M403.4 178.9h0" stroke="#7a50c8" stroke-width="2.4" stroke-linecap="round" fill="none"/>
<path d="M423.5 258.5h0M327.5 247.1h0M355.8 250.2h0M370.3 265.4h0M349.7 267.0h0M351.8 260.7h0M369.5 295.5h0M470.1 266.4h0M436.6 250.8h0M290.1 251.3h0M284.2 283.5h0M475.4 270.8h0M303.8 244.2h0M439.7 265.6h0M435.3 338.6h0M491.9 286.0h0M478.6 326.1h0M289.3 252.8h0M382.1 270.5h0M287.2 249.5h0M440.0 342.0h0M367.0 320.9h0M465.3 309.3h0M296.5 254.6h0M413.2 290.2h0M454.6 243.8h0M416.6 240.8h0M326.4 241.6h0M375.7 244.0h0M412.2 255.7h0M449.2 251.7h0M493.7 243.8h0M270.1 260.8h0M373.6 295.9h0M256.5 246.0h0M310.4 257.1h0M452.0 272.7h0M308.3 254.7h0M438.7 264.4h0M276.6 253.4h0M256.0 258.2h0M306.9 250.8h0M333.5 300.1h0M270.5 242.8h0M282.4 256.8h0M357.0 320.1h0M428.8 249.4h0M282.3 263.8h0M454.8 247.6h0M438.2 253.6h0M485.5 333.4h0M292.9 289.2h0M395.3 254.7h0M377.4 310.8h0M368.4 264.9h0M371.7 240.8h0M436.7 243.3h0M471.4 240.2h0M389.6 248.8h0M418.5 269.5h0M433.7 291.4h0M493.0 243.7h0M306.5 259.9h0M478.3 255.1h0M301.0 262.3h0M327.6 242.5h0M448.6 258.2h0M457.3 243.3h0M333.1 243.7h0M458.0 257.8h0M399.0 241.6h0M358.3 254.7h0M423.3 248.1h0M492.2 252.0h0M376.4 259.1h0M334.4 241.8h0M259.6 313.6h0M491.0 268.6h0M282.8 246.5h0M328.7 241.0h0M334.1 249.9h0M330.3 294.6h0M325.5 242.2h0M437.6 279.1h0M451.0 254.0h0M450.4 243.1h0M427.5 275.4h0M389.2 268.6h0" stroke="#7a3ac0" stroke-width="2.4" stroke-linecap="round" fill="none"/>
<path d="M287.1 257.7h0M288.0 268.2h0M317.7 253.5h0M294.6 255.8h0M263.7 276.1h0M250.5 301.0h0M254.0 247.2h0M309.6 257.9h0M273.9 260.8h0M324.5 271.1h0M278.9 325.0h0M269.5 244.8h0M308.7 287.5h0M313.7 256.2h0M304.5 248.6h0M271.4 321.8h0M318.1 323.4h0M294.2 276.7h0M279.0 256.2h0M324.2 280.3h0M325.2 246.6h0M283.0 311.9h0M324.2 289.9h0M320.9 250.6h0M307.1 245.1h0M286.7 242.3h0M284.6 248.1h0M282.7 273.1h0M304.1 301.9h0M324.7 252.2h0M276.7 257.2h0M270.3 293.9h0M313.4 272.5h0M301.9 251.7h0M272.2 282.0h0M261.6 248.5h0M310.8 309.9h0M262.5 320.5h0M290.8 245.7h0M293.7 249.4h0M301.8 269.7h0M316.8 312.8h0M319.0 273.4h0M308.4 298.8h0M317.0 261.2h0M325.3 333.1h0M265.8 248.7h0M299.1 264.1h0M283.8 261.3h0M266.6 257.1h0M297.5 281.1h0M306.5 245.0h0M266.8 260.5h0M311.8 251.0h0M309.1 249.3h0M274.3 295.2h0M265.7 293.5h0M294.1 242.7h0M287.6 263.8h0M260.0 255.1h0M288.8 260.0h0M323.7 255.7h0M321.7 251.7h0M309.6 246.7h0M296.7 280.5h0M316.2 243.5h0M309.5 246.7h0M327.3 252.2h0M318.3 247.0h0M441.9 258.7h0M376.8 334.9h0M425.2 281.9h0M394.4 235.8h0M412.1 308.9h0M420.7 279.9h0M363.3 251.9h0M382.7 258.4h0M414.8 265.2h0M358.2 240.5h0M382.2 248.6h0M382.2 233.6h0M376.9 254.4h0M433.0 235.0h0M439.7 273.0h0M434.2 321.4h0M422.0 335.2h0M374.5 268.9h0M388.7 232.2h0M381.4 270.8h0M369.3 228.9h0M429.9 300.0h0M360.6 234.0h0M358.3 258.2h0M441.7 231.4h0M407.1 250.1h0M419.9 264.0h0M420.3 229.1h0M441.1 293.2h0M367.2 224.5h0M427.0 291.3h0M390.3 342.8h0M411.7 256.3h0M361.5 253.8h0M390.2 249.8h0M387.3 309.1h0M389.4 228.6h0M379.4 305.4h0M402.0 243.4h0M209.5 263.0h0M209.5 266.0h0M265.0 275.0h0M265.0 278.0h0M279.5 276.5h0M282.0 283.0h0M283.5 284.0h0M285.0 284.5h0M290.0 274.0h0M292.0 282.0h0M301.5 286.0h0M303.5 294.0h0M304.0 300.0h0M304.0 303.0h0M289.0 297.0h0M284.0 288.0h0M283.0 300.0h0M305.0 317.0h0M305.0 322.0h0M304.0 325.0h0M303.0 329.0h0M316.0 327.0h0M315.0 330.0h0M316.0 321.0h0M254.0 296.5h0" stroke="#4a9a30" stroke-width="2.4" stroke-linecap="round" fill="none"/>
<path d="M428.4 241.2h0M417.3 240.2h0M481.3 279.5h0M417.3 272.6h0M400.1 257.5h0M455.1 256.5h0M441.4 257.4h0M427.5 265.8h0M425.9 248.3h0M428.3 289.1h0M397.9 258.4h0M406.9 328.0h0M381.0 251.0h0M491.8 279.5h0M407.3 282.5h0M438.2 239.5h0M392.1 237.6h0M413.1 254.5h0M492.6 313.0h0M443.8 274.5h0M452.0 294.6h0M423.0 272.6h0M405.2 245.0h0M410.9 254.1h0M414.4 267.9h0M384.7 249.3h0M450.2 291.4h0M471.4 255.7h0M452.4 236.9h0M487.2 274.4h0M471.9 239.9h0M428.0 248.4h0M477.7 286.0h0M398.4 357.5h0M403.8 241.0h0M445.0 256.2h0M490.7 237.7h0M485.2 279.8h0M416.8 241.8h0M461.9 237.1h0M413.9 239.0h0M478.1 264.0h0M454.8 271.0h0M471.1 298.2h0M491.8 337.6h0M419.8 340.4h0M409.1 240.2h0M455.5 237.7h0M481.6 370.3h0M473.0 246.4h0M441.4 237.9h0M431.8 296.6h0M402.7 242.0h0M421.2 251.2h0M418.7 249.7h0M388.2 272.0h0M437.0 269.1h0M417.7 317.8h0" stroke="#2a2ad0" stroke-width="2.4" stroke-linecap="round" fill="none"/>
<path d="M427.6 236.5h0M378.3 286.1h0M384.9 224.3h0M401.5 202.6h0M392.5 203.9h0M445.8 270.4h0M345.3 210.7h0M413.8 235.3h0M381.1 223.6h0M358.4 223.7h0M336.4 203.1h0M359.7 201.2h0M360.1 210.0h0M374.7 240.4h0M454.9 254.9h0M433.3 236.9h0M426.0 244.9h0M331.1 220.5h0M346.5 252.1h0M375.8 225.6h0M349.5 357.1h0M365.0 206.8h0M376.8 217.2h0M353.8 253.6h0M384.3 200.5h0M449.5 205.8h0M398.9 265.4h0M330.7 210.1h0M429.9 253.4h0M345.1 214.0h0M339.6 270.6h0M410.8 219.4h0M401.3 231.2h0M363.0 234.5h0M331.0 257.0h0M450.6 208.1h0M384.9 240.5h0M416.2 266.7h0M371.5 262.8h0M375.3 267.9h0M394.0 238.3h0M442.6 208.8h0M392.8 219.1h0M337.7 267.9h0M354.8 208.1h0M347.1 267.9h0M418.8 217.9h0M391.5 219.9h0M392.1 201.8h0M366.2 342.7h0M370.3 254.3h0M408.1 228.2h0M408.2 253.5h0M402.5 269.4h0M367.8 211.7h0M388.0 269.8h0M392.7 200.2h0M388.4 301.4h0M351.1 238.2h0M365.9 235.1h0M426.2 217.9h0M351.7 226.7h0M453.9 201.2h0M368.3 211.1h0M389.6 269.4h0M400.7 239.9h0M358.2 234.2h0M424.4 218.2h0M332.4 357.4h0M393.7 351.8h0M407.0 218.8h0M352.4 321.9h0M426.1 238.5h0M332.3 216.1h0M383.2 204.3h0M389.5 228.6h0M355.7 233.5h0M449.9 293.0h0M433.5 216.3h0M359.3 229.3h0M447.6 210.7h0M339.4 285.6h0M331.5 232.2h0M453.9 238.3h0M331.1 216.3h0M424.5 251.1h0M340.8 227.9h0M390.6 208.1h0M346.4 216.8h0M380.3 337.8h0M371.2 300.4h0M332.6 228.3h0M348.9 202.8h0M366.6 253.5h0M406.5 215.3h0M421.7 254.8h0M439.0 252.7h0M341.3 268.6h0M450.3 294.5h0M412.8 206.1h0M439.2 230.6h0M421.8 317.0h0M356.8 201.1h0M448.0 299.6h0M340.8 227.5h0M438.1 242.9h0M333.7 220.9h0M349.7 347.3h0" stroke="#9a2c48" stroke-width="2.4" stroke-linecap="round" fill="none"/>
<path d="M310.9 266.2h0M352.7 296.4h0M295.9 304.2h0M256.7 278.4h0M371.0 265.7h0M328.3 286.7h0M352.1 266.4h0M281.5 263.7h0M299.4 289.7h0M268.7 291.8h0M264.0 270.9h0M322.3 285.4h0M363.4 268.2h0M282.5 281.9h0M342.0 283.8h0M264.3 289.9h0M337.3 274.6h0M274.2 280.0h0M235.2 280.8h0M286.5 282.1h0M311.4 268.2h0M271.6 271.8h0M244.9 266.2h0M318.8 265.0h0M360.1 272.5h0M272.2 264.7h0M265.6 269.1h0M245.0 267.2h0M366.7 300.7h0M359.1 303.6h0M328.2 309.2h0M319.1 269.4h0M249.8 276.8h0M366.8 301.0h0M368.1 270.2h0M331.2 289.1h0M352.8 273.4h0M353.5 268.1h0M346.4 270.0h0" stroke="#d0bcbc" stroke-width="2.6" stroke-linecap="round" fill="none"/>
<path d="M208.0 278.0h0M208.5 288.0h0M208.5 296.0h0M208.5 299.0h0M208.5 305.0h0M208.0 328.0h0M209.0 338.0h0M208.0 331.0h0" stroke="#902840" stroke-width="2.4" stroke-linecap="round" fill="none"/>
<path d="M211.0 271.5h0M213.0 283.0h0M223.0 285.0h0M223.5 270.0h0M228.0 264.0h0M260.0 296.5h0M261.0 268.0h0M268.0 270.0h0M266.0 285.0h0M269.0 288.0h0M262.0 296.0h0M282.0 292.0h0M285.0 297.0h0M300.0 264.0h0M301.0 268.0h0M316.0 266.0h0M316.0 269.0h0M314.0 280.0h0M320.0 288.0h0M322.0 312.0h0" stroke="#3a3ac8" stroke-width="2.4" stroke-linecap="round" fill="none"/>
<rect x="91.3" y="19.5" width="444.7" height="357.5" fill="none" stroke="#5c5c5c" stroke-width="1.1"/><path d="M91.3 377.0v7M91.3 19.5v-7M109.8 377.0v4M109.8 19.5v-4M128.3 377.0v4M128.3 19.5v-4M146.9 377.0v4M146.9 19.5v-4M165.4 377.0v4M165.4 19.5v-4M183.9 377.0v7M183.9 19.5v-7M202.4 377.0v4M202.4 19.5v-4M220.9 377.0v4M220.9 19.5v-4M239.5 377.0v4M239.5 19.5v-4M258.0 377.0v4M258.0 19.5v-4M276.5 377.0v7M276.5 19.5v-7M295.0 377.0v4M295.0 19.5v-4M313.5 377.0v4M313.5 19.5v-4M332.1 377.0v4M332.1 19.5v-4M350.6 377.0v4M350.6 19.5v-4M369.1 377.0v7M369.1 19.5v-7M387.6 377.0v4M387.6 19.5v-4M406.1 377.0v4M406.1 19.5v-4M424.7 377.0v4M424.7 19.5v-4M443.2 377.0v4M443.2 19.5v-4M461.7 377.0v7M461.7 19.5v-7M480.2 377.0v4M480.2 19.5v-4M498.7 377.0v4M498.7 19.5v-4M517.3 377.0v4M517.3 19.5v-4M535.8 377.0v4M535.8 19.5v-4M86.3 377.5h5M536.0 377.5h5M88.3 347.6h3M536.0 347.6h3M88.3 330.1h3M536.0 330.1h3M88.3 317.7h3M536.0 317.7h3M88.3 308.0h3M536.0 308.0h3M88.3 300.2h3M536.0 300.2h3M88.3 293.5h3M536.0 293.5h3M88.3 287.7h3M536.0 287.7h3M88.3 282.6h3M536.0 282.6h3M86.3 278.1h5M536.0 278.1h5M88.3 248.2h3M536.0 248.2h3M88.3 230.7h3M536.0 230.7h3M88.3 218.3h3M536.0 218.3h3M88.3 208.6h3M536.0 208.6h3M88.3 200.8h3M536.0 200.8h3M88.3 194.1h3M536.0 194.1h3M88.3 188.3h3M536.0 188.3h3M88.3 183.2h3M536.0 183.2h3M86.3 178.7h5M536.0 178.7h5M88.3 148.8h3M536.0 148.8h3M88.3 131.3h3M536.0 131.3h3M88.3 118.9h3M536.0 118.9h3M88.3 109.2h3M536.0 109.2h3M88.3 101.4h3M536.0 101.4h3M88.3 94.7h3M536.0 94.7h3M88.3 88.9h3M536.0 88.9h3M88.3 83.8h3M536.0 83.8h3M86.3 79.3h5M536.0 79.3h5M88.3 49.4h3M536.0 49.4h3M88.3 31.9h3M536.0 31.9h3M88.3 19.5h3M536.0 19.5h3" stroke="#4a4a4a" stroke-width="1.2" fill="none"/>
<text x="82.4" y="377.3" text-anchor="end" class="tk">10</text><text x="82.4" y="282.7" text-anchor="end" class="tk">100</text><text x="82.4" y="183.3" text-anchor="end" class="tk">1000</text><text x="82.4" y="83.9" text-anchor="end" class="tk">10000</text><text x="91.3" y="403.2" text-anchor="middle" class="tk">2000</text><text x="183.9" y="403.2" text-anchor="middle" class="tk">2005</text><text x="276.5" y="403.2" text-anchor="middle" class="tk">2010</text><text x="369.1" y="403.2" text-anchor="middle" class="tk">2015</text><text x="461.7" y="403.2" text-anchor="middle" class="tk">2020</text><text x="100.5" y="38.4" class="lg" fill="#dcd6d6" stroke="#dcd6d6">Spire (2018-)</text><text x="100.5" y="55.8" class="lg" fill="#cc4464" stroke="#cc4464">COSMIC-2 (2019-)</text><text x="100.5" y="73.3" class="lg" fill="#3636a8" stroke="#3636a8">KOMPSAT-5 (2015-)</text><text x="100.5" y="90.8" class="lg" fill="#6a3cd0" stroke="#6a3cd0">MetOp-A (2006-)</text><text x="100.5" y="108.2" class="lg" fill="#6e3ccc" stroke="#6e3ccc">MetOp-B (2012-)</text><text x="100.5" y="125.7" class="lg" fill="#6440c8" stroke="#6440c8">MetOp-C (2018-)</text><text x="100.5" y="143.1" class="lg" fill="#b058c0" stroke="#b058c0">TerraSAR-X (2009-)</text><text x="100.5" y="160.5" class="lg" fill="#5e48ac" stroke="#5e48ac">TanDem-X (2016-)</text><text x="100.5" y="178.0" class="lg" fill="#5a9244" stroke="#5a9244">FY-3D (2017-)</text><text x="100.5" y="195.4" class="lg" fill="#5e9040" stroke="#5e9040">FY-3C (2013-)</text><text x="100.5" y="212.9" class="lg" fill="#86aec8" stroke="#86aec8">PAZ (2018-)</text><text x="222" y="36.5" class="lg" fill="#3a34b8" stroke="#3a34b8">CHAMP (2001-2008)</text><text x="222" y="54.0" class="lg" fill="#4aaa3a" stroke="#4aaa3a">SACC (2000-2013)</text><text x="222" y="71.4" class="lg" fill="#d8cccc" stroke="#d8cccc">GRACE (2007-2017)</text><text x="222" y="88.8" class="lg" fill="#a83050" stroke="#a83050">COSMIC-1 (2006-2020)</text><text x="351.3" y="31.8" class="lg" fill="#222" stroke="#222" style="font-size:12.6px">Total (2001-present)</text><text transform="translate(26.9,322.6) rotate(-90)" class="yl">Number of Daily Occultations in L1B</text>
</svg>
</body></html>
